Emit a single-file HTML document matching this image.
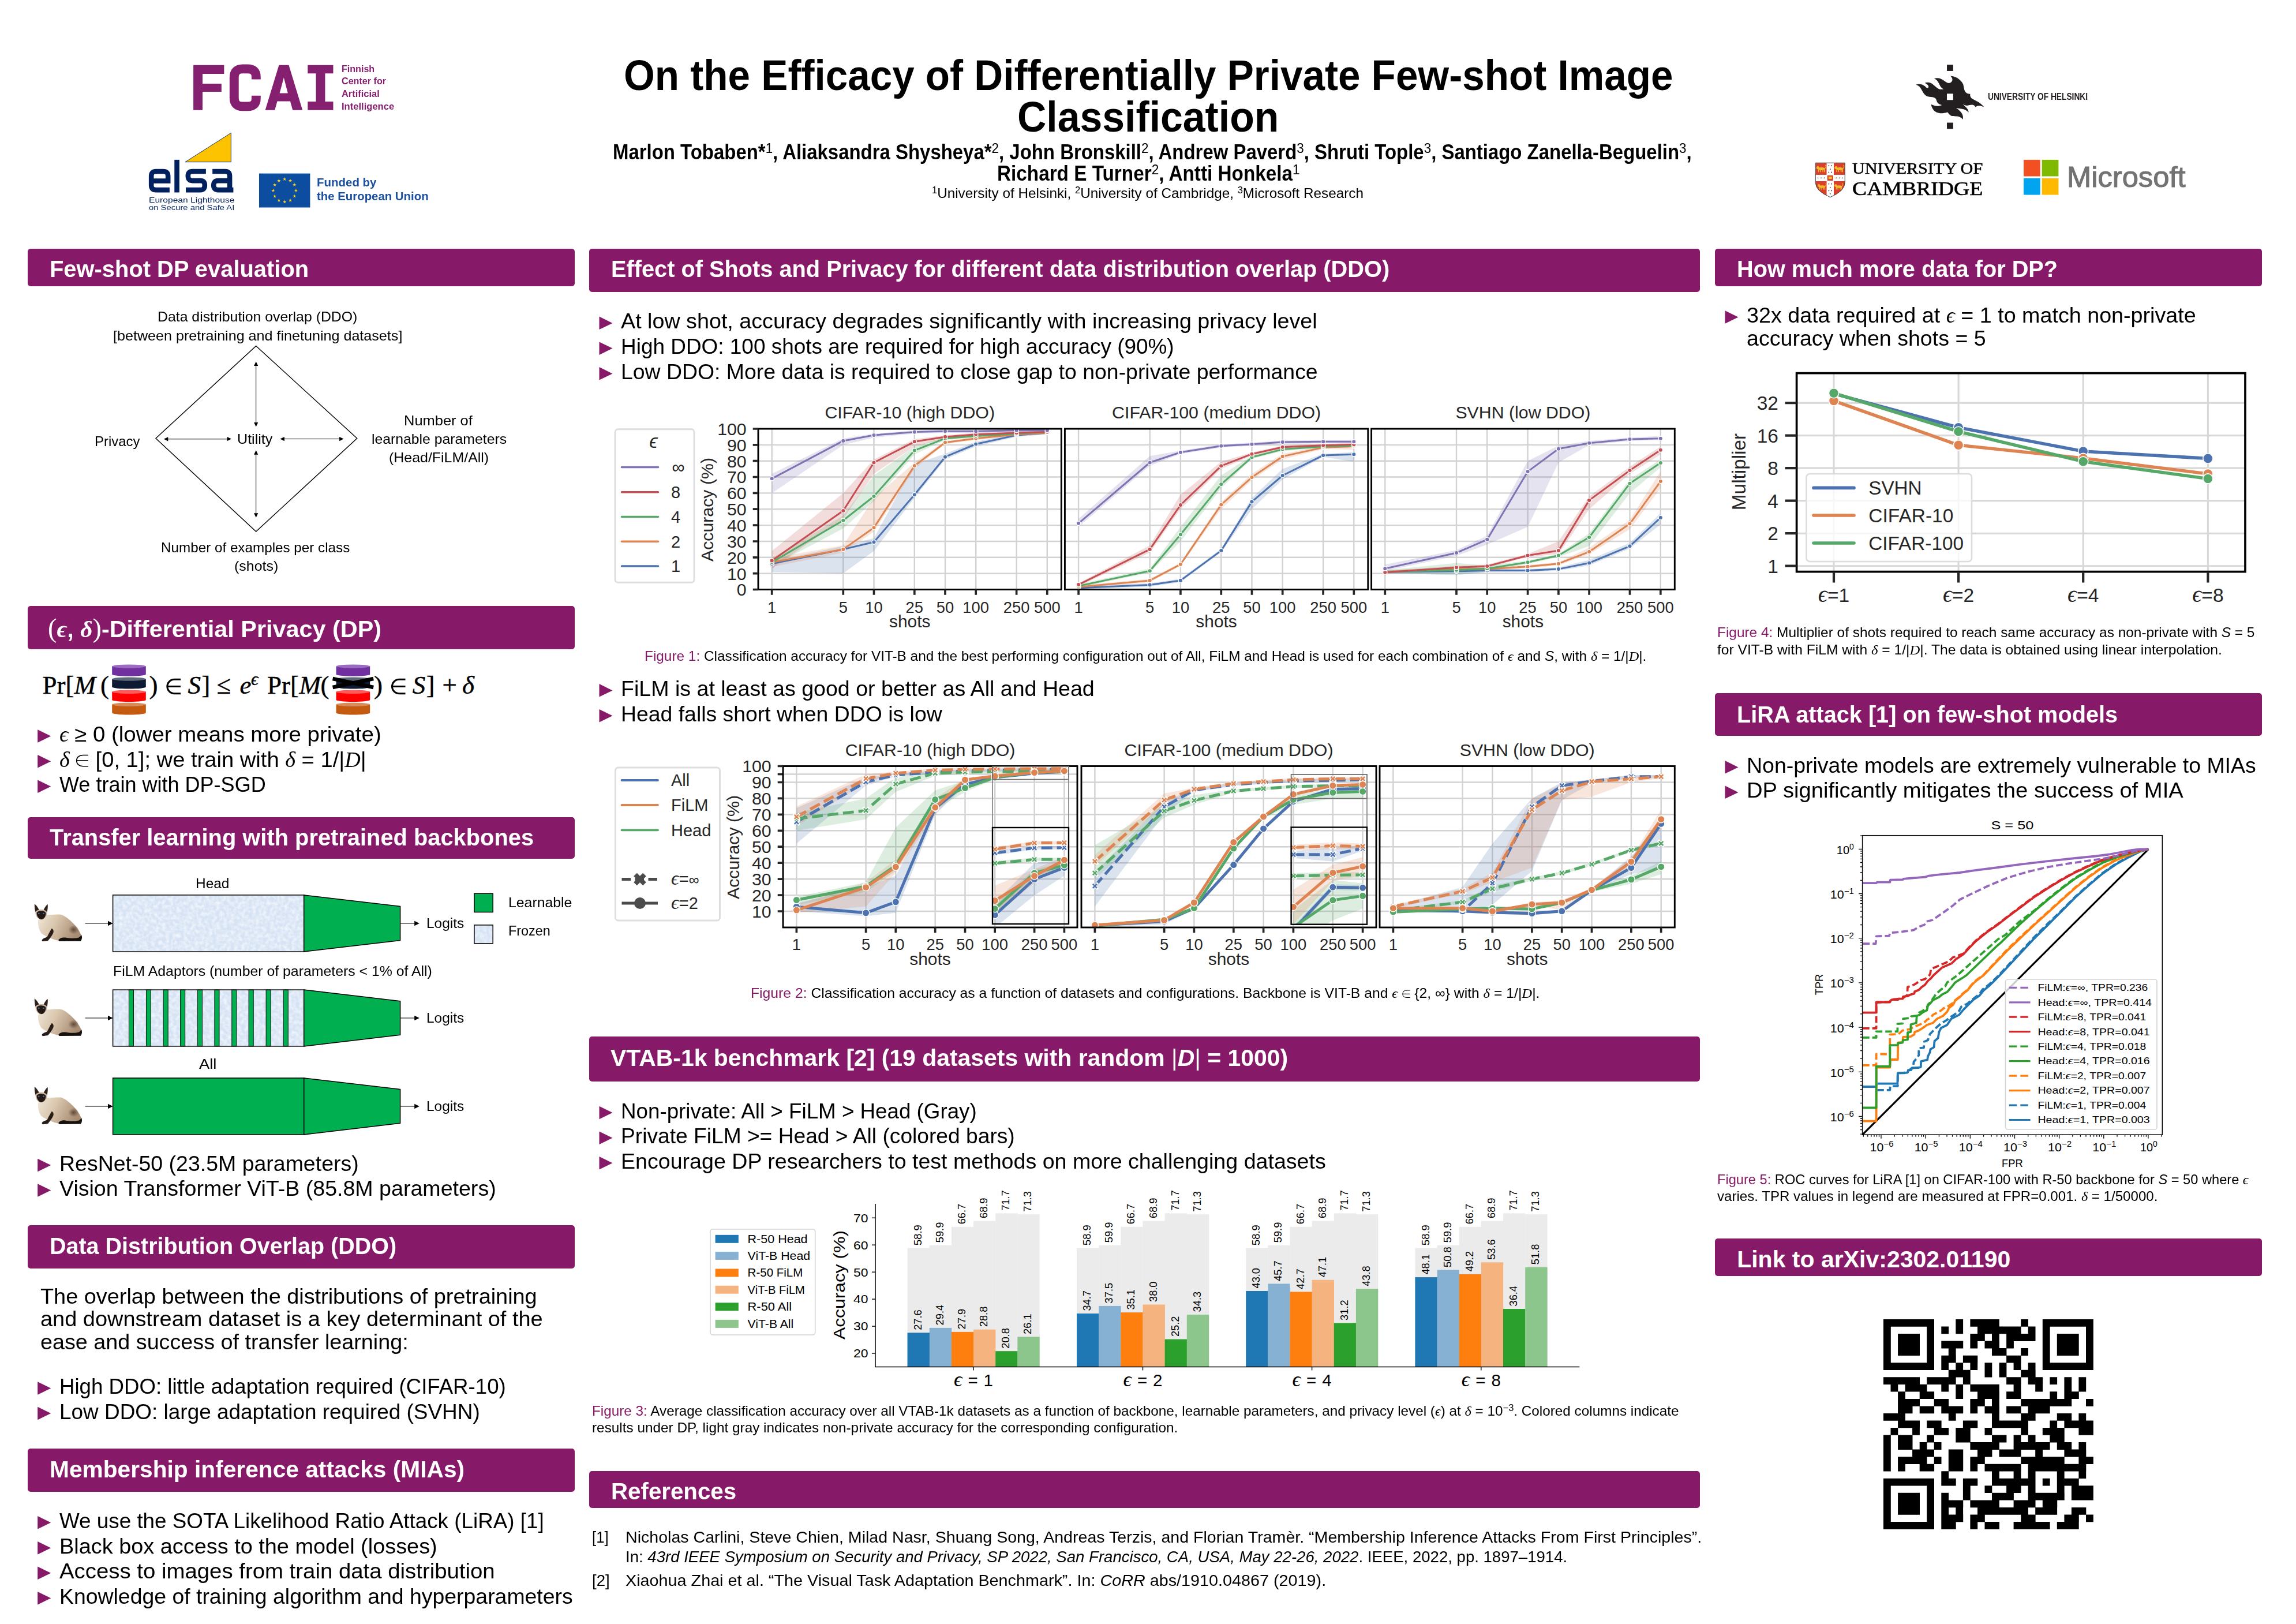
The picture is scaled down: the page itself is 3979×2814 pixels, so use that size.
<!DOCTYPE html>
<html lang="en"><head><meta charset="utf-8"><title>On the Efficacy of Differentially Private Few-shot Image Classification</title>
<style>
html,body{margin:0;padding:0;background:#fff}
body{width:3979px;height:2814px;position:relative;overflow:hidden;font-family:'Liberation Sans', sans-serif}
.bar{position:absolute;background:#871a68;border-radius:5px}
.t{position:absolute;white-space:nowrap;line-height:1;transform-origin:0 0}
sup{font-size:.68em;font-weight:normal;vertical-align:baseline;position:relative;top:-.45em;line-height:0}
.m{font-family:"Liberation Serif",serif;font-style:italic}
svg text{font-family:"Liberation Sans",sans-serif}
#g{position:absolute;left:0;top:0}
</style></head>
<body>
<div class="bar" style="left:47.5px;top:431.0px;width:948.5px;height:65.3px"></div>
<div class="bar" style="left:47.5px;top:1049.5px;width:948.5px;height:75.5px"></div>
<div class="bar" style="left:47.5px;top:1416.0px;width:948.5px;height:72.0px"></div>
<div class="bar" style="left:47.5px;top:2123.3px;width:948.5px;height:74.9px"></div>
<div class="bar" style="left:47.5px;top:2509.6px;width:948.5px;height:75.4px"></div>
<div class="bar" style="left:1021.0px;top:431.4px;width:1925.0px;height:74.7px"></div>
<div class="bar" style="left:1021.0px;top:1796.0px;width:1925.0px;height:78.0px"></div>
<div class="bar" style="left:1021.0px;top:2549.0px;width:1925.0px;height:64.0px"></div>
<div class="bar" style="left:2971.5px;top:431.0px;width:948.5px;height:65.3px"></div>
<div class="bar" style="left:2971.5px;top:1201.0px;width:948.5px;height:74.0px"></div>
<div class="bar" style="left:2971.5px;top:2146.0px;width:948.5px;height:65.0px"></div>
<svg id="g" width="3979" height="2814" viewBox="0 0 3979 2814">
<polygon points="65.2,1264.2 88.2,1275.5 65.2,1286.7" fill="#871a68"/>
<polygon points="65.2,1307.9 88.2,1319.2 65.2,1330.4" fill="#871a68"/>
<polygon points="65.2,1351.5 88.2,1362.8 65.2,1374.0" fill="#871a68"/>
<polygon points="65.2,2007.7 88.2,2019.0 65.2,2030.2" fill="#871a68"/>
<polygon points="65.2,2051.2 88.2,2062.5 65.2,2073.7" fill="#871a68"/>
<polygon points="65.2,2394.3 88.2,2405.6 65.2,2416.8" fill="#871a68"/>
<polygon points="65.2,2437.8 88.2,2449.1 65.2,2460.3" fill="#871a68"/>
<polygon points="65.2,2627.1 88.2,2638.3 65.2,2649.6" fill="#871a68"/>
<polygon points="65.2,2671.1 88.2,2682.3 65.2,2693.6" fill="#871a68"/>
<polygon points="65.2,2714.6 88.2,2725.8 65.2,2737.1" fill="#871a68"/>
<polygon points="65.2,2758.1 88.2,2769.3 65.2,2780.6" fill="#871a68"/>
<polygon points="1038.5,548.6 1061.5,559.9 1038.5,571.1" fill="#871a68"/>
<polygon points="1038.5,592.4 1061.5,603.6 1038.5,614.9" fill="#871a68"/>
<polygon points="1038.5,636.1 1061.5,647.4 1038.5,658.6" fill="#871a68"/>
<polygon points="1038.5,1185.1 1061.5,1196.4 1038.5,1207.6" fill="#871a68"/>
<polygon points="1038.5,1228.9 1061.5,1240.2 1038.5,1251.4" fill="#871a68"/>
<polygon points="1038.5,1916.8 1061.5,1928.1 1038.5,1939.3" fill="#871a68"/>
<polygon points="1038.5,1960.4 1061.5,1971.7 1038.5,1982.9" fill="#871a68"/>
<polygon points="1038.5,2004.0 1061.5,2015.2 1038.5,2026.5" fill="#871a68"/>
<polygon points="2989.5,538.2 3012.5,549.4 2989.5,560.7" fill="#871a68"/>
<polygon points="2989.5,1318.1 3012.5,1329.4 2989.5,1340.6" fill="#871a68"/>
<polygon points="2989.5,1361.6 3012.5,1372.9 2989.5,1384.1" fill="#871a68"/>
<g id="fig1">
<clipPath id="c10"><rect x="1314" y="743" width="525.3" height="278.5"/></clipPath>
<path d="M1337.7 743V1021.5M1461.3 743V1021.5M1514.5 743V1021.5M1584.8 743V1021.5M1638.0 743V1021.5M1691.2 743V1021.5M1761.6 743V1021.5M1814.8 743V1021.5M1314 1021.5H1839.3M1314 993.6H1839.3M1314 965.8H1839.3M1314 938.0H1839.3M1314 910.1H1839.3M1314 882.2H1839.3M1314 854.4H1839.3M1314 826.5H1839.3M1314 798.7H1839.3M1314 770.9H1839.3M1314 743.0H1839.3" stroke="#d2d2d2" stroke-width="2.4" fill="none"/>
<polygon points="1337.7,972.8 1461.3,946.3 1514.5,932.4 1584.8,804.3 1638.0,786.2 1691.2,765.3 1761.6,751.4 1814.8,747.2 1814.8,752.7 1761.6,756.9 1691.2,773.6 1638.0,795.9 1584.8,862.8 1514.5,954.7 1461.3,993.6 1337.7,990.9" fill="#4c72b0" fill-opacity="0.2" clip-path="url(#c10)"/>
<polygon points="1337.7,967.2 1461.3,944.9 1514.5,862.8 1584.8,801.5 1638.0,763.9 1691.2,756.9 1761.6,750.0 1814.8,747.2 1814.8,752.7 1761.6,755.5 1691.2,762.5 1638.0,769.5 1584.8,812.6 1514.5,921.2 1461.3,957.4 1337.7,982.5" fill="#dd8452" fill-opacity="0.2" clip-path="url(#c10)"/>
<polygon points="1337.7,967.2 1461.3,893.4 1514.5,823.8 1584.8,773.6 1638.0,756.9 1691.2,752.7 1761.6,748.6 1814.8,745.8 1814.8,751.4 1761.6,754.1 1691.2,758.3 1638.0,762.5 1584.8,787.6 1514.5,868.3 1461.3,915.7 1337.7,981.1" fill="#55a868" fill-opacity="0.2" clip-path="url(#c10)"/>
<polygon points="1337.7,954.7 1461.3,854.4 1514.5,795.9 1584.8,761.1 1638.0,754.1 1691.2,750.0 1761.6,747.2 1814.8,745.8 1814.8,751.4 1761.6,752.7 1691.2,755.5 1638.0,759.7 1584.8,773.6 1514.5,821.0 1461.3,899.0 1337.7,985.3" fill="#c44e52" fill-opacity="0.2" clip-path="url(#c10)"/>
<polygon points="1337.7,821.0 1461.3,759.7 1514.5,751.4 1584.8,745.8 1638.0,744.4 1691.2,744.4 1761.6,743.0 1814.8,743.0 1814.8,748.6 1761.6,748.6 1691.2,750.0 1638.0,750.0 1584.8,751.4 1514.5,758.3 1461.3,770.9 1337.7,854.4" fill="#8172b3" fill-opacity="0.2" clip-path="url(#c10)"/>
<polyline points="1337.7,976.9 1461.3,951.9 1514.5,939.3 1584.8,857.2 1638.0,791.7 1691.2,769.5 1761.6,754.1 1814.8,750.0" fill="none" stroke="#4c72b0" stroke-width="3.0" stroke-linejoin="round" clip-path="url(#c10)"/>
<circle cx="1337.7" cy="976.9" r="3.7" fill="#4c72b0" stroke="#fff" stroke-width="1.3"/>
<circle cx="1461.3" cy="951.9" r="3.7" fill="#4c72b0" stroke="#fff" stroke-width="1.3"/>
<circle cx="1514.5" cy="939.3" r="3.7" fill="#4c72b0" stroke="#fff" stroke-width="1.3"/>
<circle cx="1584.8" cy="857.2" r="3.7" fill="#4c72b0" stroke="#fff" stroke-width="1.3"/>
<circle cx="1638.0" cy="791.7" r="3.7" fill="#4c72b0" stroke="#fff" stroke-width="1.3"/>
<circle cx="1691.2" cy="769.5" r="3.7" fill="#4c72b0" stroke="#fff" stroke-width="1.3"/>
<circle cx="1761.6" cy="754.1" r="3.7" fill="#4c72b0" stroke="#fff" stroke-width="1.3"/>
<circle cx="1814.8" cy="750.0" r="3.7" fill="#4c72b0" stroke="#fff" stroke-width="1.3"/>
<polyline points="1337.7,974.2 1461.3,951.9 1514.5,914.3 1584.8,807.1 1638.0,766.7 1691.2,759.7 1761.6,752.7 1814.8,750.0" fill="none" stroke="#dd8452" stroke-width="3.0" stroke-linejoin="round" clip-path="url(#c10)"/>
<circle cx="1337.7" cy="974.2" r="3.7" fill="#dd8452" stroke="#fff" stroke-width="1.3"/>
<circle cx="1461.3" cy="951.9" r="3.7" fill="#dd8452" stroke="#fff" stroke-width="1.3"/>
<circle cx="1514.5" cy="914.3" r="3.7" fill="#dd8452" stroke="#fff" stroke-width="1.3"/>
<circle cx="1584.8" cy="807.1" r="3.7" fill="#dd8452" stroke="#fff" stroke-width="1.3"/>
<circle cx="1638.0" cy="766.7" r="3.7" fill="#dd8452" stroke="#fff" stroke-width="1.3"/>
<circle cx="1691.2" cy="759.7" r="3.7" fill="#dd8452" stroke="#fff" stroke-width="1.3"/>
<circle cx="1761.6" cy="752.7" r="3.7" fill="#dd8452" stroke="#fff" stroke-width="1.3"/>
<circle cx="1814.8" cy="750.0" r="3.7" fill="#dd8452" stroke="#fff" stroke-width="1.3"/>
<polyline points="1337.7,974.2 1461.3,901.7 1514.5,860.0 1584.8,780.6 1638.0,759.7 1691.2,755.5 1761.6,751.4 1814.8,748.6" fill="none" stroke="#55a868" stroke-width="3.0" stroke-linejoin="round" clip-path="url(#c10)"/>
<circle cx="1337.7" cy="974.2" r="3.7" fill="#55a868" stroke="#fff" stroke-width="1.3"/>
<circle cx="1461.3" cy="901.7" r="3.7" fill="#55a868" stroke="#fff" stroke-width="1.3"/>
<circle cx="1514.5" cy="860.0" r="3.7" fill="#55a868" stroke="#fff" stroke-width="1.3"/>
<circle cx="1584.8" cy="780.6" r="3.7" fill="#55a868" stroke="#fff" stroke-width="1.3"/>
<circle cx="1638.0" cy="759.7" r="3.7" fill="#55a868" stroke="#fff" stroke-width="1.3"/>
<circle cx="1691.2" cy="755.5" r="3.7" fill="#55a868" stroke="#fff" stroke-width="1.3"/>
<circle cx="1761.6" cy="751.4" r="3.7" fill="#55a868" stroke="#fff" stroke-width="1.3"/>
<circle cx="1814.8" cy="748.6" r="3.7" fill="#55a868" stroke="#fff" stroke-width="1.3"/>
<polyline points="1337.7,971.4 1461.3,885.0 1514.5,801.5 1584.8,765.3 1638.0,756.9 1691.2,752.7 1761.6,750.0 1814.8,748.6" fill="none" stroke="#c44e52" stroke-width="3.0" stroke-linejoin="round" clip-path="url(#c10)"/>
<circle cx="1337.7" cy="971.4" r="3.7" fill="#c44e52" stroke="#fff" stroke-width="1.3"/>
<circle cx="1461.3" cy="885.0" r="3.7" fill="#c44e52" stroke="#fff" stroke-width="1.3"/>
<circle cx="1514.5" cy="801.5" r="3.7" fill="#c44e52" stroke="#fff" stroke-width="1.3"/>
<circle cx="1584.8" cy="765.3" r="3.7" fill="#c44e52" stroke="#fff" stroke-width="1.3"/>
<circle cx="1638.0" cy="756.9" r="3.7" fill="#c44e52" stroke="#fff" stroke-width="1.3"/>
<circle cx="1691.2" cy="752.7" r="3.7" fill="#c44e52" stroke="#fff" stroke-width="1.3"/>
<circle cx="1761.6" cy="750.0" r="3.7" fill="#c44e52" stroke="#fff" stroke-width="1.3"/>
<circle cx="1814.8" cy="748.6" r="3.7" fill="#c44e52" stroke="#fff" stroke-width="1.3"/>
<polyline points="1337.7,829.3 1461.3,763.9 1514.5,754.1 1584.8,748.6 1638.0,747.2 1691.2,747.2 1761.6,745.8 1814.8,745.8" fill="none" stroke="#8172b3" stroke-width="3.0" stroke-linejoin="round" clip-path="url(#c10)"/>
<circle cx="1337.7" cy="829.3" r="3.7" fill="#8172b3" stroke="#fff" stroke-width="1.3"/>
<circle cx="1461.3" cy="763.9" r="3.7" fill="#8172b3" stroke="#fff" stroke-width="1.3"/>
<circle cx="1514.5" cy="754.1" r="3.7" fill="#8172b3" stroke="#fff" stroke-width="1.3"/>
<circle cx="1584.8" cy="748.6" r="3.7" fill="#8172b3" stroke="#fff" stroke-width="1.3"/>
<circle cx="1638.0" cy="747.2" r="3.7" fill="#8172b3" stroke="#fff" stroke-width="1.3"/>
<circle cx="1691.2" cy="747.2" r="3.7" fill="#8172b3" stroke="#fff" stroke-width="1.3"/>
<circle cx="1761.6" cy="745.8" r="3.7" fill="#8172b3" stroke="#fff" stroke-width="1.3"/>
<circle cx="1814.8" cy="745.8" r="3.7" fill="#8172b3" stroke="#fff" stroke-width="1.3"/>
<rect x="1314" y="743" width="525.3" height="278.5" fill="none" stroke="#000" stroke-width="2.9"/>
<path d="M1337.7 1021.5v9.3M1461.3 1021.5v9.3M1514.5 1021.5v9.3M1584.8 1021.5v9.3M1638.0 1021.5v9.3M1691.2 1021.5v9.3M1761.6 1021.5v9.3M1814.8 1021.5v9.3" stroke="#262626" stroke-width="3.7"/>
<text x="1337.7" y="1061.8" font-size="27.4" text-anchor="middle" fill="#262626" >1</text>
<text x="1461.3" y="1061.8" font-size="27.4" text-anchor="middle" fill="#262626" >5</text>
<text x="1514.5" y="1061.8" font-size="27.4" text-anchor="middle" fill="#262626" >10</text>
<text x="1584.8" y="1061.8" font-size="27.4" text-anchor="middle" fill="#262626" >25</text>
<text x="1638.0" y="1061.8" font-size="27.4" text-anchor="middle" fill="#262626" >50</text>
<text x="1691.2" y="1061.8" font-size="27.4" text-anchor="middle" fill="#262626" >100</text>
<text x="1761.6" y="1061.8" font-size="27.4" text-anchor="middle" fill="#262626" >250</text>
<text x="1814.8" y="1061.8" font-size="27.4" text-anchor="middle" fill="#262626" >500</text>
<path d="M1314 1021.5h-9.3M1314 993.6h-9.3M1314 965.8h-9.3M1314 938.0h-9.3M1314 910.1h-9.3M1314 882.2h-9.3M1314 854.4h-9.3M1314 826.5h-9.3M1314 798.7h-9.3M1314 770.9h-9.3M1314 743.0h-9.3" stroke="#262626" stroke-width="3.7"/>
<text x="1293.7" y="1032.3" font-size="30.3" text-anchor="end" fill="#262626" >0</text>
<text x="1293.7" y="1004.5" font-size="30.3" text-anchor="end" fill="#262626" >10</text>
<text x="1293.7" y="976.6" font-size="30.3" text-anchor="end" fill="#262626" >20</text>
<text x="1293.7" y="948.8" font-size="30.3" text-anchor="end" fill="#262626" >30</text>
<text x="1293.7" y="920.9" font-size="30.3" text-anchor="end" fill="#262626" >40</text>
<text x="1293.7" y="893.1" font-size="30.3" text-anchor="end" fill="#262626" >50</text>
<text x="1293.7" y="865.2" font-size="30.3" text-anchor="end" fill="#262626" >60</text>
<text x="1293.7" y="837.4" font-size="30.3" text-anchor="end" fill="#262626" >70</text>
<text x="1293.7" y="809.5" font-size="30.3" text-anchor="end" fill="#262626" >80</text>
<text x="1293.7" y="781.7" font-size="30.3" text-anchor="end" fill="#262626" >90</text>
<text x="1293.7" y="753.8" font-size="30.3" text-anchor="end" fill="#262626" >100</text>
<text x="1576.7" y="724.8" font-size="30.3" text-anchor="middle" fill="#262626" >CIFAR-10 (high DDO)</text>
<text x="1576.7" y="1087.4" font-size="29.9" text-anchor="middle" fill="#262626" >shots</text>
<clipPath id="c11"><rect x="1845.4" y="743" width="525.4000000000001" height="278.5"/></clipPath>
<path d="M1869.1 743V1021.5M1992.7 743V1021.5M2045.9 743V1021.5M2116.3 743V1021.5M2169.5 743V1021.5M2222.7 743V1021.5M2293.1 743V1021.5M2346.3 743V1021.5M1845.4 1021.5H2370.8M1845.4 993.6H2370.8M1845.4 965.8H2370.8M1845.4 938.0H2370.8M1845.4 910.1H2370.8M1845.4 882.2H2370.8M1845.4 854.4H2370.8M1845.4 826.5H2370.8M1845.4 798.7H2370.8M1845.4 770.9H2370.8M1845.4 743.0H2370.8" stroke="#d2d2d2" stroke-width="2.4" fill="none"/>
<polygon points="1869.1,1015.9 1992.7,1010.6 2045.9,1003.1 2116.3,951.3 2169.5,862.8 2222.7,812.6 2293.1,786.2 2346.3,783.4 2346.3,800.1 2293.1,791.7 2222.7,830.7 2169.5,882.2 2116.3,956.9 2045.9,1008.7 1992.7,1016.2 1869.1,1021.5" fill="#4c72b0" fill-opacity="0.2" clip-path="url(#c11)"/>
<polygon points="1869.1,1014.3 1992.7,1003.1 2045.9,975.0 2116.3,869.7 2169.5,821.0 2222.7,786.2 2293.1,772.5 2346.3,770.9 2346.3,779.2 2293.1,778.1 2222.7,795.9 2169.5,832.1 2116.3,882.2 2045.9,980.6 1992.7,1008.7 1869.1,1019.8" fill="#dd8452" fill-opacity="0.2" clip-path="url(#c11)"/>
<polygon points="1869.1,1012.6 1992.7,985.3 2045.9,912.9 2116.3,823.8 2169.5,789.5 2222.7,775.9 2293.1,770.9 2346.3,769.5 2346.3,775.0 2293.1,776.4 2222.7,781.4 2169.5,795.1 2116.3,846.0 2045.9,938.0 1992.7,992.3 1869.1,1018.2" fill="#55a868" fill-opacity="0.2" clip-path="url(#c11)"/>
<polygon points="1869.1,1010.4 1992.7,944.9 2045.9,857.2 2116.3,800.1 2169.5,783.9 2222.7,772.0 2293.1,768.9 2346.3,767.5 2346.3,773.1 2293.1,774.5 2222.7,777.5 2169.5,789.5 2116.3,812.6 2045.9,882.2 1992.7,957.4 1869.1,1015.9" fill="#c44e52" fill-opacity="0.2" clip-path="url(#c11)"/>
<polygon points="1869.1,899.0 1992.7,790.3 2045.9,780.9 2116.3,770.0 2169.5,767.0 2222.7,763.3 2293.1,762.5 2346.3,762.5 2346.3,768.1 2293.1,768.1 2222.7,768.9 2169.5,772.5 2116.3,775.6 2045.9,786.4 1992.7,807.1 1869.1,912.9" fill="#8172b3" fill-opacity="0.2" clip-path="url(#c11)"/>
<polyline points="1869.1,1018.7 1992.7,1013.4 2045.9,1005.9 2116.3,954.1 2169.5,869.4 2222.7,824.0 2293.1,789.0 2346.3,787.3" fill="none" stroke="#4c72b0" stroke-width="3.0" stroke-linejoin="round" clip-path="url(#c11)"/>
<circle cx="1869.1" cy="1018.7" r="3.7" fill="#4c72b0" stroke="#fff" stroke-width="1.3"/>
<circle cx="1992.7" cy="1013.4" r="3.7" fill="#4c72b0" stroke="#fff" stroke-width="1.3"/>
<circle cx="2045.9" cy="1005.9" r="3.7" fill="#4c72b0" stroke="#fff" stroke-width="1.3"/>
<circle cx="2116.3" cy="954.1" r="3.7" fill="#4c72b0" stroke="#fff" stroke-width="1.3"/>
<circle cx="2169.5" cy="869.4" r="3.7" fill="#4c72b0" stroke="#fff" stroke-width="1.3"/>
<circle cx="2222.7" cy="824.0" r="3.7" fill="#4c72b0" stroke="#fff" stroke-width="1.3"/>
<circle cx="2293.1" cy="789.0" r="3.7" fill="#4c72b0" stroke="#fff" stroke-width="1.3"/>
<circle cx="2346.3" cy="787.3" r="3.7" fill="#4c72b0" stroke="#fff" stroke-width="1.3"/>
<polyline points="1869.1,1017.0 1992.7,1005.9 2045.9,977.8 2116.3,874.5 2169.5,827.1 2222.7,790.9 2293.1,775.3 2346.3,773.6" fill="none" stroke="#dd8452" stroke-width="3.0" stroke-linejoin="round" clip-path="url(#c11)"/>
<circle cx="1869.1" cy="1017.0" r="3.7" fill="#dd8452" stroke="#fff" stroke-width="1.3"/>
<circle cx="1992.7" cy="1005.9" r="3.7" fill="#dd8452" stroke="#fff" stroke-width="1.3"/>
<circle cx="2045.9" cy="977.8" r="3.7" fill="#dd8452" stroke="#fff" stroke-width="1.3"/>
<circle cx="2116.3" cy="874.5" r="3.7" fill="#dd8452" stroke="#fff" stroke-width="1.3"/>
<circle cx="2169.5" cy="827.1" r="3.7" fill="#dd8452" stroke="#fff" stroke-width="1.3"/>
<circle cx="2222.7" cy="790.9" r="3.7" fill="#dd8452" stroke="#fff" stroke-width="1.3"/>
<circle cx="2293.1" cy="775.3" r="3.7" fill="#dd8452" stroke="#fff" stroke-width="1.3"/>
<circle cx="2346.3" cy="773.6" r="3.7" fill="#dd8452" stroke="#fff" stroke-width="1.3"/>
<polyline points="1869.1,1015.4 1992.7,989.2 2045.9,926.3 2116.3,839.1 2169.5,792.3 2222.7,778.6 2293.1,773.6 2346.3,772.2" fill="none" stroke="#55a868" stroke-width="3.0" stroke-linejoin="round" clip-path="url(#c11)"/>
<circle cx="1869.1" cy="1015.4" r="3.7" fill="#55a868" stroke="#fff" stroke-width="1.3"/>
<circle cx="1992.7" cy="989.2" r="3.7" fill="#55a868" stroke="#fff" stroke-width="1.3"/>
<circle cx="2045.9" cy="926.3" r="3.7" fill="#55a868" stroke="#fff" stroke-width="1.3"/>
<circle cx="2116.3" cy="839.1" r="3.7" fill="#55a868" stroke="#fff" stroke-width="1.3"/>
<circle cx="2169.5" cy="792.3" r="3.7" fill="#55a868" stroke="#fff" stroke-width="1.3"/>
<circle cx="2222.7" cy="778.6" r="3.7" fill="#55a868" stroke="#fff" stroke-width="1.3"/>
<circle cx="2293.1" cy="773.6" r="3.7" fill="#55a868" stroke="#fff" stroke-width="1.3"/>
<circle cx="2346.3" cy="772.2" r="3.7" fill="#55a868" stroke="#fff" stroke-width="1.3"/>
<polyline points="1869.1,1013.1 1992.7,951.9 2045.9,875.0 2116.3,807.3 2169.5,786.7 2222.7,774.7 2293.1,771.7 2346.3,770.3" fill="none" stroke="#c44e52" stroke-width="3.0" stroke-linejoin="round" clip-path="url(#c11)"/>
<circle cx="1869.1" cy="1013.1" r="3.7" fill="#c44e52" stroke="#fff" stroke-width="1.3"/>
<circle cx="1992.7" cy="951.9" r="3.7" fill="#c44e52" stroke="#fff" stroke-width="1.3"/>
<circle cx="2045.9" cy="875.0" r="3.7" fill="#c44e52" stroke="#fff" stroke-width="1.3"/>
<circle cx="2116.3" cy="807.3" r="3.7" fill="#c44e52" stroke="#fff" stroke-width="1.3"/>
<circle cx="2169.5" cy="786.7" r="3.7" fill="#c44e52" stroke="#fff" stroke-width="1.3"/>
<circle cx="2222.7" cy="774.7" r="3.7" fill="#c44e52" stroke="#fff" stroke-width="1.3"/>
<circle cx="2293.1" cy="771.7" r="3.7" fill="#c44e52" stroke="#fff" stroke-width="1.3"/>
<circle cx="2346.3" cy="770.3" r="3.7" fill="#c44e52" stroke="#fff" stroke-width="1.3"/>
<polyline points="1869.1,906.8 1992.7,801.5 2045.9,783.7 2116.3,772.8 2169.5,769.7 2222.7,766.1 2293.1,765.3 2346.3,765.3" fill="none" stroke="#8172b3" stroke-width="3.0" stroke-linejoin="round" clip-path="url(#c11)"/>
<circle cx="1869.1" cy="906.8" r="3.7" fill="#8172b3" stroke="#fff" stroke-width="1.3"/>
<circle cx="1992.7" cy="801.5" r="3.7" fill="#8172b3" stroke="#fff" stroke-width="1.3"/>
<circle cx="2045.9" cy="783.7" r="3.7" fill="#8172b3" stroke="#fff" stroke-width="1.3"/>
<circle cx="2116.3" cy="772.8" r="3.7" fill="#8172b3" stroke="#fff" stroke-width="1.3"/>
<circle cx="2169.5" cy="769.7" r="3.7" fill="#8172b3" stroke="#fff" stroke-width="1.3"/>
<circle cx="2222.7" cy="766.1" r="3.7" fill="#8172b3" stroke="#fff" stroke-width="1.3"/>
<circle cx="2293.1" cy="765.3" r="3.7" fill="#8172b3" stroke="#fff" stroke-width="1.3"/>
<circle cx="2346.3" cy="765.3" r="3.7" fill="#8172b3" stroke="#fff" stroke-width="1.3"/>
<rect x="1845.4" y="743" width="525.4000000000001" height="278.5" fill="none" stroke="#000" stroke-width="2.9"/>
<path d="M1869.1 1021.5v9.3M1992.7 1021.5v9.3M2045.9 1021.5v9.3M2116.3 1021.5v9.3M2169.5 1021.5v9.3M2222.7 1021.5v9.3M2293.1 1021.5v9.3M2346.3 1021.5v9.3" stroke="#262626" stroke-width="3.7"/>
<text x="1869.1" y="1061.8" font-size="27.4" text-anchor="middle" fill="#262626" >1</text>
<text x="1992.7" y="1061.8" font-size="27.4" text-anchor="middle" fill="#262626" >5</text>
<text x="2045.9" y="1061.8" font-size="27.4" text-anchor="middle" fill="#262626" >10</text>
<text x="2116.3" y="1061.8" font-size="27.4" text-anchor="middle" fill="#262626" >25</text>
<text x="2169.5" y="1061.8" font-size="27.4" text-anchor="middle" fill="#262626" >50</text>
<text x="2222.7" y="1061.8" font-size="27.4" text-anchor="middle" fill="#262626" >100</text>
<text x="2293.1" y="1061.8" font-size="27.4" text-anchor="middle" fill="#262626" >250</text>
<text x="2346.3" y="1061.8" font-size="27.4" text-anchor="middle" fill="#262626" >500</text>
<text x="2108.1" y="724.8" font-size="30.3" text-anchor="middle" fill="#262626" >CIFAR-100 (medium DDO)</text>
<text x="2108.1" y="1087.4" font-size="29.9" text-anchor="middle" fill="#262626" >shots</text>
<clipPath id="c12"><rect x="2376.6" y="743" width="525.7000000000003" height="278.5"/></clipPath>
<path d="M2400.3 743V1021.5M2524.0 743V1021.5M2577.2 743V1021.5M2647.6 743V1021.5M2700.9 743V1021.5M2754.1 743V1021.5M2824.5 743V1021.5M2877.8 743V1021.5M2376.6 1021.5H2902.3M2376.6 993.6H2902.3M2376.6 965.8H2902.3M2376.6 938.0H2902.3M2376.6 910.1H2902.3M2376.6 882.2H2902.3M2376.6 854.4H2902.3M2376.6 826.5H2902.3M2376.6 798.7H2902.3M2376.6 770.9H2902.3M2376.6 743.0H2902.3" stroke="#d2d2d2" stroke-width="2.4" fill="none"/>
<polygon points="2400.3,988.1 2524.0,986.7 2577.2,985.9 2647.6,985.9 2700.9,983.3 2754.1,970.0 2824.5,940.7 2877.8,889.2 2877.8,908.7 2824.5,950.5 2754.1,979.7 2700.9,988.9 2647.6,991.4 2577.2,991.4 2524.0,996.4 2400.3,993.6" fill="#4c72b0" fill-opacity="0.2" clip-path="url(#c12)"/>
<polygon points="2400.3,988.1 2524.0,983.3 2577.2,983.3 2647.6,978.9 2700.9,973.9 2754.1,949.1 2824.5,900.4 2877.8,816.8 2877.8,846.0 2824.5,917.1 2754.1,960.2 2700.9,979.4 2647.6,984.5 2577.2,988.9 2524.0,988.9 2400.3,993.6" fill="#dd8452" fill-opacity="0.2" clip-path="url(#c12)"/>
<polygon points="2400.3,988.1 2524.0,975.5 2577.2,979.7 2647.6,971.4 2700.9,959.7 2754.1,924.0 2824.5,830.7 2877.8,795.9 2877.8,809.8 2824.5,854.4 2754.1,946.3 2700.9,965.2 2647.6,976.9 2577.2,990.9 2524.0,995.0 2400.3,993.6" fill="#55a868" fill-opacity="0.2" clip-path="url(#c12)"/>
<polygon points="2400.3,988.9 2524.0,980.6 2577.2,978.3 2647.6,959.7 2700.9,938.0 2754.1,860.0 2824.5,808.4 2877.8,773.6 2877.8,787.6 2824.5,821.0 2754.1,882.2 2700.9,960.2 2647.6,965.2 2577.2,983.9 2524.0,986.1 2400.3,994.5" fill="#c44e52" fill-opacity="0.2" clip-path="url(#c12)"/>
<polygon points="2400.3,978.3 2524.0,953.3 2577.2,928.2 2647.6,798.7 2700.9,772.2 2754.1,763.9 2824.5,758.3 2877.8,755.5 2877.8,762.5 2824.5,763.9 2754.1,770.9 2700.9,801.5 2647.6,912.9 2577.2,943.5 2524.0,963.0 2400.3,989.5" fill="#8172b3" fill-opacity="0.2" clip-path="url(#c12)"/>
<polyline points="2400.3,990.9 2524.0,989.8 2577.2,988.6 2647.6,988.6 2700.9,986.1 2754.1,975.5 2824.5,946.3 2877.8,897.0" fill="none" stroke="#4c72b0" stroke-width="3.0" stroke-linejoin="round" clip-path="url(#c12)"/>
<circle cx="2400.3" cy="990.9" r="3.7" fill="#4c72b0" stroke="#fff" stroke-width="1.3"/>
<circle cx="2524.0" cy="989.8" r="3.7" fill="#4c72b0" stroke="#fff" stroke-width="1.3"/>
<circle cx="2577.2" cy="988.6" r="3.7" fill="#4c72b0" stroke="#fff" stroke-width="1.3"/>
<circle cx="2647.6" cy="988.6" r="3.7" fill="#4c72b0" stroke="#fff" stroke-width="1.3"/>
<circle cx="2700.9" cy="986.1" r="3.7" fill="#4c72b0" stroke="#fff" stroke-width="1.3"/>
<circle cx="2754.1" cy="975.5" r="3.7" fill="#4c72b0" stroke="#fff" stroke-width="1.3"/>
<circle cx="2824.5" cy="946.3" r="3.7" fill="#4c72b0" stroke="#fff" stroke-width="1.3"/>
<circle cx="2877.8" cy="897.0" r="3.7" fill="#4c72b0" stroke="#fff" stroke-width="1.3"/>
<polyline points="2400.3,990.9 2524.0,986.1 2577.2,986.1 2647.6,981.7 2700.9,976.7 2754.1,956.1 2824.5,907.6 2877.8,834.1" fill="none" stroke="#dd8452" stroke-width="3.0" stroke-linejoin="round" clip-path="url(#c12)"/>
<circle cx="2400.3" cy="990.9" r="3.7" fill="#dd8452" stroke="#fff" stroke-width="1.3"/>
<circle cx="2524.0" cy="986.1" r="3.7" fill="#dd8452" stroke="#fff" stroke-width="1.3"/>
<circle cx="2577.2" cy="986.1" r="3.7" fill="#dd8452" stroke="#fff" stroke-width="1.3"/>
<circle cx="2647.6" cy="981.7" r="3.7" fill="#dd8452" stroke="#fff" stroke-width="1.3"/>
<circle cx="2700.9" cy="976.7" r="3.7" fill="#dd8452" stroke="#fff" stroke-width="1.3"/>
<circle cx="2754.1" cy="956.1" r="3.7" fill="#dd8452" stroke="#fff" stroke-width="1.3"/>
<circle cx="2824.5" cy="907.6" r="3.7" fill="#dd8452" stroke="#fff" stroke-width="1.3"/>
<circle cx="2877.8" cy="834.1" r="3.7" fill="#dd8452" stroke="#fff" stroke-width="1.3"/>
<polyline points="2400.3,990.9 2524.0,987.8 2577.2,985.3 2647.6,974.2 2700.9,962.5 2754.1,931.0 2824.5,837.7 2877.8,802.0" fill="none" stroke="#55a868" stroke-width="3.0" stroke-linejoin="round" clip-path="url(#c12)"/>
<circle cx="2400.3" cy="990.9" r="3.7" fill="#55a868" stroke="#fff" stroke-width="1.3"/>
<circle cx="2524.0" cy="987.8" r="3.7" fill="#55a868" stroke="#fff" stroke-width="1.3"/>
<circle cx="2577.2" cy="985.3" r="3.7" fill="#55a868" stroke="#fff" stroke-width="1.3"/>
<circle cx="2647.6" cy="974.2" r="3.7" fill="#55a868" stroke="#fff" stroke-width="1.3"/>
<circle cx="2700.9" cy="962.5" r="3.7" fill="#55a868" stroke="#fff" stroke-width="1.3"/>
<circle cx="2754.1" cy="931.0" r="3.7" fill="#55a868" stroke="#fff" stroke-width="1.3"/>
<circle cx="2824.5" cy="837.7" r="3.7" fill="#55a868" stroke="#fff" stroke-width="1.3"/>
<circle cx="2877.8" cy="802.0" r="3.7" fill="#55a868" stroke="#fff" stroke-width="1.3"/>
<polyline points="2400.3,991.7 2524.0,983.3 2577.2,981.1 2647.6,962.5 2700.9,954.1 2754.1,866.9 2824.5,815.1 2877.8,779.8" fill="none" stroke="#c44e52" stroke-width="3.0" stroke-linejoin="round" clip-path="url(#c12)"/>
<circle cx="2400.3" cy="991.7" r="3.7" fill="#c44e52" stroke="#fff" stroke-width="1.3"/>
<circle cx="2524.0" cy="983.3" r="3.7" fill="#c44e52" stroke="#fff" stroke-width="1.3"/>
<circle cx="2577.2" cy="981.1" r="3.7" fill="#c44e52" stroke="#fff" stroke-width="1.3"/>
<circle cx="2647.6" cy="962.5" r="3.7" fill="#c44e52" stroke="#fff" stroke-width="1.3"/>
<circle cx="2700.9" cy="954.1" r="3.7" fill="#c44e52" stroke="#fff" stroke-width="1.3"/>
<circle cx="2754.1" cy="866.9" r="3.7" fill="#c44e52" stroke="#fff" stroke-width="1.3"/>
<circle cx="2824.5" cy="815.1" r="3.7" fill="#c44e52" stroke="#fff" stroke-width="1.3"/>
<circle cx="2877.8" cy="779.8" r="3.7" fill="#c44e52" stroke="#fff" stroke-width="1.3"/>
<polyline points="2400.3,985.3 2524.0,958.0 2577.2,934.9 2647.6,817.1 2700.9,777.8 2754.1,767.8 2824.5,761.1 2877.8,759.7" fill="none" stroke="#8172b3" stroke-width="3.0" stroke-linejoin="round" clip-path="url(#c12)"/>
<circle cx="2400.3" cy="985.3" r="3.7" fill="#8172b3" stroke="#fff" stroke-width="1.3"/>
<circle cx="2524.0" cy="958.0" r="3.7" fill="#8172b3" stroke="#fff" stroke-width="1.3"/>
<circle cx="2577.2" cy="934.9" r="3.7" fill="#8172b3" stroke="#fff" stroke-width="1.3"/>
<circle cx="2647.6" cy="817.1" r="3.7" fill="#8172b3" stroke="#fff" stroke-width="1.3"/>
<circle cx="2700.9" cy="777.8" r="3.7" fill="#8172b3" stroke="#fff" stroke-width="1.3"/>
<circle cx="2754.1" cy="767.8" r="3.7" fill="#8172b3" stroke="#fff" stroke-width="1.3"/>
<circle cx="2824.5" cy="761.1" r="3.7" fill="#8172b3" stroke="#fff" stroke-width="1.3"/>
<circle cx="2877.8" cy="759.7" r="3.7" fill="#8172b3" stroke="#fff" stroke-width="1.3"/>
<rect x="2376.6" y="743" width="525.7000000000003" height="278.5" fill="none" stroke="#000" stroke-width="2.9"/>
<path d="M2400.3 1021.5v9.3M2524.0 1021.5v9.3M2577.2 1021.5v9.3M2647.6 1021.5v9.3M2700.9 1021.5v9.3M2754.1 1021.5v9.3M2824.5 1021.5v9.3M2877.8 1021.5v9.3" stroke="#262626" stroke-width="3.7"/>
<text x="2400.3" y="1061.8" font-size="27.4" text-anchor="middle" fill="#262626" >1</text>
<text x="2524.0" y="1061.8" font-size="27.4" text-anchor="middle" fill="#262626" >5</text>
<text x="2577.2" y="1061.8" font-size="27.4" text-anchor="middle" fill="#262626" >10</text>
<text x="2647.6" y="1061.8" font-size="27.4" text-anchor="middle" fill="#262626" >25</text>
<text x="2700.9" y="1061.8" font-size="27.4" text-anchor="middle" fill="#262626" >50</text>
<text x="2754.1" y="1061.8" font-size="27.4" text-anchor="middle" fill="#262626" >100</text>
<text x="2824.5" y="1061.8" font-size="27.4" text-anchor="middle" fill="#262626" >250</text>
<text x="2877.8" y="1061.8" font-size="27.4" text-anchor="middle" fill="#262626" >500</text>
<text x="2639.4" y="724.8" font-size="30.3" text-anchor="middle" fill="#262626" >SVHN (low DDO)</text>
<text x="2639.4" y="1087.4" font-size="29.9" text-anchor="middle" fill="#262626" >shots</text>
<text x="1236.4" y="883.0" font-size="30.3" text-anchor="middle" fill="#262626" transform="rotate(-90 1236.4 883)">Accuracy (%)</text>
<rect x="1066" y="743.8" width="137" height="265.5" rx="5" fill="#fff" stroke="#dedede" stroke-width="2.9"/>
<text x="1132.5" y="776" font-size="33" text-anchor="middle" fill="#262626" font-family="Liberation Serif" font-style="italic">ϵ</text>
<path d="M1077.5 809.5H1140.5" stroke="#8172b3" stroke-width="3.6" stroke-linecap="round"/>
<text x="1164.5" y="820.0" font-size="31" text-anchor="start" fill="#262626" >∞</text>
<path d="M1077.5 852.8H1140.5" stroke="#c44e52" stroke-width="3.6" stroke-linecap="round"/>
<text x="1163.0" y="863.2" font-size="29" text-anchor="start" fill="#262626" >8</text>
<path d="M1077.5 895.5H1140.5" stroke="#55a868" stroke-width="3.6" stroke-linecap="round"/>
<text x="1163.0" y="905.9" font-size="29" text-anchor="start" fill="#262626" >4</text>
<path d="M1077.5 938.2H1140.5" stroke="#dd8452" stroke-width="3.6" stroke-linecap="round"/>
<text x="1163.0" y="948.6" font-size="29" text-anchor="start" fill="#262626" >2</text>
<path d="M1077.5 981H1140.5" stroke="#4c72b0" stroke-width="3.6" stroke-linecap="round"/>
<text x="1163.0" y="991.4" font-size="29" text-anchor="start" fill="#262626" >1</text>
</g>
<g id="fig2">
<clipPath id="c20"><rect x="1357" y="1327.5" width="510" height="279.5"/></clipPath>
<path d="M1380.4 1327.5V1607M1500.6 1327.5V1607M1552.3 1327.5V1607M1620.7 1327.5V1607M1672.5 1327.5V1607M1724.2 1327.5V1607M1792.6 1327.5V1607M1844.4 1327.5V1607M1357 1579.0H1867M1357 1551.1H1867M1357 1523.2H1867M1357 1495.2H1867M1357 1467.2H1867M1357 1439.3H1867M1357 1411.3H1867M1357 1383.4H1867M1357 1355.5H1867M1357 1327.5H1867M1357 1341.5H1867" stroke="#d2d2d2" stroke-width="2.4" fill="none"/>
<path d="M1357 1341.5h-9.3" stroke="#262626" stroke-width="3.7"/>
<polygon points="1380.4,1400.2 1500.6,1347.1 1552.3,1340.1 1620.7,1335.0 1672.5,1333.1 1724.2,1331.7 1792.6,1330.9 1844.4,1330.3 1844.4,1335.9 1792.6,1336.4 1724.2,1337.3 1672.5,1338.7 1620.7,1340.6 1552.3,1345.7 1500.6,1361.0 1380.4,1461.7" fill="#4c72b0" fill-opacity="0.2" clip-path="url(#c20)"/>
<polygon points="1380.4,1408.6 1500.6,1383.4 1552.3,1347.1 1620.7,1335.9 1672.5,1335.0 1724.2,1334.2 1792.6,1333.6 1844.4,1333.1 1844.4,1338.7 1792.6,1339.2 1724.2,1339.8 1672.5,1340.6 1620.7,1344.3 1552.3,1372.2 1500.6,1419.7 1380.4,1439.3" fill="#55a868" fill-opacity="0.2" clip-path="url(#c20)"/>
<polygon points="1380.4,1397.4 1500.6,1341.5 1552.3,1337.0 1620.7,1331.7 1672.5,1330.3 1724.2,1329.7 1792.6,1329.2 1844.4,1328.9 1844.4,1334.5 1792.6,1334.8 1724.2,1335.3 1672.5,1335.9 1620.7,1337.3 1552.3,1342.6 1500.6,1355.5 1380.4,1430.9" fill="#dd8452" fill-opacity="0.2" clip-path="url(#c20)"/>
<polygon points="1380.4,1565.1 1500.6,1537.1 1552.3,1517.6 1620.7,1389.0 1672.5,1356.3 1724.2,1344.3 1792.6,1337.0 1844.4,1334.2 1844.4,1339.8 1792.6,1342.6 1724.2,1349.9 1672.5,1361.9 1620.7,1411.3 1552.3,1581.8 1500.6,1587.4 1380.4,1579.0" fill="#4c72b0" fill-opacity="0.2" clip-path="url(#c20)"/>
<polygon points="1380.4,1553.9 1500.6,1528.7 1552.3,1433.7 1620.7,1369.4 1672.5,1352.7 1724.2,1344.3 1792.6,1335.3 1844.4,1334.2 1844.4,1339.8 1792.6,1340.9 1724.2,1349.9 1672.5,1372.2 1620.7,1403.0 1552.3,1509.2 1500.6,1545.5 1380.4,1567.9" fill="#55a868" fill-opacity="0.2" clip-path="url(#c20)"/>
<polygon points="1380.4,1567.9 1500.6,1528.7 1552.3,1489.6 1620.7,1383.4 1672.5,1348.5 1724.2,1342.0 1792.6,1335.9 1844.4,1333.1 1844.4,1338.7 1792.6,1341.5 1724.2,1347.6 1672.5,1354.1 1620.7,1411.3 1552.3,1512.0 1500.6,1570.7 1380.4,1581.8" fill="#dd8452" fill-opacity="0.2" clip-path="url(#c20)"/>
<polyline points="1380.4,1424.2 1500.6,1354.9 1552.3,1342.9 1620.7,1337.8 1672.5,1335.9 1724.2,1334.5 1792.6,1333.6 1844.4,1333.1" fill="none" stroke="#4c72b0" stroke-width="5.0" stroke-linejoin="round" stroke-dasharray="19 8" clip-path="url(#c20)"/>
<path d="M1376.8 1420.6L1384.0 1427.8M1376.8 1427.8L1384.0 1420.6" stroke="#fff" stroke-width="4.6" stroke-linecap="square"/><path d="M1376.8 1420.6L1384.0 1427.8M1376.8 1427.8L1384.0 1420.6" stroke="#4c72b0" stroke-width="2.6"/>
<path d="M1497.0 1351.3L1504.2 1358.5M1497.0 1358.5L1504.2 1351.3" stroke="#fff" stroke-width="4.6" stroke-linecap="square"/><path d="M1497.0 1351.3L1504.2 1358.5M1497.0 1358.5L1504.2 1351.3" stroke="#4c72b0" stroke-width="2.6"/>
<path d="M1548.7 1339.3L1555.9 1346.5M1548.7 1346.5L1555.9 1339.3" stroke="#fff" stroke-width="4.6" stroke-linecap="square"/><path d="M1548.7 1339.3L1555.9 1346.5M1548.7 1346.5L1555.9 1339.3" stroke="#4c72b0" stroke-width="2.6"/>
<path d="M1617.1 1334.2L1624.3 1341.4M1617.1 1341.4L1624.3 1334.2" stroke="#fff" stroke-width="4.6" stroke-linecap="square"/><path d="M1617.1 1334.2L1624.3 1341.4M1617.1 1341.4L1624.3 1334.2" stroke="#4c72b0" stroke-width="2.6"/>
<path d="M1668.9 1332.3L1676.1 1339.5M1668.9 1339.5L1676.1 1332.3" stroke="#fff" stroke-width="4.6" stroke-linecap="square"/><path d="M1668.9 1332.3L1676.1 1339.5M1668.9 1339.5L1676.1 1332.3" stroke="#4c72b0" stroke-width="2.6"/>
<path d="M1720.6 1330.9L1727.8 1338.1M1720.6 1338.1L1727.8 1330.9" stroke="#fff" stroke-width="4.6" stroke-linecap="square"/><path d="M1720.6 1330.9L1727.8 1338.1M1720.6 1338.1L1727.8 1330.9" stroke="#4c72b0" stroke-width="2.6"/>
<path d="M1789.0 1330.0L1796.2 1337.2M1789.0 1337.2L1796.2 1330.0" stroke="#fff" stroke-width="4.6" stroke-linecap="square"/><path d="M1789.0 1330.0L1796.2 1337.2M1789.0 1337.2L1796.2 1330.0" stroke="#4c72b0" stroke-width="2.6"/>
<path d="M1840.8 1329.5L1848.0 1336.7M1840.8 1336.7L1848.0 1329.5" stroke="#fff" stroke-width="4.6" stroke-linecap="square"/><path d="M1840.8 1329.5L1848.0 1336.7M1840.8 1336.7L1848.0 1329.5" stroke="#4c72b0" stroke-width="2.6"/>
<polyline points="1380.4,1418.6 1500.6,1404.4 1552.3,1358.5 1620.7,1339.8 1672.5,1337.8 1724.2,1337.0 1792.6,1336.4 1844.4,1335.9" fill="none" stroke="#55a868" stroke-width="5.0" stroke-linejoin="round" stroke-dasharray="19 8" clip-path="url(#c20)"/>
<path d="M1376.8 1415.0L1384.0 1422.2M1376.8 1422.2L1384.0 1415.0" stroke="#fff" stroke-width="4.6" stroke-linecap="square"/><path d="M1376.8 1415.0L1384.0 1422.2M1376.8 1422.2L1384.0 1415.0" stroke="#55a868" stroke-width="2.6"/>
<path d="M1497.0 1400.8L1504.2 1408.0M1497.0 1408.0L1504.2 1400.8" stroke="#fff" stroke-width="4.6" stroke-linecap="square"/><path d="M1497.0 1400.8L1504.2 1408.0M1497.0 1408.0L1504.2 1400.8" stroke="#55a868" stroke-width="2.6"/>
<path d="M1548.7 1354.9L1555.9 1362.1M1548.7 1362.1L1555.9 1354.9" stroke="#fff" stroke-width="4.6" stroke-linecap="square"/><path d="M1548.7 1354.9L1555.9 1362.1M1548.7 1362.1L1555.9 1354.9" stroke="#55a868" stroke-width="2.6"/>
<path d="M1617.1 1336.2L1624.3 1343.4M1617.1 1343.4L1624.3 1336.2" stroke="#fff" stroke-width="4.6" stroke-linecap="square"/><path d="M1617.1 1336.2L1624.3 1343.4M1617.1 1343.4L1624.3 1336.2" stroke="#55a868" stroke-width="2.6"/>
<path d="M1668.9 1334.2L1676.1 1341.4M1668.9 1341.4L1676.1 1334.2" stroke="#fff" stroke-width="4.6" stroke-linecap="square"/><path d="M1668.9 1334.2L1676.1 1341.4M1668.9 1341.4L1676.1 1334.2" stroke="#55a868" stroke-width="2.6"/>
<path d="M1720.6 1333.4L1727.8 1340.6M1720.6 1340.6L1727.8 1333.4" stroke="#fff" stroke-width="4.6" stroke-linecap="square"/><path d="M1720.6 1333.4L1727.8 1340.6M1720.6 1340.6L1727.8 1333.4" stroke="#55a868" stroke-width="2.6"/>
<path d="M1789.0 1332.8L1796.2 1340.0M1789.0 1340.0L1796.2 1332.8" stroke="#fff" stroke-width="4.6" stroke-linecap="square"/><path d="M1789.0 1332.8L1796.2 1340.0M1789.0 1340.0L1796.2 1332.8" stroke="#55a868" stroke-width="2.6"/>
<path d="M1840.8 1332.3L1848.0 1339.5M1840.8 1339.5L1848.0 1332.3" stroke="#fff" stroke-width="4.6" stroke-linecap="square"/><path d="M1840.8 1332.3L1848.0 1339.5M1840.8 1339.5L1848.0 1332.3" stroke="#55a868" stroke-width="2.6"/>
<polyline points="1380.4,1415.3 1500.6,1349.3 1552.3,1339.8 1620.7,1334.5 1672.5,1333.1 1724.2,1332.5 1792.6,1332.0 1844.4,1331.7" fill="none" stroke="#dd8452" stroke-width="5.0" stroke-linejoin="round" stroke-dasharray="19 8" clip-path="url(#c20)"/>
<path d="M1376.8 1411.7L1384.0 1418.9M1376.8 1418.9L1384.0 1411.7" stroke="#fff" stroke-width="4.6" stroke-linecap="square"/><path d="M1376.8 1411.7L1384.0 1418.9M1376.8 1418.9L1384.0 1411.7" stroke="#dd8452" stroke-width="2.6"/>
<path d="M1497.0 1345.7L1504.2 1352.9M1497.0 1352.9L1504.2 1345.7" stroke="#fff" stroke-width="4.6" stroke-linecap="square"/><path d="M1497.0 1345.7L1504.2 1352.9M1497.0 1352.9L1504.2 1345.7" stroke="#dd8452" stroke-width="2.6"/>
<path d="M1548.7 1336.2L1555.9 1343.4M1548.7 1343.4L1555.9 1336.2" stroke="#fff" stroke-width="4.6" stroke-linecap="square"/><path d="M1548.7 1336.2L1555.9 1343.4M1548.7 1343.4L1555.9 1336.2" stroke="#dd8452" stroke-width="2.6"/>
<path d="M1617.1 1330.9L1624.3 1338.1M1617.1 1338.1L1624.3 1330.9" stroke="#fff" stroke-width="4.6" stroke-linecap="square"/><path d="M1617.1 1330.9L1624.3 1338.1M1617.1 1338.1L1624.3 1330.9" stroke="#dd8452" stroke-width="2.6"/>
<path d="M1668.9 1329.5L1676.1 1336.7M1668.9 1336.7L1676.1 1329.5" stroke="#fff" stroke-width="4.6" stroke-linecap="square"/><path d="M1668.9 1329.5L1676.1 1336.7M1668.9 1336.7L1676.1 1329.5" stroke="#dd8452" stroke-width="2.6"/>
<path d="M1720.6 1328.9L1727.8 1336.1M1720.6 1336.1L1727.8 1328.9" stroke="#fff" stroke-width="4.6" stroke-linecap="square"/><path d="M1720.6 1328.9L1727.8 1336.1M1720.6 1336.1L1727.8 1328.9" stroke="#dd8452" stroke-width="2.6"/>
<path d="M1789.0 1328.4L1796.2 1335.6M1789.0 1335.6L1796.2 1328.4" stroke="#fff" stroke-width="4.6" stroke-linecap="square"/><path d="M1789.0 1328.4L1796.2 1335.6M1789.0 1335.6L1796.2 1328.4" stroke="#dd8452" stroke-width="2.6"/>
<path d="M1840.8 1328.1L1848.0 1335.3M1840.8 1335.3L1848.0 1328.1" stroke="#fff" stroke-width="4.6" stroke-linecap="square"/><path d="M1840.8 1328.1L1848.0 1335.3M1840.8 1335.3L1848.0 1328.1" stroke="#dd8452" stroke-width="2.6"/>
<polyline points="1380.4,1571.2 1500.6,1581.8 1552.3,1562.8 1620.7,1400.2 1672.5,1359.1 1724.2,1347.1 1792.6,1339.8 1844.4,1337.0" fill="none" stroke="#4c72b0" stroke-width="5.0" stroke-linejoin="round" clip-path="url(#c20)"/>
<circle cx="1380.4" cy="1571.2" r="6.2" fill="#4c72b0" stroke="#fff" stroke-width="1.4"/>
<circle cx="1500.6" cy="1581.8" r="6.2" fill="#4c72b0" stroke="#fff" stroke-width="1.4"/>
<circle cx="1552.3" cy="1562.8" r="6.2" fill="#4c72b0" stroke="#fff" stroke-width="1.4"/>
<circle cx="1620.7" cy="1400.2" r="6.2" fill="#4c72b0" stroke="#fff" stroke-width="1.4"/>
<circle cx="1672.5" cy="1359.1" r="6.2" fill="#4c72b0" stroke="#fff" stroke-width="1.4"/>
<circle cx="1724.2" cy="1347.1" r="6.2" fill="#4c72b0" stroke="#fff" stroke-width="1.4"/>
<circle cx="1792.6" cy="1339.8" r="6.2" fill="#4c72b0" stroke="#fff" stroke-width="1.4"/>
<circle cx="1844.4" cy="1337.0" r="6.2" fill="#4c72b0" stroke="#fff" stroke-width="1.4"/>
<polyline points="1380.4,1559.5 1500.6,1535.7 1552.3,1499.7 1620.7,1385.4 1672.5,1365.5 1724.2,1347.1 1792.6,1338.1 1844.4,1337.0" fill="none" stroke="#55a868" stroke-width="5.0" stroke-linejoin="round" clip-path="url(#c20)"/>
<circle cx="1380.4" cy="1559.5" r="6.2" fill="#55a868" stroke="#fff" stroke-width="1.4"/>
<circle cx="1500.6" cy="1535.7" r="6.2" fill="#55a868" stroke="#fff" stroke-width="1.4"/>
<circle cx="1552.3" cy="1499.7" r="6.2" fill="#55a868" stroke="#fff" stroke-width="1.4"/>
<circle cx="1620.7" cy="1385.4" r="6.2" fill="#55a868" stroke="#fff" stroke-width="1.4"/>
<circle cx="1672.5" cy="1365.5" r="6.2" fill="#55a868" stroke="#fff" stroke-width="1.4"/>
<circle cx="1724.2" cy="1347.1" r="6.2" fill="#55a868" stroke="#fff" stroke-width="1.4"/>
<circle cx="1792.6" cy="1338.1" r="6.2" fill="#55a868" stroke="#fff" stroke-width="1.4"/>
<circle cx="1844.4" cy="1337.0" r="6.2" fill="#55a868" stroke="#fff" stroke-width="1.4"/>
<polyline points="1380.4,1577.1 1500.6,1537.7 1552.3,1502.2 1620.7,1399.1 1672.5,1351.3 1724.2,1344.8 1792.6,1338.7 1844.4,1335.9" fill="none" stroke="#dd8452" stroke-width="5.0" stroke-linejoin="round" clip-path="url(#c20)"/>
<circle cx="1380.4" cy="1577.1" r="6.2" fill="#dd8452" stroke="#fff" stroke-width="1.4"/>
<circle cx="1500.6" cy="1537.7" r="6.2" fill="#dd8452" stroke="#fff" stroke-width="1.4"/>
<circle cx="1552.3" cy="1502.2" r="6.2" fill="#dd8452" stroke="#fff" stroke-width="1.4"/>
<circle cx="1620.7" cy="1399.1" r="6.2" fill="#dd8452" stroke="#fff" stroke-width="1.4"/>
<circle cx="1672.5" cy="1351.3" r="6.2" fill="#dd8452" stroke="#fff" stroke-width="1.4"/>
<circle cx="1724.2" cy="1344.8" r="6.2" fill="#dd8452" stroke="#fff" stroke-width="1.4"/>
<circle cx="1792.6" cy="1338.7" r="6.2" fill="#dd8452" stroke="#fff" stroke-width="1.4"/>
<circle cx="1844.4" cy="1335.9" r="6.2" fill="#dd8452" stroke="#fff" stroke-width="1.4"/>
<rect x="1357" y="1327.5" width="510" height="279.5" fill="none" stroke="#000" stroke-width="2.9"/>
<path d="M1380.4 1607v9.3M1500.6 1607v9.3M1552.3 1607v9.3M1620.7 1607v9.3M1672.5 1607v9.3M1724.2 1607v9.3M1792.6 1607v9.3M1844.4 1607v9.3" stroke="#262626" stroke-width="3.7"/>
<text x="1380.4" y="1645.8" font-size="27.4" text-anchor="middle" fill="#262626" >1</text>
<text x="1500.6" y="1645.8" font-size="27.4" text-anchor="middle" fill="#262626" >5</text>
<text x="1552.3" y="1645.8" font-size="27.4" text-anchor="middle" fill="#262626" >10</text>
<text x="1620.7" y="1645.8" font-size="27.4" text-anchor="middle" fill="#262626" >25</text>
<text x="1672.5" y="1645.8" font-size="27.4" text-anchor="middle" fill="#262626" >50</text>
<text x="1724.2" y="1645.8" font-size="27.4" text-anchor="middle" fill="#262626" >100</text>
<text x="1792.6" y="1645.8" font-size="27.4" text-anchor="middle" fill="#262626" >250</text>
<text x="1844.4" y="1645.8" font-size="27.4" text-anchor="middle" fill="#262626" >500</text>
<path d="M1357 1579.0h-9.3M1357 1551.1h-9.3M1357 1523.2h-9.3M1357 1495.2h-9.3M1357 1467.2h-9.3M1357 1439.3h-9.3M1357 1411.3h-9.3M1357 1383.4h-9.3M1357 1355.5h-9.3M1357 1327.5h-9.3" stroke="#262626" stroke-width="3.7"/>
<text x="1336.7" y="1589.9" font-size="30.3" text-anchor="end" fill="#262626" >10</text>
<text x="1336.7" y="1561.9" font-size="30.3" text-anchor="end" fill="#262626" >20</text>
<text x="1336.7" y="1534.0" font-size="30.3" text-anchor="end" fill="#262626" >30</text>
<text x="1336.7" y="1506.0" font-size="30.3" text-anchor="end" fill="#262626" >40</text>
<text x="1336.7" y="1478.1" font-size="30.3" text-anchor="end" fill="#262626" >50</text>
<text x="1336.7" y="1450.1" font-size="30.3" text-anchor="end" fill="#262626" >60</text>
<text x="1336.7" y="1422.2" font-size="30.3" text-anchor="end" fill="#262626" >70</text>
<text x="1336.7" y="1394.2" font-size="30.3" text-anchor="end" fill="#262626" >80</text>
<text x="1336.7" y="1366.3" font-size="30.3" text-anchor="end" fill="#262626" >90</text>
<text x="1336.7" y="1338.3" font-size="30.3" text-anchor="end" fill="#262626" >100</text>
<text x="1612.0" y="1310.0" font-size="30.3" text-anchor="middle" fill="#262626" >CIFAR-10 (high DDO)</text>
<text x="1612.0" y="1671.6" font-size="29.9" text-anchor="middle" fill="#262626" >shots</text>
<clipPath id="c21"><rect x="1874" y="1327.5" width="511" height="279.5"/></clipPath>
<path d="M1897.4 1327.5V1607M2017.6 1327.5V1607M2069.4 1327.5V1607M2137.8 1327.5V1607M2189.6 1327.5V1607M2241.4 1327.5V1607M2309.8 1327.5V1607M2361.6 1327.5V1607M1874 1579.0H2385M1874 1551.1H2385M1874 1523.2H2385M1874 1495.2H2385M1874 1467.2H2385M1874 1439.3H2385M1874 1411.3H2385M1874 1383.4H2385M1874 1355.5H2385M1874 1327.5H2385" stroke="#d2d2d2" stroke-width="2.4" fill="none"/>
<polygon points="1897.4,1512.0 2017.6,1389.0 2069.4,1366.4 2137.8,1356.6 2189.6,1352.9 2241.4,1350.1 2309.8,1349.3 2361.6,1348.2 2361.6,1353.8 2309.8,1354.9 2241.4,1355.7 2189.6,1358.5 2137.8,1362.2 2069.4,1371.9 2017.6,1411.3 1897.4,1570.7" fill="#4c72b0" fill-opacity="0.2" clip-path="url(#c21)"/>
<polygon points="1897.4,1464.5 2017.6,1394.6 2069.4,1377.8 2137.8,1367.7 2189.6,1363.8 2241.4,1359.9 2309.8,1358.8 2361.6,1358.8 2361.6,1364.4 2309.8,1364.4 2241.4,1365.5 2189.6,1369.4 2137.8,1373.3 2069.4,1394.6 2017.6,1416.9 1897.4,1523.2" fill="#55a868" fill-opacity="0.2" clip-path="url(#c21)"/>
<polygon points="1897.4,1481.2 2017.6,1375.0 2069.4,1364.7 2137.8,1354.9 2189.6,1351.5 2241.4,1348.2 2309.8,1346.8 2361.6,1346.8 2361.6,1352.4 2309.8,1352.4 2241.4,1353.8 2189.6,1357.1 2137.8,1360.5 2069.4,1370.3 2017.6,1394.6 1897.4,1500.8" fill="#dd8452" fill-opacity="0.2" clip-path="url(#c21)"/>
<polygon points="1897.4,1600.9 2017.6,1591.6 2069.4,1570.9 2137.8,1495.8 2189.6,1433.2 2241.4,1385.9 2309.8,1364.7 2361.6,1363.8 2361.6,1369.4 2309.8,1370.3 2241.4,1391.5 2189.6,1438.7 2137.8,1501.3 2069.4,1576.5 2017.6,1601.4 1897.4,1606.4" fill="#4c72b0" fill-opacity="0.2" clip-path="url(#c21)"/>
<polygon points="1897.4,1601.4 2017.6,1590.5 2069.4,1570.9 2137.8,1467.2 2189.6,1412.2 2241.4,1377.8 2309.8,1366.6 2361.6,1363.8 2361.6,1383.4 2309.8,1383.4 2241.4,1394.6 2189.6,1417.8 2137.8,1472.8 2069.4,1576.5 2017.6,1596.1 1897.4,1607.0" fill="#55a868" fill-opacity="0.2" clip-path="url(#c21)"/>
<polygon points="1897.4,1600.3 2017.6,1591.6 2069.4,1561.2 2137.8,1456.6 2189.6,1412.2 2241.4,1373.6 2309.8,1358.5 2361.6,1356.6 2361.6,1362.2 2309.8,1364.1 2241.4,1379.2 2189.6,1417.8 2137.8,1462.2 2069.4,1566.8 2017.6,1597.2 1897.4,1605.9" fill="#dd8452" fill-opacity="0.2" clip-path="url(#c21)"/>
<polyline points="1897.4,1535.2 2017.6,1397.9 2069.4,1369.1 2137.8,1359.4 2189.6,1355.7 2241.4,1352.9 2309.8,1352.1 2361.6,1351.0" fill="none" stroke="#4c72b0" stroke-width="5.0" stroke-linejoin="round" stroke-dasharray="19 8" clip-path="url(#c21)"/>
<path d="M1893.8 1531.6L1901.0 1538.8M1893.8 1538.8L1901.0 1531.6" stroke="#fff" stroke-width="4.6" stroke-linecap="square"/><path d="M1893.8 1531.6L1901.0 1538.8M1893.8 1538.8L1901.0 1531.6" stroke="#4c72b0" stroke-width="2.6"/>
<path d="M2014.0 1394.3L2021.2 1401.5M2014.0 1401.5L2021.2 1394.3" stroke="#fff" stroke-width="4.6" stroke-linecap="square"/><path d="M2014.0 1394.3L2021.2 1401.5M2014.0 1401.5L2021.2 1394.3" stroke="#4c72b0" stroke-width="2.6"/>
<path d="M2065.8 1365.5L2073.0 1372.7M2065.8 1372.7L2073.0 1365.5" stroke="#fff" stroke-width="4.6" stroke-linecap="square"/><path d="M2065.8 1365.5L2073.0 1372.7M2065.8 1372.7L2073.0 1365.5" stroke="#4c72b0" stroke-width="2.6"/>
<path d="M2134.2 1355.8L2141.4 1363.0M2134.2 1363.0L2141.4 1355.8" stroke="#fff" stroke-width="4.6" stroke-linecap="square"/><path d="M2134.2 1355.8L2141.4 1363.0M2134.2 1363.0L2141.4 1355.8" stroke="#4c72b0" stroke-width="2.6"/>
<path d="M2186.0 1352.1L2193.2 1359.3M2186.0 1359.3L2193.2 1352.1" stroke="#fff" stroke-width="4.6" stroke-linecap="square"/><path d="M2186.0 1352.1L2193.2 1359.3M2186.0 1359.3L2193.2 1352.1" stroke="#4c72b0" stroke-width="2.6"/>
<path d="M2237.8 1349.3L2245.0 1356.5M2237.8 1356.5L2245.0 1349.3" stroke="#fff" stroke-width="4.6" stroke-linecap="square"/><path d="M2237.8 1349.3L2245.0 1356.5M2237.8 1356.5L2245.0 1349.3" stroke="#4c72b0" stroke-width="2.6"/>
<path d="M2306.2 1348.5L2313.4 1355.7M2306.2 1355.7L2313.4 1348.5" stroke="#fff" stroke-width="4.6" stroke-linecap="square"/><path d="M2306.2 1348.5L2313.4 1355.7M2306.2 1355.7L2313.4 1348.5" stroke="#4c72b0" stroke-width="2.6"/>
<path d="M2358.0 1347.4L2365.2 1354.6M2358.0 1354.6L2365.2 1347.4" stroke="#fff" stroke-width="4.6" stroke-linecap="square"/><path d="M2358.0 1347.4L2365.2 1354.6M2358.0 1354.6L2365.2 1347.4" stroke="#4c72b0" stroke-width="2.6"/>
<polyline points="1897.4,1512.8 2017.6,1405.2 2069.4,1387.0 2137.8,1370.5 2189.6,1366.6 2241.4,1362.7 2309.8,1361.6 2361.6,1361.6" fill="none" stroke="#55a868" stroke-width="5.0" stroke-linejoin="round" stroke-dasharray="19 8" clip-path="url(#c21)"/>
<path d="M1893.8 1509.2L1901.0 1516.4M1893.8 1516.4L1901.0 1509.2" stroke="#fff" stroke-width="4.6" stroke-linecap="square"/><path d="M1893.8 1509.2L1901.0 1516.4M1893.8 1516.4L1901.0 1509.2" stroke="#55a868" stroke-width="2.6"/>
<path d="M2014.0 1401.6L2021.2 1408.8M2014.0 1408.8L2021.2 1401.6" stroke="#fff" stroke-width="4.6" stroke-linecap="square"/><path d="M2014.0 1401.6L2021.2 1408.8M2014.0 1408.8L2021.2 1401.6" stroke="#55a868" stroke-width="2.6"/>
<path d="M2065.8 1383.4L2073.0 1390.6M2065.8 1390.6L2073.0 1383.4" stroke="#fff" stroke-width="4.6" stroke-linecap="square"/><path d="M2065.8 1383.4L2073.0 1390.6M2065.8 1390.6L2073.0 1383.4" stroke="#55a868" stroke-width="2.6"/>
<path d="M2134.2 1366.9L2141.4 1374.1M2134.2 1374.1L2141.4 1366.9" stroke="#fff" stroke-width="4.6" stroke-linecap="square"/><path d="M2134.2 1366.9L2141.4 1374.1M2134.2 1374.1L2141.4 1366.9" stroke="#55a868" stroke-width="2.6"/>
<path d="M2186.0 1363.0L2193.2 1370.2M2186.0 1370.2L2193.2 1363.0" stroke="#fff" stroke-width="4.6" stroke-linecap="square"/><path d="M2186.0 1363.0L2193.2 1370.2M2186.0 1370.2L2193.2 1363.0" stroke="#55a868" stroke-width="2.6"/>
<path d="M2237.8 1359.1L2245.0 1366.3M2237.8 1366.3L2245.0 1359.1" stroke="#fff" stroke-width="4.6" stroke-linecap="square"/><path d="M2237.8 1359.1L2245.0 1366.3M2237.8 1366.3L2245.0 1359.1" stroke="#55a868" stroke-width="2.6"/>
<path d="M2306.2 1358.0L2313.4 1365.2M2306.2 1365.2L2313.4 1358.0" stroke="#fff" stroke-width="4.6" stroke-linecap="square"/><path d="M2306.2 1358.0L2313.4 1365.2M2306.2 1365.2L2313.4 1358.0" stroke="#55a868" stroke-width="2.6"/>
<path d="M2358.0 1358.0L2365.2 1365.2M2358.0 1365.2L2365.2 1358.0" stroke="#fff" stroke-width="4.6" stroke-linecap="square"/><path d="M2358.0 1358.0L2365.2 1365.2M2358.0 1365.2L2365.2 1358.0" stroke="#55a868" stroke-width="2.6"/>
<polyline points="1897.4,1492.4 2017.6,1386.2 2069.4,1367.5 2137.8,1357.7 2189.6,1354.3 2241.4,1351.0 2309.8,1349.6 2361.6,1349.6" fill="none" stroke="#dd8452" stroke-width="5.0" stroke-linejoin="round" stroke-dasharray="19 8" clip-path="url(#c21)"/>
<path d="M1893.8 1488.8L1901.0 1496.0M1893.8 1496.0L1901.0 1488.8" stroke="#fff" stroke-width="4.6" stroke-linecap="square"/><path d="M1893.8 1488.8L1901.0 1496.0M1893.8 1496.0L1901.0 1488.8" stroke="#dd8452" stroke-width="2.6"/>
<path d="M2014.0 1382.6L2021.2 1389.8M2014.0 1389.8L2021.2 1382.6" stroke="#fff" stroke-width="4.6" stroke-linecap="square"/><path d="M2014.0 1382.6L2021.2 1389.8M2014.0 1389.8L2021.2 1382.6" stroke="#dd8452" stroke-width="2.6"/>
<path d="M2065.8 1363.9L2073.0 1371.1M2065.8 1371.1L2073.0 1363.9" stroke="#fff" stroke-width="4.6" stroke-linecap="square"/><path d="M2065.8 1363.9L2073.0 1371.1M2065.8 1371.1L2073.0 1363.9" stroke="#dd8452" stroke-width="2.6"/>
<path d="M2134.2 1354.1L2141.4 1361.3M2134.2 1361.3L2141.4 1354.1" stroke="#fff" stroke-width="4.6" stroke-linecap="square"/><path d="M2134.2 1354.1L2141.4 1361.3M2134.2 1361.3L2141.4 1354.1" stroke="#dd8452" stroke-width="2.6"/>
<path d="M2186.0 1350.7L2193.2 1357.9M2186.0 1357.9L2193.2 1350.7" stroke="#fff" stroke-width="4.6" stroke-linecap="square"/><path d="M2186.0 1350.7L2193.2 1357.9M2186.0 1357.9L2193.2 1350.7" stroke="#dd8452" stroke-width="2.6"/>
<path d="M2237.8 1347.4L2245.0 1354.6M2237.8 1354.6L2245.0 1347.4" stroke="#fff" stroke-width="4.6" stroke-linecap="square"/><path d="M2237.8 1347.4L2245.0 1354.6M2237.8 1354.6L2245.0 1347.4" stroke="#dd8452" stroke-width="2.6"/>
<path d="M2306.2 1346.0L2313.4 1353.2M2306.2 1353.2L2313.4 1346.0" stroke="#fff" stroke-width="4.6" stroke-linecap="square"/><path d="M2306.2 1346.0L2313.4 1353.2M2306.2 1353.2L2313.4 1346.0" stroke="#dd8452" stroke-width="2.6"/>
<path d="M2358.0 1346.0L2365.2 1353.2M2358.0 1353.2L2365.2 1346.0" stroke="#fff" stroke-width="4.6" stroke-linecap="square"/><path d="M2358.0 1346.0L2365.2 1353.2M2358.0 1353.2L2365.2 1346.0" stroke="#dd8452" stroke-width="2.6"/>
<polyline points="1897.4,1603.6 2017.6,1596.4 2069.4,1573.7 2137.8,1498.6 2189.6,1435.9 2241.4,1388.7 2309.8,1367.5 2361.6,1366.6" fill="none" stroke="#4c72b0" stroke-width="5.0" stroke-linejoin="round" clip-path="url(#c21)"/>
<circle cx="1897.4" cy="1603.6" r="6.2" fill="#4c72b0" stroke="#fff" stroke-width="1.4"/>
<circle cx="2017.6" cy="1596.4" r="6.2" fill="#4c72b0" stroke="#fff" stroke-width="1.4"/>
<circle cx="2069.4" cy="1573.7" r="6.2" fill="#4c72b0" stroke="#fff" stroke-width="1.4"/>
<circle cx="2137.8" cy="1498.6" r="6.2" fill="#4c72b0" stroke="#fff" stroke-width="1.4"/>
<circle cx="2189.6" cy="1435.9" r="6.2" fill="#4c72b0" stroke="#fff" stroke-width="1.4"/>
<circle cx="2241.4" cy="1388.7" r="6.2" fill="#4c72b0" stroke="#fff" stroke-width="1.4"/>
<circle cx="2309.8" cy="1367.5" r="6.2" fill="#4c72b0" stroke="#fff" stroke-width="1.4"/>
<circle cx="2361.6" cy="1366.6" r="6.2" fill="#4c72b0" stroke="#fff" stroke-width="1.4"/>
<polyline points="1897.4,1604.2 2017.6,1593.3 2069.4,1573.7 2137.8,1470.0 2189.6,1415.0 2241.4,1385.6 2309.8,1373.3 2361.6,1371.4" fill="none" stroke="#55a868" stroke-width="5.0" stroke-linejoin="round" clip-path="url(#c21)"/>
<circle cx="1897.4" cy="1604.2" r="6.2" fill="#55a868" stroke="#fff" stroke-width="1.4"/>
<circle cx="2017.6" cy="1593.3" r="6.2" fill="#55a868" stroke="#fff" stroke-width="1.4"/>
<circle cx="2069.4" cy="1573.7" r="6.2" fill="#55a868" stroke="#fff" stroke-width="1.4"/>
<circle cx="2137.8" cy="1470.0" r="6.2" fill="#55a868" stroke="#fff" stroke-width="1.4"/>
<circle cx="2189.6" cy="1415.0" r="6.2" fill="#55a868" stroke="#fff" stroke-width="1.4"/>
<circle cx="2241.4" cy="1385.6" r="6.2" fill="#55a868" stroke="#fff" stroke-width="1.4"/>
<circle cx="2309.8" cy="1373.3" r="6.2" fill="#55a868" stroke="#fff" stroke-width="1.4"/>
<circle cx="2361.6" cy="1371.4" r="6.2" fill="#55a868" stroke="#fff" stroke-width="1.4"/>
<polyline points="1897.4,1603.1 2017.6,1594.4 2069.4,1564.0 2137.8,1459.4 2189.6,1415.0 2241.4,1376.4 2309.8,1361.3 2361.6,1359.4" fill="none" stroke="#dd8452" stroke-width="5.0" stroke-linejoin="round" clip-path="url(#c21)"/>
<circle cx="1897.4" cy="1603.1" r="6.2" fill="#dd8452" stroke="#fff" stroke-width="1.4"/>
<circle cx="2017.6" cy="1594.4" r="6.2" fill="#dd8452" stroke="#fff" stroke-width="1.4"/>
<circle cx="2069.4" cy="1564.0" r="6.2" fill="#dd8452" stroke="#fff" stroke-width="1.4"/>
<circle cx="2137.8" cy="1459.4" r="6.2" fill="#dd8452" stroke="#fff" stroke-width="1.4"/>
<circle cx="2189.6" cy="1415.0" r="6.2" fill="#dd8452" stroke="#fff" stroke-width="1.4"/>
<circle cx="2241.4" cy="1376.4" r="6.2" fill="#dd8452" stroke="#fff" stroke-width="1.4"/>
<circle cx="2309.8" cy="1361.3" r="6.2" fill="#dd8452" stroke="#fff" stroke-width="1.4"/>
<circle cx="2361.6" cy="1359.4" r="6.2" fill="#dd8452" stroke="#fff" stroke-width="1.4"/>
<rect x="1874" y="1327.5" width="511" height="279.5" fill="none" stroke="#000" stroke-width="2.9"/>
<path d="M1897.4 1607v9.3M2017.6 1607v9.3M2069.4 1607v9.3M2137.8 1607v9.3M2189.6 1607v9.3M2241.4 1607v9.3M2309.8 1607v9.3M2361.6 1607v9.3" stroke="#262626" stroke-width="3.7"/>
<text x="1897.4" y="1645.8" font-size="27.4" text-anchor="middle" fill="#262626" >1</text>
<text x="2017.6" y="1645.8" font-size="27.4" text-anchor="middle" fill="#262626" >5</text>
<text x="2069.4" y="1645.8" font-size="27.4" text-anchor="middle" fill="#262626" >10</text>
<text x="2137.8" y="1645.8" font-size="27.4" text-anchor="middle" fill="#262626" >25</text>
<text x="2189.6" y="1645.8" font-size="27.4" text-anchor="middle" fill="#262626" >50</text>
<text x="2241.4" y="1645.8" font-size="27.4" text-anchor="middle" fill="#262626" >100</text>
<text x="2309.8" y="1645.8" font-size="27.4" text-anchor="middle" fill="#262626" >250</text>
<text x="2361.6" y="1645.8" font-size="27.4" text-anchor="middle" fill="#262626" >500</text>
<text x="2129.5" y="1310.0" font-size="30.3" text-anchor="middle" fill="#262626" >CIFAR-100 (medium DDO)</text>
<text x="2129.5" y="1671.6" font-size="29.9" text-anchor="middle" fill="#262626" >shots</text>
<clipPath id="c22"><rect x="2391" y="1327.5" width="511.3000000000002" height="279.5"/></clipPath>
<path d="M2414.4 1327.5V1607M2534.6 1327.5V1607M2586.4 1327.5V1607M2654.9 1327.5V1607M2706.7 1327.5V1607M2758.5 1327.5V1607M2826.9 1327.5V1607M2878.7 1327.5V1607M2391 1579.0H2902.3M2391 1551.1H2902.3M2391 1523.2H2902.3M2391 1495.2H2902.3M2391 1467.2H2902.3M2391 1439.3H2902.3M2391 1411.3H2902.3M2391 1383.4H2902.3M2391 1355.5H2902.3M2391 1327.5H2902.3" stroke="#d2d2d2" stroke-width="2.4" fill="none"/>
<polygon points="2414.4,1570.9 2534.6,1537.1 2586.4,1461.7 2654.9,1383.4 2706.7,1355.5 2758.5,1351.0 2826.9,1342.9 2878.7,1342.9 2878.7,1348.5 2826.9,1348.5 2758.5,1356.6 2706.7,1386.2 2654.9,1509.2 2586.4,1567.9 2534.6,1581.8 2414.4,1576.5" fill="#4c72b0" fill-opacity="0.2" clip-path="url(#c22)"/>
<polygon points="2414.4,1574.9 2534.6,1560.3 2586.4,1534.3 2654.9,1520.4 2706.7,1510.0 2758.5,1494.6 2826.9,1470.3 2878.7,1458.6 2878.7,1464.2 2826.9,1475.9 2758.5,1500.2 2706.7,1515.6 2654.9,1525.9 2586.4,1545.5 2534.6,1565.9 2414.4,1580.4" fill="#55a868" fill-opacity="0.2" clip-path="url(#c22)"/>
<polygon points="2414.4,1568.1 2534.6,1539.9 2586.4,1512.0 2654.9,1383.4 2706.7,1358.2 2758.5,1349.9 2826.9,1344.3 2878.7,1342.9 2878.7,1348.5 2826.9,1355.5 2758.5,1380.6 2706.7,1386.2 2654.9,1503.6 2586.4,1528.7 2534.6,1548.3 2414.4,1573.7" fill="#dd8452" fill-opacity="0.2" clip-path="url(#c22)"/>
<polygon points="2414.4,1574.9 2534.6,1576.0 2586.4,1578.2 2654.9,1579.9 2706.7,1576.0 2758.5,1539.9 2826.9,1484.0 2878.7,1419.7 2878.7,1503.6 2826.9,1514.8 2758.5,1545.5 2706.7,1581.6 2654.9,1585.5 2586.4,1583.8 2534.6,1581.6 2414.4,1580.4" fill="#4c72b0" fill-opacity="0.2" clip-path="url(#c22)"/>
<polygon points="2414.4,1577.4 2534.6,1572.3 2586.4,1570.9 2654.9,1572.3 2706.7,1561.2 2758.5,1539.9 2826.9,1517.6 2878.7,1492.4 2878.7,1514.8 2826.9,1531.5 2758.5,1545.5 2706.7,1566.8 2654.9,1577.9 2586.4,1576.5 2534.6,1577.9 2414.4,1583.0" fill="#55a868" fill-opacity="0.2" clip-path="url(#c22)"/>
<polygon points="2414.4,1570.9 2534.6,1570.9 2586.4,1576.3 2654.9,1564.2 2706.7,1559.5 2758.5,1539.1 2826.9,1486.8 2878.7,1403.0 2878.7,1433.7 2826.9,1503.6 2758.5,1544.7 2706.7,1576.3 2654.9,1569.8 2586.4,1581.8 2534.6,1576.5 2414.4,1576.5" fill="#dd8452" fill-opacity="0.2" clip-path="url(#c22)"/>
<polyline points="2414.4,1573.7 2534.6,1579.0 2586.4,1530.4 2654.9,1397.9 2706.7,1361.3 2758.5,1353.8 2826.9,1345.7 2878.7,1345.7" fill="none" stroke="#4c72b0" stroke-width="5.0" stroke-linejoin="round" stroke-dasharray="19 8" clip-path="url(#c22)"/>
<path d="M2410.8 1570.1L2418.0 1577.3M2410.8 1577.3L2418.0 1570.1" stroke="#fff" stroke-width="4.6" stroke-linecap="square"/><path d="M2410.8 1570.1L2418.0 1577.3M2410.8 1577.3L2418.0 1570.1" stroke="#4c72b0" stroke-width="2.6"/>
<path d="M2531.0 1575.5L2538.2 1582.6M2531.0 1582.6L2538.2 1575.5" stroke="#fff" stroke-width="4.6" stroke-linecap="square"/><path d="M2531.0 1575.5L2538.2 1582.6M2531.0 1582.6L2538.2 1575.5" stroke="#4c72b0" stroke-width="2.6"/>
<path d="M2582.8 1526.8L2590.0 1534.0M2582.8 1534.0L2590.0 1526.8" stroke="#fff" stroke-width="4.6" stroke-linecap="square"/><path d="M2582.8 1526.8L2590.0 1534.0M2582.8 1534.0L2590.0 1526.8" stroke="#4c72b0" stroke-width="2.6"/>
<path d="M2651.3 1394.3L2658.5 1401.5M2651.3 1401.5L2658.5 1394.3" stroke="#fff" stroke-width="4.6" stroke-linecap="square"/><path d="M2651.3 1394.3L2658.5 1401.5M2651.3 1401.5L2658.5 1394.3" stroke="#4c72b0" stroke-width="2.6"/>
<path d="M2703.1 1357.7L2710.3 1364.9M2703.1 1364.9L2710.3 1357.7" stroke="#fff" stroke-width="4.6" stroke-linecap="square"/><path d="M2703.1 1357.7L2710.3 1364.9M2703.1 1364.9L2710.3 1357.7" stroke="#4c72b0" stroke-width="2.6"/>
<path d="M2754.9 1350.2L2762.1 1357.4M2754.9 1357.4L2762.1 1350.2" stroke="#fff" stroke-width="4.6" stroke-linecap="square"/><path d="M2754.9 1350.2L2762.1 1357.4M2754.9 1357.4L2762.1 1350.2" stroke="#4c72b0" stroke-width="2.6"/>
<path d="M2823.3 1342.1L2830.5 1349.3M2823.3 1349.3L2830.5 1342.1" stroke="#fff" stroke-width="4.6" stroke-linecap="square"/><path d="M2823.3 1342.1L2830.5 1349.3M2823.3 1349.3L2830.5 1342.1" stroke="#4c72b0" stroke-width="2.6"/>
<path d="M2875.1 1342.1L2882.3 1349.3M2875.1 1349.3L2882.3 1342.1" stroke="#fff" stroke-width="4.6" stroke-linecap="square"/><path d="M2875.1 1342.1L2882.3 1349.3M2875.1 1349.3L2882.3 1342.1" stroke="#4c72b0" stroke-width="2.6"/>
<polyline points="2414.4,1577.7 2534.6,1563.1 2586.4,1539.9 2654.9,1523.2 2706.7,1512.8 2758.5,1497.4 2826.9,1473.1 2878.7,1461.4" fill="none" stroke="#55a868" stroke-width="5.0" stroke-linejoin="round" stroke-dasharray="19 8" clip-path="url(#c22)"/>
<path d="M2410.8 1574.1L2418.0 1581.3M2410.8 1581.3L2418.0 1574.1" stroke="#fff" stroke-width="4.6" stroke-linecap="square"/><path d="M2410.8 1574.1L2418.0 1581.3M2410.8 1581.3L2418.0 1574.1" stroke="#55a868" stroke-width="2.6"/>
<path d="M2531.0 1559.5L2538.2 1566.7M2531.0 1566.7L2538.2 1559.5" stroke="#fff" stroke-width="4.6" stroke-linecap="square"/><path d="M2531.0 1559.5L2538.2 1566.7M2531.0 1566.7L2538.2 1559.5" stroke="#55a868" stroke-width="2.6"/>
<path d="M2582.8 1536.3L2590.0 1543.5M2582.8 1543.5L2590.0 1536.3" stroke="#fff" stroke-width="4.6" stroke-linecap="square"/><path d="M2582.8 1536.3L2590.0 1543.5M2582.8 1543.5L2590.0 1536.3" stroke="#55a868" stroke-width="2.6"/>
<path d="M2651.3 1519.6L2658.5 1526.8M2651.3 1526.8L2658.5 1519.6" stroke="#fff" stroke-width="4.6" stroke-linecap="square"/><path d="M2651.3 1519.6L2658.5 1526.8M2651.3 1526.8L2658.5 1519.6" stroke="#55a868" stroke-width="2.6"/>
<path d="M2703.1 1509.2L2710.3 1516.4M2703.1 1516.4L2710.3 1509.2" stroke="#fff" stroke-width="4.6" stroke-linecap="square"/><path d="M2703.1 1509.2L2710.3 1516.4M2703.1 1516.4L2710.3 1509.2" stroke="#55a868" stroke-width="2.6"/>
<path d="M2754.9 1493.8L2762.1 1501.0M2754.9 1501.0L2762.1 1493.8" stroke="#fff" stroke-width="4.6" stroke-linecap="square"/><path d="M2754.9 1493.8L2762.1 1501.0M2754.9 1501.0L2762.1 1493.8" stroke="#55a868" stroke-width="2.6"/>
<path d="M2823.3 1469.5L2830.5 1476.7M2823.3 1476.7L2830.5 1469.5" stroke="#fff" stroke-width="4.6" stroke-linecap="square"/><path d="M2823.3 1469.5L2830.5 1476.7M2823.3 1476.7L2830.5 1469.5" stroke="#55a868" stroke-width="2.6"/>
<path d="M2875.1 1457.8L2882.3 1465.0M2875.1 1465.0L2882.3 1457.8" stroke="#fff" stroke-width="4.6" stroke-linecap="square"/><path d="M2875.1 1457.8L2882.3 1465.0M2875.1 1465.0L2882.3 1457.8" stroke="#55a868" stroke-width="2.6"/>
<polyline points="2414.4,1570.9 2534.6,1544.4 2586.4,1520.6 2654.9,1403.0 2706.7,1370.0 2758.5,1354.3 2826.9,1349.6 2878.7,1345.7" fill="none" stroke="#dd8452" stroke-width="5.0" stroke-linejoin="round" stroke-dasharray="19 8" clip-path="url(#c22)"/>
<path d="M2410.8 1567.3L2418.0 1574.5M2410.8 1574.5L2418.0 1567.3" stroke="#fff" stroke-width="4.6" stroke-linecap="square"/><path d="M2410.8 1567.3L2418.0 1574.5M2410.8 1574.5L2418.0 1567.3" stroke="#dd8452" stroke-width="2.6"/>
<path d="M2531.0 1540.8L2538.2 1548.0M2531.0 1548.0L2538.2 1540.8" stroke="#fff" stroke-width="4.6" stroke-linecap="square"/><path d="M2531.0 1540.8L2538.2 1548.0M2531.0 1548.0L2538.2 1540.8" stroke="#dd8452" stroke-width="2.6"/>
<path d="M2582.8 1517.0L2590.0 1524.2M2582.8 1524.2L2590.0 1517.0" stroke="#fff" stroke-width="4.6" stroke-linecap="square"/><path d="M2582.8 1517.0L2590.0 1524.2M2582.8 1524.2L2590.0 1517.0" stroke="#dd8452" stroke-width="2.6"/>
<path d="M2651.3 1399.4L2658.5 1406.6M2651.3 1406.6L2658.5 1399.4" stroke="#fff" stroke-width="4.6" stroke-linecap="square"/><path d="M2651.3 1399.4L2658.5 1406.6M2651.3 1406.6L2658.5 1399.4" stroke="#dd8452" stroke-width="2.6"/>
<path d="M2703.1 1366.4L2710.3 1373.6M2703.1 1373.6L2710.3 1366.4" stroke="#fff" stroke-width="4.6" stroke-linecap="square"/><path d="M2703.1 1366.4L2710.3 1373.6M2703.1 1373.6L2710.3 1366.4" stroke="#dd8452" stroke-width="2.6"/>
<path d="M2754.9 1350.7L2762.1 1357.9M2754.9 1357.9L2762.1 1350.7" stroke="#fff" stroke-width="4.6" stroke-linecap="square"/><path d="M2754.9 1350.7L2762.1 1357.9M2754.9 1357.9L2762.1 1350.7" stroke="#dd8452" stroke-width="2.6"/>
<path d="M2823.3 1346.0L2830.5 1353.2M2823.3 1353.2L2830.5 1346.0" stroke="#fff" stroke-width="4.6" stroke-linecap="square"/><path d="M2823.3 1346.0L2830.5 1353.2M2823.3 1353.2L2830.5 1346.0" stroke="#dd8452" stroke-width="2.6"/>
<path d="M2875.1 1342.1L2882.3 1349.3M2875.1 1349.3L2882.3 1342.1" stroke="#fff" stroke-width="4.6" stroke-linecap="square"/><path d="M2875.1 1342.1L2882.3 1349.3M2875.1 1349.3L2882.3 1342.1" stroke="#dd8452" stroke-width="2.6"/>
<polyline points="2414.4,1577.7 2534.6,1578.8 2586.4,1581.0 2654.9,1582.7 2706.7,1578.8 2758.5,1542.7 2826.9,1503.6 2878.7,1427.3" fill="none" stroke="#4c72b0" stroke-width="5.0" stroke-linejoin="round" clip-path="url(#c22)"/>
<circle cx="2414.4" cy="1577.7" r="6.2" fill="#4c72b0" stroke="#fff" stroke-width="1.4"/>
<circle cx="2534.6" cy="1578.8" r="6.2" fill="#4c72b0" stroke="#fff" stroke-width="1.4"/>
<circle cx="2586.4" cy="1581.0" r="6.2" fill="#4c72b0" stroke="#fff" stroke-width="1.4"/>
<circle cx="2654.9" cy="1582.7" r="6.2" fill="#4c72b0" stroke="#fff" stroke-width="1.4"/>
<circle cx="2706.7" cy="1578.8" r="6.2" fill="#4c72b0" stroke="#fff" stroke-width="1.4"/>
<circle cx="2758.5" cy="1542.7" r="6.2" fill="#4c72b0" stroke="#fff" stroke-width="1.4"/>
<circle cx="2826.9" cy="1503.6" r="6.2" fill="#4c72b0" stroke="#fff" stroke-width="1.4"/>
<circle cx="2878.7" cy="1427.3" r="6.2" fill="#4c72b0" stroke="#fff" stroke-width="1.4"/>
<polyline points="2414.4,1580.2 2534.6,1575.1 2586.4,1573.7 2654.9,1575.1 2706.7,1564.0 2758.5,1542.7 2826.9,1524.0 2878.7,1501.9" fill="none" stroke="#55a868" stroke-width="5.0" stroke-linejoin="round" clip-path="url(#c22)"/>
<circle cx="2414.4" cy="1580.2" r="6.2" fill="#55a868" stroke="#fff" stroke-width="1.4"/>
<circle cx="2534.6" cy="1575.1" r="6.2" fill="#55a868" stroke="#fff" stroke-width="1.4"/>
<circle cx="2586.4" cy="1573.7" r="6.2" fill="#55a868" stroke="#fff" stroke-width="1.4"/>
<circle cx="2654.9" cy="1575.1" r="6.2" fill="#55a868" stroke="#fff" stroke-width="1.4"/>
<circle cx="2706.7" cy="1564.0" r="6.2" fill="#55a868" stroke="#fff" stroke-width="1.4"/>
<circle cx="2758.5" cy="1542.7" r="6.2" fill="#55a868" stroke="#fff" stroke-width="1.4"/>
<circle cx="2826.9" cy="1524.0" r="6.2" fill="#55a868" stroke="#fff" stroke-width="1.4"/>
<circle cx="2878.7" cy="1501.9" r="6.2" fill="#55a868" stroke="#fff" stroke-width="1.4"/>
<polyline points="2414.4,1573.7 2534.6,1573.7 2586.4,1579.0 2654.9,1567.0 2706.7,1564.0 2758.5,1541.9 2826.9,1493.2 2878.7,1419.7" fill="none" stroke="#dd8452" stroke-width="5.0" stroke-linejoin="round" clip-path="url(#c22)"/>
<circle cx="2414.4" cy="1573.7" r="6.2" fill="#dd8452" stroke="#fff" stroke-width="1.4"/>
<circle cx="2534.6" cy="1573.7" r="6.2" fill="#dd8452" stroke="#fff" stroke-width="1.4"/>
<circle cx="2586.4" cy="1579.0" r="6.2" fill="#dd8452" stroke="#fff" stroke-width="1.4"/>
<circle cx="2654.9" cy="1567.0" r="6.2" fill="#dd8452" stroke="#fff" stroke-width="1.4"/>
<circle cx="2706.7" cy="1564.0" r="6.2" fill="#dd8452" stroke="#fff" stroke-width="1.4"/>
<circle cx="2758.5" cy="1541.9" r="6.2" fill="#dd8452" stroke="#fff" stroke-width="1.4"/>
<circle cx="2826.9" cy="1493.2" r="6.2" fill="#dd8452" stroke="#fff" stroke-width="1.4"/>
<circle cx="2878.7" cy="1419.7" r="6.2" fill="#dd8452" stroke="#fff" stroke-width="1.4"/>
<rect x="2391" y="1327.5" width="511.3000000000002" height="279.5" fill="none" stroke="#000" stroke-width="2.9"/>
<path d="M2414.4 1607v9.3M2534.6 1607v9.3M2586.4 1607v9.3M2654.9 1607v9.3M2706.7 1607v9.3M2758.5 1607v9.3M2826.9 1607v9.3M2878.7 1607v9.3" stroke="#262626" stroke-width="3.7"/>
<text x="2414.4" y="1645.8" font-size="27.4" text-anchor="middle" fill="#262626" >1</text>
<text x="2534.6" y="1645.8" font-size="27.4" text-anchor="middle" fill="#262626" >5</text>
<text x="2586.4" y="1645.8" font-size="27.4" text-anchor="middle" fill="#262626" >10</text>
<text x="2654.9" y="1645.8" font-size="27.4" text-anchor="middle" fill="#262626" >25</text>
<text x="2706.7" y="1645.8" font-size="27.4" text-anchor="middle" fill="#262626" >50</text>
<text x="2758.5" y="1645.8" font-size="27.4" text-anchor="middle" fill="#262626" >100</text>
<text x="2826.9" y="1645.8" font-size="27.4" text-anchor="middle" fill="#262626" >250</text>
<text x="2878.7" y="1645.8" font-size="27.4" text-anchor="middle" fill="#262626" >500</text>
<text x="2646.7" y="1310.0" font-size="30.3" text-anchor="middle" fill="#262626" >SVHN (low DDO)</text>
<text x="2646.7" y="1671.6" font-size="29.9" text-anchor="middle" fill="#262626" >shots</text>
<text x="1281.0" y="1468.0" font-size="30.3" text-anchor="middle" fill="#262626" transform="rotate(-90 1281 1468)">Accuracy (%)</text>
<rect x="1720" y="1328" width="132" height="22.59999999999991" fill="none" stroke="#6e6e6e" stroke-width="1.8"/>
<path d="M1720 1350.6V1434M1852 1350.6V1434" stroke="#8a8a8a" stroke-width="1.8"/>
<clipPath id="ci0"><rect x="1720" y="1434" width="132" height="167"/></clipPath>
<polygon points="1724.2,1473.8 1792.6,1466.3 1844.4,1465.8 1844.4,1471.8 1792.6,1472.3 1724.2,1481.8" fill="#4c72b0" fill-opacity="0.2" clip-path="url(#ci0)"/>
<polygon points="1724.2,1467.4 1792.6,1457.7 1844.4,1457.3 1844.4,1463.3 1792.6,1463.7 1724.2,1475.4" fill="#dd8452" fill-opacity="0.2" clip-path="url(#ci0)"/>
<polygon points="1724.2,1491.7 1792.6,1486.3 1844.4,1486.3 1844.4,1492.3 1792.6,1492.3 1724.2,1499.7" fill="#55a868" fill-opacity="0.2" clip-path="url(#ci0)"/>
<polygon points="1724.2,1563.4 1792.6,1495.5 1844.4,1489.4 1844.4,1517.4 1792.6,1551.5 1724.2,1607.4" fill="#4c72b0" fill-opacity="0.2" clip-path="url(#ci0)"/>
<polygon points="1724.2,1566.7 1792.6,1506.8 1844.4,1494.1 1844.4,1504.1 1792.6,1518.8 1724.2,1582.7" fill="#55a868" fill-opacity="0.2" clip-path="url(#ci0)"/>
<polygon points="1724.2,1534.6 1792.6,1505.9 1844.4,1484.2 1844.4,1496.2 1792.6,1529.9 1724.2,1586.6" fill="#dd8452" fill-opacity="0.2" clip-path="url(#ci0)"/>
<polyline points="1724.2,1477.8 1792.6,1469.3 1844.4,1468.8" fill="none" stroke="#4c72b0" stroke-width="5.0" stroke-dasharray="19 8" clip-path="url(#ci0)"/>
<g clip-path="url(#ci0)"><path d="M1720.6 1474.2L1727.8 1481.4M1720.6 1481.4L1727.8 1474.2" stroke="#fff" stroke-width="4.6" stroke-linecap="square"/><path d="M1720.6 1474.2L1727.8 1481.4M1720.6 1481.4L1727.8 1474.2" stroke="#4c72b0" stroke-width="2.6"/></g>
<g clip-path="url(#ci0)"><path d="M1789.0 1465.7L1796.2 1472.9M1789.0 1472.9L1796.2 1465.7" stroke="#fff" stroke-width="4.6" stroke-linecap="square"/><path d="M1789.0 1465.7L1796.2 1472.9M1789.0 1472.9L1796.2 1465.7" stroke="#4c72b0" stroke-width="2.6"/></g>
<g clip-path="url(#ci0)"><path d="M1840.8 1465.2L1848.0 1472.4M1840.8 1472.4L1848.0 1465.2" stroke="#fff" stroke-width="4.6" stroke-linecap="square"/><path d="M1840.8 1465.2L1848.0 1472.4M1840.8 1472.4L1848.0 1465.2" stroke="#4c72b0" stroke-width="2.6"/></g>
<polyline points="1724.2,1471.4 1792.6,1460.7 1844.4,1460.3" fill="none" stroke="#dd8452" stroke-width="5.0" stroke-dasharray="19 8" clip-path="url(#ci0)"/>
<g clip-path="url(#ci0)"><path d="M1720.6 1467.8L1727.8 1475.0M1720.6 1475.0L1727.8 1467.8" stroke="#fff" stroke-width="4.6" stroke-linecap="square"/><path d="M1720.6 1467.8L1727.8 1475.0M1720.6 1475.0L1727.8 1467.8" stroke="#dd8452" stroke-width="2.6"/></g>
<g clip-path="url(#ci0)"><path d="M1789.0 1457.1L1796.2 1464.3M1789.0 1464.3L1796.2 1457.1" stroke="#fff" stroke-width="4.6" stroke-linecap="square"/><path d="M1789.0 1457.1L1796.2 1464.3M1789.0 1464.3L1796.2 1457.1" stroke="#dd8452" stroke-width="2.6"/></g>
<g clip-path="url(#ci0)"><path d="M1840.8 1456.7L1848.0 1463.9M1840.8 1463.9L1848.0 1456.7" stroke="#fff" stroke-width="4.6" stroke-linecap="square"/><path d="M1840.8 1456.7L1848.0 1463.9M1840.8 1463.9L1848.0 1456.7" stroke="#dd8452" stroke-width="2.6"/></g>
<polyline points="1724.2,1495.7 1792.6,1489.3 1844.4,1489.3" fill="none" stroke="#55a868" stroke-width="5.0" stroke-dasharray="19 8" clip-path="url(#ci0)"/>
<g clip-path="url(#ci0)"><path d="M1720.6 1492.1L1727.8 1499.3M1720.6 1499.3L1727.8 1492.1" stroke="#fff" stroke-width="4.6" stroke-linecap="square"/><path d="M1720.6 1492.1L1727.8 1499.3M1720.6 1499.3L1727.8 1492.1" stroke="#55a868" stroke-width="2.6"/></g>
<g clip-path="url(#ci0)"><path d="M1789.0 1485.7L1796.2 1492.9M1789.0 1492.9L1796.2 1485.7" stroke="#fff" stroke-width="4.6" stroke-linecap="square"/><path d="M1789.0 1485.7L1796.2 1492.9M1789.0 1492.9L1796.2 1485.7" stroke="#55a868" stroke-width="2.6"/></g>
<g clip-path="url(#ci0)"><path d="M1840.8 1485.7L1848.0 1492.9M1840.8 1492.9L1848.0 1485.7" stroke="#fff" stroke-width="4.6" stroke-linecap="square"/><path d="M1840.8 1485.7L1848.0 1492.9M1840.8 1492.9L1848.0 1485.7" stroke="#55a868" stroke-width="2.6"/></g>
<polyline points="1724.2,1585.4 1792.6,1523.5 1844.4,1503.4" fill="none" stroke="#4c72b0" stroke-width="5.0" clip-path="url(#ci0)"/>
<circle cx="1724.2" cy="1585.4" r="6.2" fill="#4c72b0" stroke="#fff" stroke-width="1.3" clip-path="url(#ci0)"/>
<circle cx="1792.6" cy="1523.5" r="6.2" fill="#4c72b0" stroke="#fff" stroke-width="1.3" clip-path="url(#ci0)"/>
<circle cx="1844.4" cy="1503.4" r="6.2" fill="#4c72b0" stroke="#fff" stroke-width="1.3" clip-path="url(#ci0)"/>
<polyline points="1724.2,1574.7 1792.6,1512.8 1844.4,1499.1" fill="none" stroke="#55a868" stroke-width="5.0" clip-path="url(#ci0)"/>
<circle cx="1724.2" cy="1574.7" r="6.2" fill="#55a868" stroke="#fff" stroke-width="1.3" clip-path="url(#ci0)"/>
<circle cx="1792.6" cy="1512.8" r="6.2" fill="#55a868" stroke="#fff" stroke-width="1.3" clip-path="url(#ci0)"/>
<circle cx="1844.4" cy="1499.1" r="6.2" fill="#55a868" stroke="#fff" stroke-width="1.3" clip-path="url(#ci0)"/>
<polyline points="1724.2,1560.6 1792.6,1517.9 1844.4,1490.2" fill="none" stroke="#dd8452" stroke-width="5.0" clip-path="url(#ci0)"/>
<circle cx="1724.2" cy="1560.6" r="6.2" fill="#dd8452" stroke="#fff" stroke-width="1.3" clip-path="url(#ci0)"/>
<circle cx="1792.6" cy="1517.9" r="6.2" fill="#dd8452" stroke="#fff" stroke-width="1.3" clip-path="url(#ci0)"/>
<circle cx="1844.4" cy="1490.2" r="6.2" fill="#dd8452" stroke="#fff" stroke-width="1.3" clip-path="url(#ci0)"/>
<rect x="1720" y="1434" width="132" height="167" fill="none" stroke="#000" stroke-width="2.4"/>
<rect x="2237.6" y="1342" width="131.4000000000001" height="41.700000000000045" fill="none" stroke="#6e6e6e" stroke-width="1.8"/>
<path d="M2237.6 1383.7V1433.5M2369 1383.7V1433.5" stroke="#8a8a8a" stroke-width="1.8"/>
<clipPath id="ci1"><rect x="2237.6" y="1433.5" width="131.4000000000001" height="168.20000000000005"/></clipPath>
<polygon points="2241.4,1474.7 2309.8,1468.7 2361.6,1466.0 2361.6,1474.0 2309.8,1492.7 2241.4,1486.7" fill="#4c72b0" fill-opacity="0.2" clip-path="url(#ci1)"/>
<polygon points="2241.4,1463.5 2309.8,1459.6 2361.6,1461.6 2361.6,1471.6 2309.8,1471.6 2241.4,1473.5" fill="#dd8452" fill-opacity="0.2" clip-path="url(#ci1)"/>
<polygon points="2241.4,1512.8 2309.8,1511.3 2361.6,1510.9 2361.6,1520.9 2309.8,1521.3 2241.4,1522.8" fill="#55a868" fill-opacity="0.2" clip-path="url(#ci1)"/>
<polygon points="2241.4,1605.0 2309.8,1532.3 2361.6,1533.3 2361.6,1543.3 2309.8,1542.3 2241.4,1617.0" fill="#4c72b0" fill-opacity="0.2" clip-path="url(#ci1)"/>
<polygon points="2241.4,1576.6 2309.8,1524.8 2361.6,1530.4 2361.6,1574.4 2309.8,1594.8 2241.4,1636.6" fill="#55a868" fill-opacity="0.2" clip-path="url(#ci1)"/>
<polygon points="2241.4,1541.5 2309.8,1498.4 2361.6,1485.2 2361.6,1517.2 2309.8,1526.4 2241.4,1601.5" fill="#dd8452" fill-opacity="0.2" clip-path="url(#ci1)"/>
<polyline points="2241.4,1480.7 2309.8,1480.7 2361.6,1470.0" fill="none" stroke="#4c72b0" stroke-width="5.0" stroke-dasharray="19 8" clip-path="url(#ci1)"/>
<g clip-path="url(#ci1)"><path d="M2237.8 1477.1L2245.0 1484.3M2237.8 1484.3L2245.0 1477.1" stroke="#fff" stroke-width="4.6" stroke-linecap="square"/><path d="M2237.8 1477.1L2245.0 1484.3M2237.8 1484.3L2245.0 1477.1" stroke="#4c72b0" stroke-width="2.6"/></g>
<g clip-path="url(#ci1)"><path d="M2306.2 1477.1L2313.4 1484.3M2306.2 1484.3L2313.4 1477.1" stroke="#fff" stroke-width="4.6" stroke-linecap="square"/><path d="M2306.2 1477.1L2313.4 1484.3M2306.2 1484.3L2313.4 1477.1" stroke="#4c72b0" stroke-width="2.6"/></g>
<g clip-path="url(#ci1)"><path d="M2358.0 1466.4L2365.2 1473.6M2358.0 1473.6L2365.2 1466.4" stroke="#fff" stroke-width="4.6" stroke-linecap="square"/><path d="M2358.0 1466.4L2365.2 1473.6M2358.0 1473.6L2365.2 1466.4" stroke="#4c72b0" stroke-width="2.6"/></g>
<polyline points="2241.4,1468.5 2309.8,1465.6 2361.6,1466.6" fill="none" stroke="#dd8452" stroke-width="5.0" stroke-dasharray="19 8" clip-path="url(#ci1)"/>
<g clip-path="url(#ci1)"><path d="M2237.8 1464.9L2245.0 1472.1M2237.8 1472.1L2245.0 1464.9" stroke="#fff" stroke-width="4.6" stroke-linecap="square"/><path d="M2237.8 1464.9L2245.0 1472.1M2237.8 1472.1L2245.0 1464.9" stroke="#dd8452" stroke-width="2.6"/></g>
<g clip-path="url(#ci1)"><path d="M2306.2 1462.0L2313.4 1469.2M2306.2 1469.2L2313.4 1462.0" stroke="#fff" stroke-width="4.6" stroke-linecap="square"/><path d="M2306.2 1462.0L2313.4 1469.2M2306.2 1469.2L2313.4 1462.0" stroke="#dd8452" stroke-width="2.6"/></g>
<g clip-path="url(#ci1)"><path d="M2358.0 1463.0L2365.2 1470.2M2358.0 1470.2L2365.2 1463.0" stroke="#fff" stroke-width="4.6" stroke-linecap="square"/><path d="M2358.0 1463.0L2365.2 1470.2M2358.0 1470.2L2365.2 1463.0" stroke="#dd8452" stroke-width="2.6"/></g>
<polyline points="2241.4,1517.8 2309.8,1516.3 2361.6,1515.9" fill="none" stroke="#55a868" stroke-width="5.0" stroke-dasharray="19 8" clip-path="url(#ci1)"/>
<g clip-path="url(#ci1)"><path d="M2237.8 1514.2L2245.0 1521.4M2237.8 1521.4L2245.0 1514.2" stroke="#fff" stroke-width="4.6" stroke-linecap="square"/><path d="M2237.8 1514.2L2245.0 1521.4M2237.8 1521.4L2245.0 1514.2" stroke="#55a868" stroke-width="2.6"/></g>
<g clip-path="url(#ci1)"><path d="M2306.2 1512.7L2313.4 1519.9M2306.2 1519.9L2313.4 1512.7" stroke="#fff" stroke-width="4.6" stroke-linecap="square"/><path d="M2306.2 1512.7L2313.4 1519.9M2306.2 1519.9L2313.4 1512.7" stroke="#55a868" stroke-width="2.6"/></g>
<g clip-path="url(#ci1)"><path d="M2358.0 1512.3L2365.2 1519.5M2358.0 1519.5L2365.2 1512.3" stroke="#fff" stroke-width="4.6" stroke-linecap="square"/><path d="M2358.0 1512.3L2365.2 1519.5M2358.0 1519.5L2365.2 1512.3" stroke="#55a868" stroke-width="2.6"/></g>
<polyline points="2241.4,1611.0 2309.8,1537.3 2361.6,1538.3" fill="none" stroke="#4c72b0" stroke-width="5.0" clip-path="url(#ci1)"/>
<circle cx="2241.4" cy="1611.0" r="6.2" fill="#4c72b0" stroke="#fff" stroke-width="1.3" clip-path="url(#ci1)"/>
<circle cx="2309.8" cy="1537.3" r="6.2" fill="#4c72b0" stroke="#fff" stroke-width="1.3" clip-path="url(#ci1)"/>
<circle cx="2361.6" cy="1538.3" r="6.2" fill="#4c72b0" stroke="#fff" stroke-width="1.3" clip-path="url(#ci1)"/>
<polyline points="2241.4,1606.6 2309.8,1559.8 2361.6,1552.4" fill="none" stroke="#55a868" stroke-width="5.0" clip-path="url(#ci1)"/>
<circle cx="2241.4" cy="1606.6" r="6.2" fill="#55a868" stroke="#fff" stroke-width="1.3" clip-path="url(#ci1)"/>
<circle cx="2309.8" cy="1559.8" r="6.2" fill="#55a868" stroke="#fff" stroke-width="1.3" clip-path="url(#ci1)"/>
<circle cx="2361.6" cy="1552.4" r="6.2" fill="#55a868" stroke="#fff" stroke-width="1.3" clip-path="url(#ci1)"/>
<polyline points="2241.4,1571.5 2309.8,1512.4 2361.6,1501.2" fill="none" stroke="#dd8452" stroke-width="5.0" clip-path="url(#ci1)"/>
<circle cx="2241.4" cy="1571.5" r="6.2" fill="#dd8452" stroke="#fff" stroke-width="1.3" clip-path="url(#ci1)"/>
<circle cx="2309.8" cy="1512.4" r="6.2" fill="#dd8452" stroke="#fff" stroke-width="1.3" clip-path="url(#ci1)"/>
<circle cx="2361.6" cy="1501.2" r="6.2" fill="#dd8452" stroke="#fff" stroke-width="1.3" clip-path="url(#ci1)"/>
<rect x="2237.6" y="1433.5" width="131.4000000000001" height="168.20000000000005" fill="none" stroke="#000" stroke-width="2.4"/>
<rect x="1066.5" y="1330" width="181" height="265" rx="5" fill="#fff" stroke="#dedede" stroke-width="2.9"/>
<path d="M1077.5 1352H1140" stroke="#4c72b0" stroke-width="3.8" stroke-linecap="round"/>
<text x="1163.0" y="1362.4" font-size="29" text-anchor="start" fill="#262626" >All</text>
<path d="M1077.5 1395H1140" stroke="#dd8452" stroke-width="3.8" stroke-linecap="round"/>
<text x="1163.0" y="1405.4" font-size="29" text-anchor="start" fill="#262626" >FiLM</text>
<path d="M1077.5 1438.3H1140" stroke="#55a868" stroke-width="3.8" stroke-linecap="round"/>
<text x="1163.0" y="1448.7" font-size="29" text-anchor="start" fill="#262626" >Head</text>
<path d="M1077.5 1523.5H1140" stroke="#4c4c4c" stroke-width="4.8" stroke-dasharray="15.5 7.5"/>
<g transform="translate(1109 1523.5)"><path d="M-8 -8L8 8M-8 8L8 -8" stroke="#4c4c4c" stroke-width="8"/></g>
<path d="M1077.5 1565H1140" stroke="#4c4c4c" stroke-width="4.8"/><circle cx="1109" cy="1565" r="10" fill="#4c4c4c"/>
<text x="1163" y="1533.0" font-size="29" fill="#262626"><tspan font-family="Liberation Serif" font-style="italic" font-size="34">ϵ</tspan>=<tspan font-size="25">∞</tspan></text>
<text x="1163" y="1574.5" font-size="29" fill="#262626"><tspan font-family="Liberation Serif" font-style="italic" font-size="34">ϵ</tspan>=2</text>
</g>
<g id="fig3">
<rect x="1572.6" y="2162.4" width="38.4" height="206.1" fill="#ebebeb"/>
<rect x="1610.8" y="2157.7" width="38.4" height="210.8" fill="#ebebeb"/>
<rect x="1648.9" y="2125.8" width="38.4" height="242.7" fill="#ebebeb"/>
<rect x="1687.0" y="2115.5" width="38.4" height="253.0" fill="#ebebeb"/>
<rect x="1725.2" y="2102.3" width="38.4" height="266.2" fill="#ebebeb"/>
<rect x="1763.3" y="2104.2" width="38.4" height="264.3" fill="#ebebeb"/>
<rect x="1572.6" y="2309.3" width="38.4" height="59.2" fill="#1f77b4"/>
<text transform="translate(1596.7 2157.9) rotate(-90)" font-size="17.5" textLength="35.5" lengthAdjust="spacingAndGlyphs" fill="#000">58.9</text>
<text transform="translate(1596.7 2304.8) rotate(-90)" font-size="17.5" textLength="35.5" lengthAdjust="spacingAndGlyphs" fill="#000">27.6</text>
<rect x="1610.8" y="2300.9" width="38.4" height="67.6" fill="#86b1d3"/>
<text transform="translate(1634.8 2153.2) rotate(-90)" font-size="17.5" textLength="35.5" lengthAdjust="spacingAndGlyphs" fill="#000">59.9</text>
<text transform="translate(1634.8 2296.4) rotate(-90)" font-size="17.5" textLength="35.5" lengthAdjust="spacingAndGlyphs" fill="#000">29.4</text>
<rect x="1648.9" y="2307.9" width="38.4" height="60.6" fill="#ff7f0e"/>
<text transform="translate(1673.0 2121.3) rotate(-90)" font-size="17.5" textLength="35.5" lengthAdjust="spacingAndGlyphs" fill="#000">66.7</text>
<text transform="translate(1673.0 2303.4) rotate(-90)" font-size="17.5" textLength="35.5" lengthAdjust="spacingAndGlyphs" fill="#000">27.9</text>
<rect x="1687.0" y="2303.7" width="38.4" height="64.8" fill="#f5b47f"/>
<text transform="translate(1711.1 2111.0) rotate(-90)" font-size="17.5" textLength="35.5" lengthAdjust="spacingAndGlyphs" fill="#000">68.9</text>
<text transform="translate(1711.1 2299.2) rotate(-90)" font-size="17.5" textLength="35.5" lengthAdjust="spacingAndGlyphs" fill="#000">28.8</text>
<rect x="1725.2" y="2341.2" width="38.4" height="27.3" fill="#2ca02c"/>
<text transform="translate(1749.3 2097.8) rotate(-90)" font-size="17.5" textLength="35.5" lengthAdjust="spacingAndGlyphs" fill="#000">71.7</text>
<text transform="translate(1749.3 2336.7) rotate(-90)" font-size="17.5" textLength="35.5" lengthAdjust="spacingAndGlyphs" fill="#000">20.8</text>
<rect x="1763.3" y="2316.4" width="38.4" height="52.1" fill="#8dc68d"/>
<text transform="translate(1787.4 2099.7) rotate(-90)" font-size="17.5" textLength="35.5" lengthAdjust="spacingAndGlyphs" fill="#000">71.3</text>
<text transform="translate(1787.4 2311.9) rotate(-90)" font-size="17.5" textLength="35.5" lengthAdjust="spacingAndGlyphs" fill="#000">26.1</text>
<path d="M1687.0 2368.5v6" stroke="#000" stroke-width="1.4"/>
<text x="1687.0" y="2401.5" font-size="29.5" text-anchor="middle" fill="#000" textLength="68" lengthAdjust="spacing"><tspan font-family="Liberation Serif" font-style="italic" font-size="36">ϵ</tspan> = 1</text>
<rect x="1866.0" y="2162.4" width="38.4" height="206.1" fill="#ebebeb"/>
<rect x="1904.2" y="2157.7" width="38.4" height="210.8" fill="#ebebeb"/>
<rect x="1942.3" y="2125.8" width="38.4" height="242.7" fill="#ebebeb"/>
<rect x="1980.5" y="2115.5" width="38.4" height="253.0" fill="#ebebeb"/>
<rect x="2018.6" y="2102.3" width="38.4" height="266.2" fill="#ebebeb"/>
<rect x="2056.8" y="2104.2" width="38.4" height="264.3" fill="#ebebeb"/>
<rect x="1866.0" y="2276.0" width="38.4" height="92.5" fill="#1f77b4"/>
<text transform="translate(1890.1 2157.9) rotate(-90)" font-size="17.5" textLength="35.5" lengthAdjust="spacingAndGlyphs" fill="#000">58.9</text>
<text transform="translate(1890.1 2271.5) rotate(-90)" font-size="17.5" textLength="35.5" lengthAdjust="spacingAndGlyphs" fill="#000">34.7</text>
<rect x="1904.2" y="2262.9" width="38.4" height="105.6" fill="#86b1d3"/>
<text transform="translate(1928.2 2153.2) rotate(-90)" font-size="17.5" textLength="35.5" lengthAdjust="spacingAndGlyphs" fill="#000">59.9</text>
<text transform="translate(1928.2 2258.4) rotate(-90)" font-size="17.5" textLength="35.5" lengthAdjust="spacingAndGlyphs" fill="#000">37.5</text>
<rect x="1942.3" y="2274.1" width="38.4" height="94.4" fill="#ff7f0e"/>
<text transform="translate(1966.4 2121.3) rotate(-90)" font-size="17.5" textLength="35.5" lengthAdjust="spacingAndGlyphs" fill="#000">66.7</text>
<text transform="translate(1966.4 2269.6) rotate(-90)" font-size="17.5" textLength="35.5" lengthAdjust="spacingAndGlyphs" fill="#000">35.1</text>
<rect x="1980.5" y="2260.5" width="38.4" height="108.0" fill="#f5b47f"/>
<text transform="translate(2004.5 2111.0) rotate(-90)" font-size="17.5" textLength="35.5" lengthAdjust="spacingAndGlyphs" fill="#000">68.9</text>
<text transform="translate(2004.5 2256.0) rotate(-90)" font-size="17.5" textLength="35.5" lengthAdjust="spacingAndGlyphs" fill="#000">38.0</text>
<rect x="2018.6" y="2320.6" width="38.4" height="47.9" fill="#2ca02c"/>
<text transform="translate(2042.7 2097.8) rotate(-90)" font-size="17.5" textLength="35.5" lengthAdjust="spacingAndGlyphs" fill="#000">71.7</text>
<text transform="translate(2042.7 2316.1) rotate(-90)" font-size="17.5" textLength="35.5" lengthAdjust="spacingAndGlyphs" fill="#000">25.2</text>
<rect x="2056.8" y="2277.9" width="38.4" height="90.6" fill="#8dc68d"/>
<text transform="translate(2080.8 2099.7) rotate(-90)" font-size="17.5" textLength="35.5" lengthAdjust="spacingAndGlyphs" fill="#000">71.3</text>
<text transform="translate(2080.8 2273.4) rotate(-90)" font-size="17.5" textLength="35.5" lengthAdjust="spacingAndGlyphs" fill="#000">34.3</text>
<path d="M1980.5 2368.5v6" stroke="#000" stroke-width="1.4"/>
<text x="1980.5" y="2401.5" font-size="29.5" text-anchor="middle" fill="#000" textLength="68" lengthAdjust="spacing"><tspan font-family="Liberation Serif" font-style="italic" font-size="36">ϵ</tspan> = 2</text>
<rect x="2159.2" y="2162.4" width="38.4" height="206.1" fill="#ebebeb"/>
<rect x="2197.3" y="2157.7" width="38.4" height="210.8" fill="#ebebeb"/>
<rect x="2235.5" y="2125.8" width="38.4" height="242.7" fill="#ebebeb"/>
<rect x="2273.6" y="2115.5" width="38.4" height="253.0" fill="#ebebeb"/>
<rect x="2311.8" y="2102.3" width="38.4" height="266.2" fill="#ebebeb"/>
<rect x="2349.9" y="2104.2" width="38.4" height="264.3" fill="#ebebeb"/>
<rect x="2159.2" y="2237.0" width="38.4" height="131.5" fill="#1f77b4"/>
<text transform="translate(2183.3 2157.9) rotate(-90)" font-size="17.5" textLength="35.5" lengthAdjust="spacingAndGlyphs" fill="#000">58.9</text>
<text transform="translate(2183.3 2232.5) rotate(-90)" font-size="17.5" textLength="35.5" lengthAdjust="spacingAndGlyphs" fill="#000">43.0</text>
<rect x="2197.3" y="2224.4" width="38.4" height="144.1" fill="#86b1d3"/>
<text transform="translate(2221.4 2153.2) rotate(-90)" font-size="17.5" textLength="35.5" lengthAdjust="spacingAndGlyphs" fill="#000">59.9</text>
<text transform="translate(2221.4 2219.9) rotate(-90)" font-size="17.5" textLength="35.5" lengthAdjust="spacingAndGlyphs" fill="#000">45.7</text>
<rect x="2235.5" y="2238.4" width="38.4" height="130.1" fill="#ff7f0e"/>
<text transform="translate(2259.6 2121.3) rotate(-90)" font-size="17.5" textLength="35.5" lengthAdjust="spacingAndGlyphs" fill="#000">66.7</text>
<text transform="translate(2259.6 2233.9) rotate(-90)" font-size="17.5" textLength="35.5" lengthAdjust="spacingAndGlyphs" fill="#000">42.7</text>
<rect x="2273.6" y="2217.8" width="38.4" height="150.7" fill="#f5b47f"/>
<text transform="translate(2297.7 2111.0) rotate(-90)" font-size="17.5" textLength="35.5" lengthAdjust="spacingAndGlyphs" fill="#000">68.9</text>
<text transform="translate(2297.7 2213.3) rotate(-90)" font-size="17.5" textLength="35.5" lengthAdjust="spacingAndGlyphs" fill="#000">47.1</text>
<rect x="2311.8" y="2292.4" width="38.4" height="76.1" fill="#2ca02c"/>
<text transform="translate(2335.9 2097.8) rotate(-90)" font-size="17.5" textLength="35.5" lengthAdjust="spacingAndGlyphs" fill="#000">71.7</text>
<text transform="translate(2335.9 2287.9) rotate(-90)" font-size="17.5" textLength="35.5" lengthAdjust="spacingAndGlyphs" fill="#000">31.2</text>
<rect x="2349.9" y="2233.3" width="38.4" height="135.2" fill="#8dc68d"/>
<text transform="translate(2374.0 2099.7) rotate(-90)" font-size="17.5" textLength="35.5" lengthAdjust="spacingAndGlyphs" fill="#000">71.3</text>
<text transform="translate(2374.0 2228.8) rotate(-90)" font-size="17.5" textLength="35.5" lengthAdjust="spacingAndGlyphs" fill="#000">43.8</text>
<path d="M2273.6 2368.5v6" stroke="#000" stroke-width="1.4"/>
<text x="2273.6" y="2401.5" font-size="29.5" text-anchor="middle" fill="#000" textLength="68" lengthAdjust="spacing"><tspan font-family="Liberation Serif" font-style="italic" font-size="36">ϵ</tspan> = 4</text>
<rect x="2452.4" y="2162.4" width="38.4" height="206.1" fill="#ebebeb"/>
<rect x="2490.6" y="2157.7" width="38.4" height="210.8" fill="#ebebeb"/>
<rect x="2528.7" y="2125.8" width="38.4" height="242.7" fill="#ebebeb"/>
<rect x="2566.8" y="2115.5" width="38.4" height="253.0" fill="#ebebeb"/>
<rect x="2605.0" y="2102.3" width="38.4" height="266.2" fill="#ebebeb"/>
<rect x="2643.2" y="2104.2" width="38.4" height="264.3" fill="#ebebeb"/>
<rect x="2452.4" y="2213.1" width="38.4" height="155.4" fill="#1f77b4"/>
<text transform="translate(2476.5 2157.9) rotate(-90)" font-size="17.5" textLength="35.5" lengthAdjust="spacingAndGlyphs" fill="#000">58.9</text>
<text transform="translate(2476.5 2208.6) rotate(-90)" font-size="17.5" textLength="35.5" lengthAdjust="spacingAndGlyphs" fill="#000">48.1</text>
<rect x="2490.6" y="2200.4" width="38.4" height="168.1" fill="#86b1d3"/>
<text transform="translate(2514.6 2153.2) rotate(-90)" font-size="17.5" textLength="35.5" lengthAdjust="spacingAndGlyphs" fill="#000">59.9</text>
<text transform="translate(2514.6 2195.9) rotate(-90)" font-size="17.5" textLength="35.5" lengthAdjust="spacingAndGlyphs" fill="#000">50.8</text>
<rect x="2528.7" y="2207.9" width="38.4" height="160.6" fill="#ff7f0e"/>
<text transform="translate(2552.8 2121.3) rotate(-90)" font-size="17.5" textLength="35.5" lengthAdjust="spacingAndGlyphs" fill="#000">66.7</text>
<text transform="translate(2552.8 2203.4) rotate(-90)" font-size="17.5" textLength="35.5" lengthAdjust="spacingAndGlyphs" fill="#000">49.2</text>
<rect x="2566.8" y="2187.3" width="38.4" height="181.2" fill="#f5b47f"/>
<text transform="translate(2590.9 2111.0) rotate(-90)" font-size="17.5" textLength="35.5" lengthAdjust="spacingAndGlyphs" fill="#000">68.9</text>
<text transform="translate(2590.9 2182.8) rotate(-90)" font-size="17.5" textLength="35.5" lengthAdjust="spacingAndGlyphs" fill="#000">53.6</text>
<rect x="2605.0" y="2268.0" width="38.4" height="100.5" fill="#2ca02c"/>
<text transform="translate(2629.1 2097.8) rotate(-90)" font-size="17.5" textLength="35.5" lengthAdjust="spacingAndGlyphs" fill="#000">71.7</text>
<text transform="translate(2629.1 2263.5) rotate(-90)" font-size="17.5" textLength="35.5" lengthAdjust="spacingAndGlyphs" fill="#000">36.4</text>
<rect x="2643.2" y="2195.7" width="38.4" height="172.8" fill="#8dc68d"/>
<text transform="translate(2667.2 2099.7) rotate(-90)" font-size="17.5" textLength="35.5" lengthAdjust="spacingAndGlyphs" fill="#000">71.3</text>
<text transform="translate(2667.2 2191.2) rotate(-90)" font-size="17.5" textLength="35.5" lengthAdjust="spacingAndGlyphs" fill="#000">51.8</text>
<path d="M2566.8 2368.5v6" stroke="#000" stroke-width="1.4"/>
<text x="2566.8" y="2401.5" font-size="29.5" text-anchor="middle" fill="#000" textLength="68" lengthAdjust="spacing"><tspan font-family="Liberation Serif" font-style="italic" font-size="36">ϵ</tspan> = 8</text>
<path d="M1517 2086V2368.5H2737.3" fill="none" stroke="#000" stroke-width="1.5"/>
<path d="M1517 2345.0h-6" stroke="#000" stroke-width="1.4"/>
<text x="1504.5" y="2352.3" font-size="21" text-anchor="end" fill="#000" textLength="25.5" lengthAdjust="spacingAndGlyphs">20</text>
<path d="M1517 2298.1h-6" stroke="#000" stroke-width="1.4"/>
<text x="1504.5" y="2305.4" font-size="21" text-anchor="end" fill="#000" textLength="25.5" lengthAdjust="spacingAndGlyphs">30</text>
<path d="M1517 2251.1h-6" stroke="#000" stroke-width="1.4"/>
<text x="1504.5" y="2258.4" font-size="21" text-anchor="end" fill="#000" textLength="25.5" lengthAdjust="spacingAndGlyphs">40</text>
<path d="M1517 2204.2h-6" stroke="#000" stroke-width="1.4"/>
<text x="1504.5" y="2211.5" font-size="21" text-anchor="end" fill="#000" textLength="25.5" lengthAdjust="spacingAndGlyphs">50</text>
<path d="M1517 2157.2h-6" stroke="#000" stroke-width="1.4"/>
<text x="1504.5" y="2164.5" font-size="21" text-anchor="end" fill="#000" textLength="25.5" lengthAdjust="spacingAndGlyphs">60</text>
<path d="M1517 2110.3h-6" stroke="#000" stroke-width="1.4"/>
<text x="1504.5" y="2117.6" font-size="21" text-anchor="end" fill="#000" textLength="25.5" lengthAdjust="spacingAndGlyphs">70</text>
<text x="1464.0" y="2226.5" font-size="28.5" text-anchor="middle" fill="#000" transform="rotate(-90 1464 2226.5)" textLength="189" lengthAdjust="spacingAndGlyphs">Accuracy (%)</text>
<rect x="1231" y="2130" width="181.7" height="183" rx="4" fill="#fff" stroke="#d4d4d4" stroke-width="1.6"/>
<rect x="1239.6" y="2139.8" width="40.2" height="14" fill="#1f77b4"/>
<text x="1295.6" y="2153.6" font-size="19.5" text-anchor="start" fill="#000" textLength="104" lengthAdjust="spacingAndGlyphs">R-50 Head</text>
<rect x="1239.6" y="2168.9" width="40.2" height="14" fill="#86b1d3"/>
<text x="1295.6" y="2182.7" font-size="19.5" text-anchor="start" fill="#000" textLength="108.5" lengthAdjust="spacingAndGlyphs">ViT-B Head</text>
<rect x="1239.6" y="2198.5" width="40.2" height="14" fill="#ff7f0e"/>
<text x="1295.6" y="2212.3" font-size="19.5" text-anchor="start" fill="#000" textLength="95.7" lengthAdjust="spacingAndGlyphs">R-50 FiLM</text>
<rect x="1239.6" y="2227.7" width="40.2" height="14" fill="#f5b47f"/>
<text x="1295.6" y="2241.5" font-size="19.5" text-anchor="start" fill="#000" textLength="99.3" lengthAdjust="spacingAndGlyphs">ViT-B FiLM</text>
<rect x="1239.6" y="2257.3" width="40.2" height="14" fill="#2ca02c"/>
<text x="1295.6" y="2271.1" font-size="19.5" text-anchor="start" fill="#000" textLength="76.5" lengthAdjust="spacingAndGlyphs">R-50 All</text>
<rect x="1239.6" y="2286.9" width="40.2" height="14" fill="#8dc68d"/>
<text x="1295.6" y="2300.7" font-size="19.5" text-anchor="start" fill="#000" textLength="79.7" lengthAdjust="spacingAndGlyphs">ViT-B All</text>
</g>
<g id="fig4">
<path d="M3178 646.6V990.6M3394.1 646.6V990.6M3610.2 646.6V990.6M3826.4 646.6V990.6M3113.6 980.7H3891M3113.6 924.2H3891M3113.6 867.6H3891M3113.6 811.1H3891M3113.6 754.6H3891M3113.6 698.1H3891" stroke="#d8d8d8" stroke-width="3.1" fill="none"/>
<polyline points="3178.0,682.1 3394.1,740.7 3610.2,782.0 3826.4,794.4" fill="none" stroke="#4c72b0" stroke-width="5.6" stroke-linejoin="round"/>
<circle cx="3178" cy="682.1" r="8.6" fill="#4c72b0" stroke="#fff" stroke-width="1.6"/>
<circle cx="3394.1" cy="740.7" r="8.6" fill="#4c72b0" stroke="#fff" stroke-width="1.6"/>
<circle cx="3610.2" cy="782" r="8.6" fill="#4c72b0" stroke="#fff" stroke-width="1.6"/>
<circle cx="3826.4" cy="794.4" r="8.6" fill="#4c72b0" stroke="#fff" stroke-width="1.6"/>
<polyline points="3178.0,694.5 3394.1,771.3 3610.2,794.0 3826.4,821.0" fill="none" stroke="#dd8452" stroke-width="5.6" stroke-linejoin="round"/>
<circle cx="3178" cy="694.5" r="8.6" fill="#dd8452" stroke="#fff" stroke-width="1.6"/>
<circle cx="3394.1" cy="771.3" r="8.6" fill="#dd8452" stroke="#fff" stroke-width="1.6"/>
<circle cx="3610.2" cy="794" r="8.6" fill="#dd8452" stroke="#fff" stroke-width="1.6"/>
<circle cx="3826.4" cy="821" r="8.6" fill="#dd8452" stroke="#fff" stroke-width="1.6"/>
<polyline points="3178.0,681.2 3394.1,747.8 3610.2,799.7 3826.4,829.5" fill="none" stroke="#55a868" stroke-width="5.6" stroke-linejoin="round"/>
<circle cx="3178" cy="681.2" r="8.6" fill="#55a868" stroke="#fff" stroke-width="1.6"/>
<circle cx="3394.1" cy="747.8" r="8.6" fill="#55a868" stroke="#fff" stroke-width="1.6"/>
<circle cx="3610.2" cy="799.7" r="8.6" fill="#55a868" stroke="#fff" stroke-width="1.6"/>
<circle cx="3826.4" cy="829.5" r="8.6" fill="#55a868" stroke="#fff" stroke-width="1.6"/>
<rect x="3130.5" y="821" width="286.5" height="152" rx="6" fill="#fff" fill-opacity="0.8" stroke="#dcdcdc" stroke-width="2.6"/>
<path d="M3143 845.4H3213" stroke="#4c72b0" stroke-width="5.6" stroke-linecap="round"/>
<text x="3238.3" y="857.0" font-size="32.5" text-anchor="start" fill="#262626" textLength="92.3" lengthAdjust="spacingAndGlyphs">SVHN</text>
<path d="M3143 893H3213" stroke="#dd8452" stroke-width="5.6" stroke-linecap="round"/>
<text x="3238.3" y="904.6" font-size="32.5" text-anchor="start" fill="#262626" textLength="147" lengthAdjust="spacingAndGlyphs">CIFAR-10</text>
<path d="M3143 941H3213" stroke="#55a868" stroke-width="5.6" stroke-linecap="round"/>
<text x="3238.3" y="952.6" font-size="32.5" text-anchor="start" fill="#262626" textLength="164.7" lengthAdjust="spacingAndGlyphs">CIFAR-100</text>
<rect x="3113.6" y="646.6" width="777.4000000000001" height="344.0" fill="none" stroke="#000" stroke-width="3.7"/>
<path d="M3178 990.6v19M3394.1 990.6v19M3610.2 990.6v19M3826.4 990.6v19M3113.6 980.7h-20M3113.6 924.2h-20M3113.6 867.6h-20M3113.6 811.1h-20M3113.6 754.6h-20M3113.6 698.1h-20" stroke="#262626" stroke-width="4.2"/>
<text x="3082.0" y="992.8" font-size="33.5" text-anchor="end" fill="#262626" >1</text>
<text x="3082.0" y="936.3" font-size="33.5" text-anchor="end" fill="#262626" >2</text>
<text x="3082.0" y="879.7" font-size="33.5" text-anchor="end" fill="#262626" >4</text>
<text x="3082.0" y="823.2" font-size="33.5" text-anchor="end" fill="#262626" >8</text>
<text x="3082.0" y="766.7" font-size="33.5" text-anchor="end" fill="#262626" >16</text>
<text x="3082.0" y="710.2" font-size="33.5" text-anchor="end" fill="#262626" >32</text>
<text x="3178" y="1042.5" font-size="33.5" text-anchor="middle" fill="#262626"><tspan font-family="Liberation Serif" font-style="italic" font-size="40">ϵ</tspan>=1</text>
<text x="3394.1" y="1042.5" font-size="33.5" text-anchor="middle" fill="#262626"><tspan font-family="Liberation Serif" font-style="italic" font-size="40">ϵ</tspan>=2</text>
<text x="3610.2" y="1042.5" font-size="33.5" text-anchor="middle" fill="#262626"><tspan font-family="Liberation Serif" font-style="italic" font-size="40">ϵ</tspan>=4</text>
<text x="3826.4" y="1042.5" font-size="33.5" text-anchor="middle" fill="#262626"><tspan font-family="Liberation Serif" font-style="italic" font-size="40">ϵ</tspan>=8</text>
<text x="3025.0" y="817.5" font-size="33.3" text-anchor="middle" fill="#262626" transform="rotate(-90 3025 817.5)">Multiplier</text>
</g>
<g id="fig5">
<clipPath id="c5"><rect x="3227.6" y="1447.7" width="519.7000000000003" height="518.5"/></clipPath>
<path d="M3227.6 1966.2L3723.3 1471.3" stroke="#000" stroke-width="3.2" clip-path="url(#c5)"/>
<polyline points="3253.3,1888.8 3275.3,1888.8 3275.8,1882.1 3288.8,1882.1 3288.8,1859.3 3299.8,1858.8 3306.8,1854.6 3315.6,1850.5 3316.5,1840.0 3320.9,1834.7 3325.3,1828.6 3325.3,1816.3 3334.0,1815.4 3334.9,1804.9 3341.1,1802.3 3344.6,1791.8 3349.8,1786.5 3355.1,1781.2 3363.9,1773.3 3374.4,1767.2 3377.9,1763.7 3386.7,1758.4 3395.4,1751.4 3398.9,1744.4 3409.5,1739.1 3420.0,1730.4 3430.5,1722.5 3435.8,1714.6 3448.1,1704.9 3456.8,1697.0 3463.9,1690.0 3524.6,1624.6 3548.1,1601.1 3572.3,1578.1 3595.8,1554.5 3619.4,1533.4 3642.9,1513.4 3666.4,1496.9 3689.9,1484.0 3708.7,1474.6 3723.3,1471.3" fill="none" stroke="#1f77b4" stroke-width="3.8" stroke-linejoin="round" stroke-dasharray="11.5 5" clip-path="url(#c5)"/>
<polyline points="3228.2,1883.0 3251.6,1883.0 3252.5,1877.7 3288.4,1877.7 3288.8,1859.3 3299.8,1859.3 3306.0,1858.4 3306.8,1854.9 3312.1,1854.0 3313.0,1850.5 3325.3,1850.0 3328.8,1848.8 3329.1,1839.1 3335.8,1837.4 3340.2,1836.5 3341.1,1830.4 3344.6,1823.3 3345.4,1818.1 3351.6,1814.6 3352.5,1804.0 3358.6,1798.8 3360.4,1788.2 3363.9,1781.2 3374.4,1776.0 3377.9,1770.7 3381.4,1765.4 3395.4,1758.4 3402.5,1749.6 3409.5,1742.6 3420.0,1732.1 3430.5,1725.1 3437.5,1716.3 3448.1,1707.5 3456.8,1698.8 3465.6,1690.0 3525.7,1625.8 3549.3,1602.3 3572.8,1578.8 3596.3,1555.2 3619.8,1534.1 3643.3,1514.1 3666.9,1497.6 3690.4,1484.7 3709.2,1475.3 3723.3,1471.3" fill="none" stroke="#1f77b4" stroke-width="3.8" stroke-linejoin="round" clip-path="url(#c5)"/>
<polyline points="3228.2,1845.8 3251.6,1845.8 3251.6,1826.5 3275.3,1826.5 3275.3,1792.6 3290.2,1791.8 3297.2,1785.6 3311.2,1783.0 3314.7,1780.4 3325.3,1776.0 3334.0,1772.5 3339.3,1767.2 3346.3,1762.8 3349.8,1758.4 3360.4,1753.2 3365.6,1749.6 3370.9,1745.3 3377.9,1742.6 3384.9,1737.4 3388.4,1733.0 3395.4,1727.7 3402.5,1720.7 3409.5,1715.4 3416.5,1706.7 3423.5,1699.6 3430.5,1694.4 3436.7,1690.0 3477.8,1646.0 3501.3,1623.7 3525.3,1601.6 3548.8,1580.4 3572.3,1559.2 3595.8,1538.1 3619.4,1519.3 3642.9,1502.8 3666.4,1489.9 3689.9,1480.5 3708.7,1473.6 3723.3,1471.3" fill="none" stroke="#ff7f0e" stroke-width="3.8" stroke-linejoin="round" stroke-dasharray="11.5 5" clip-path="url(#c5)"/>
<polyline points="3228.2,1942.6 3251.6,1942.6 3251.9,1849.6 3275.3,1849.6 3276.1,1836.0 3288.8,1836.0 3289.3,1806.7 3297.2,1805.8 3298.1,1797.0 3311.2,1796.1 3317.4,1792.6 3318.2,1788.2 3325.3,1785.6 3332.3,1781.2 3339.3,1776.0 3349.8,1772.5 3356.8,1765.4 3367.4,1760.2 3374.4,1753.2 3377.9,1746.1 3384.9,1740.9 3388.4,1733.9 3395.4,1728.6 3402.5,1721.6 3409.5,1716.3 3416.5,1707.5 3423.5,1700.5 3430.5,1695.3 3437.5,1690.0 3478.7,1647.0 3502.2,1624.6 3525.7,1602.3 3549.3,1581.1 3572.8,1559.9 3596.3,1538.8 3619.8,1520.0 3643.3,1503.5 3666.9,1490.6 3690.4,1481.2 3709.2,1474.3 3723.3,1471.3" fill="none" stroke="#ff7f0e" stroke-width="3.8" stroke-linejoin="round" clip-path="url(#c5)"/>
<polyline points="3228.2,1797.9 3251.6,1797.9 3251.6,1787.4 3288.4,1787.4 3288.4,1774.2 3297.2,1773.3 3298.1,1765.4 3311.2,1763.7 3312.1,1761.1 3320.9,1760.2 3325.3,1754.9 3332.3,1751.4 3339.3,1746.1 3341.1,1740.9 3346.3,1735.6 3355.1,1722.5 3363.9,1714.6 3370.9,1709.3 3374.4,1702.3 3381.4,1697.9 3391.9,1690.0 3453.3,1635.7 3462.7,1627.4 3475.4,1619.9 3498.9,1597.6 3525.0,1578.1 3548.6,1558.1 3572.1,1539.2 3595.6,1521.6 3619.1,1507.5 3642.6,1494.6 3666.2,1485.2 3689.7,1478.1 3708.5,1472.9 3723.3,1471.3" fill="none" stroke="#2ca02c" stroke-width="3.8" stroke-linejoin="round" stroke-dasharray="11.5 5" clip-path="url(#c5)"/>
<polyline points="3228.2,1919.5 3251.6,1919.5 3251.6,1847.9 3275.3,1847.9 3275.3,1811.1 3288.4,1811.1 3289.3,1807.5 3297.2,1806.7 3298.1,1802.3 3306.0,1801.4 3306.0,1789.1 3311.2,1788.2 3311.6,1775.1 3320.9,1772.5 3321.8,1760.2 3327.0,1758.4 3332.3,1754.0 3339.3,1750.5 3341.1,1742.6 3346.3,1737.4 3349.8,1733.0 3360.4,1727.7 3365.6,1723.3 3374.4,1718.9 3381.4,1711.1 3388.4,1702.3 3395.4,1697.9 3402.5,1693.5 3407.7,1690.0 3459.9,1639.9 3469.3,1631.7 3478.7,1622.3 3502.2,1599.9 3525.7,1578.8 3549.3,1558.8 3572.8,1540.0 3596.3,1522.3 3619.8,1508.2 3643.3,1495.3 3666.9,1485.9 3690.4,1478.8 3709.2,1473.6 3723.3,1471.3" fill="none" stroke="#2ca02c" stroke-width="3.8" stroke-linejoin="round" clip-path="url(#c5)"/>
<polyline points="3228.2,1781.8 3251.6,1781.8 3251.6,1737.0 3275.3,1736.0 3278.8,1731.8 3297.2,1730.0 3305.1,1724.2 3306.0,1710.2 3318.2,1705.8 3328.8,1698.4 3335.8,1696.7 3342.8,1690.9 3344.9,1688.2 3346.5,1679.0 3360.6,1673.1 3377.1,1666.0 3384.2,1659.0 3402.7,1652.4 3412.1,1641.8 3423.9,1630.0 3442.7,1614.7 3461.5,1601.8 3478.0,1588.9 3501.5,1571.2 3525.0,1553.6 3548.6,1538.3 3572.1,1524.2 3595.6,1511.3 3619.1,1500.2 3642.6,1490.1 3666.2,1483.0 3689.7,1477.2 3708.5,1472.9 3723.3,1471.3" fill="none" stroke="#d62728" stroke-width="3.8" stroke-linejoin="round" stroke-dasharray="11.5 5" clip-path="url(#c5)"/>
<polyline points="3228.2,1754.6 3251.6,1754.6 3251.6,1736.5 3275.3,1736.5 3276.1,1733.9 3278.8,1732.1 3289.3,1732.1 3290.2,1730.7 3297.2,1730.7 3298.1,1726.8 3306.0,1726.0 3311.2,1723.3 3317.4,1721.6 3318.2,1718.1 3325.3,1715.4 3330.5,1710.2 3335.8,1706.7 3341.1,1699.6 3346.3,1695.3 3350.7,1690.0 3365.8,1676.4 3382.3,1669.3 3389.3,1662.3 3403.4,1652.8 3412.9,1642.3 3424.6,1630.5 3443.4,1615.2 3462.2,1602.3 3478.7,1589.3 3502.2,1571.7 3525.7,1554.1 3549.3,1538.8 3572.8,1524.7 3596.3,1511.7 3619.8,1500.7 3643.3,1490.6 3666.9,1483.5 3690.4,1477.6 3709.2,1473.4 3723.3,1471.3" fill="none" stroke="#d62728" stroke-width="3.8" stroke-linejoin="round" clip-path="url(#c5)"/>
<polyline points="3228.7,1635.2 3250.6,1635.2 3251.8,1622.3 3274.1,1621.6 3275.3,1616.4 3290.6,1615.2 3316.4,1611.7 3323.5,1607.0 3335.2,1602.3 3337.6,1597.1 3349.4,1594.0 3361.1,1585.8 3372.9,1577.6 3384.6,1568.9 3396.4,1558.8 3415.2,1549.4 3443.4,1536.0 3478.7,1521.1 3514.0,1510.6 3549.3,1502.3 3584.5,1496.4 3619.8,1491.3 3643.3,1488.2 3666.9,1483.5 3690.4,1477.2 3709.2,1472.9 3723.3,1471.3" fill="none" stroke="#9467bd" stroke-width="3.8" stroke-linejoin="round" stroke-dasharray="11.5 5" clip-path="url(#c5)"/>
<polyline points="3228.7,1530.1 3251.8,1530.1 3252.9,1528.7 3275.3,1528.7 3276.0,1524.7 3297.6,1524.2 3298.8,1522.8 3318.8,1521.1 3337.6,1519.5 3342.3,1517.6 3361.1,1515.3 3379.9,1513.6 3396.4,1512.0 3422.3,1508.2 3455.2,1504.0 3502.2,1497.6 3549.3,1492.2 3596.3,1487.0 3631.6,1483.5 3655.1,1480.5 3678.6,1476.0 3695.1,1472.9 3709.2,1471.5 3723.3,1471.3" fill="none" stroke="#9467bd" stroke-width="3.8" stroke-linejoin="round" clip-path="url(#c5)"/>
<rect x="3227.6" y="1447.7" width="519.7000000000003" height="518.5" fill="none" stroke="#000" stroke-width="1.5"/>
<path d="M3229.3 1966.2v3.6M3227.6 1965.2h-3.6M3236.8 1966.2v3.6M3227.6 1957.7h-3.6M3242.9 1966.2v3.6M3227.6 1951.6h-3.6M3248.0 1966.2v3.6M3227.6 1946.5h-3.6M3252.5 1966.2v3.6M3227.6 1942.0h-3.6M3256.5 1966.2v3.6M3227.6 1938.0h-3.6M3260.0 1966.2v6.5M3227.6 1934.5h-6.5M3283.2 1966.2v3.6M3227.6 1911.3h-3.6M3296.8 1966.2v3.6M3227.6 1897.7h-3.6M3306.4 1966.2v3.6M3227.6 1888.0h-3.6M3313.9 1966.2v3.6M3227.6 1880.5h-3.6M3320.0 1966.2v3.6M3227.6 1874.4h-3.6M3325.2 1966.2v3.6M3227.6 1869.3h-3.6M3329.7 1966.2v3.6M3227.6 1864.8h-3.6M3333.6 1966.2v3.6M3227.6 1860.8h-3.6M3337.2 1966.2v6.5M3227.6 1857.3h-6.5M3360.4 1966.2v3.6M3227.6 1834.1h-3.6M3374.0 1966.2v3.6M3227.6 1820.5h-3.6M3383.6 1966.2v3.6M3227.6 1810.8h-3.6M3391.1 1966.2v3.6M3227.6 1803.3h-3.6M3397.2 1966.2v3.6M3227.6 1797.2h-3.6M3402.3 1966.2v3.6M3227.6 1792.1h-3.6M3406.8 1966.2v3.6M3227.6 1787.6h-3.6M3410.8 1966.2v3.6M3227.6 1783.6h-3.6M3414.3 1966.2v6.5M3227.6 1780.1h-6.5M3437.5 1966.2v3.6M3227.6 1756.9h-3.6M3451.1 1966.2v3.6M3227.6 1743.3h-3.6M3460.7 1966.2v3.6M3227.6 1733.6h-3.6M3468.2 1966.2v3.6M3227.6 1726.1h-3.6M3474.3 1966.2v3.6M3227.6 1720.0h-3.6M3479.5 1966.2v3.6M3227.6 1714.9h-3.6M3484.0 1966.2v3.6M3227.6 1710.4h-3.6M3487.9 1966.2v3.6M3227.6 1706.4h-3.6M3491.5 1966.2v6.5M3227.6 1702.9h-6.5M3514.7 1966.2v3.6M3227.6 1679.7h-3.6M3528.3 1966.2v3.6M3227.6 1666.1h-3.6M3537.9 1966.2v3.6M3227.6 1656.4h-3.6M3545.4 1966.2v3.6M3227.6 1648.9h-3.6M3551.5 1966.2v3.6M3227.6 1642.8h-3.6M3556.6 1966.2v3.6M3227.6 1637.7h-3.6M3561.1 1966.2v3.6M3227.6 1633.2h-3.6M3565.1 1966.2v3.6M3227.6 1629.2h-3.6M3568.6 1966.2v6.5M3227.6 1625.7h-6.5M3591.8 1966.2v3.6M3227.6 1602.5h-3.6M3605.4 1966.2v3.6M3227.6 1588.9h-3.6M3615.0 1966.2v3.6M3227.6 1579.2h-3.6M3622.5 1966.2v3.6M3227.6 1571.7h-3.6M3628.6 1966.2v3.6M3227.6 1565.6h-3.6M3633.8 1966.2v3.6M3227.6 1560.5h-3.6M3638.3 1966.2v3.6M3227.6 1556.0h-3.6M3642.2 1966.2v3.6M3227.6 1552.0h-3.6M3645.8 1966.2v6.5M3227.6 1548.5h-6.5M3669.0 1966.2v3.6M3227.6 1525.3h-3.6M3682.6 1966.2v3.6M3227.6 1511.7h-3.6M3692.2 1966.2v3.6M3227.6 1502.0h-3.6M3699.7 1966.2v3.6M3227.6 1494.5h-3.6M3705.8 1966.2v3.6M3227.6 1488.4h-3.6M3710.9 1966.2v3.6M3227.6 1483.3h-3.6M3715.4 1966.2v3.6M3227.6 1478.8h-3.6M3719.4 1966.2v3.6M3227.6 1474.8h-3.6M3722.9 1966.2v6.5M3227.6 1471.3h-6.5M3746.1 1966.2v3.6M3227.6 1448.1h-3.6" stroke="#000" stroke-width="1.3"/>
<text x="3212.8" y="1943.0" font-size="20" text-anchor="end" fill="#000" textLength="41" lengthAdjust="spacingAndGlyphs">10<tspan dy="-8" font-size="14">−6</tspan></text>
<text x="3261.0" y="1994.5" font-size="20" text-anchor="middle" fill="#000" textLength="41" lengthAdjust="spacingAndGlyphs">10<tspan dy="-8" font-size="14">−6</tspan></text>
<text x="3212.8" y="1865.8" font-size="20" text-anchor="end" fill="#000" textLength="41" lengthAdjust="spacingAndGlyphs">10<tspan dy="-8" font-size="14">−5</tspan></text>
<text x="3338.2" y="1994.5" font-size="20" text-anchor="middle" fill="#000" textLength="41" lengthAdjust="spacingAndGlyphs">10<tspan dy="-8" font-size="14">−5</tspan></text>
<text x="3212.8" y="1788.6" font-size="20" text-anchor="end" fill="#000" textLength="41" lengthAdjust="spacingAndGlyphs">10<tspan dy="-8" font-size="14">−4</tspan></text>
<text x="3415.3" y="1994.5" font-size="20" text-anchor="middle" fill="#000" textLength="41" lengthAdjust="spacingAndGlyphs">10<tspan dy="-8" font-size="14">−4</tspan></text>
<text x="3212.8" y="1711.4" font-size="20" text-anchor="end" fill="#000" textLength="41" lengthAdjust="spacingAndGlyphs">10<tspan dy="-8" font-size="14">−3</tspan></text>
<text x="3492.5" y="1994.5" font-size="20" text-anchor="middle" fill="#000" textLength="41" lengthAdjust="spacingAndGlyphs">10<tspan dy="-8" font-size="14">−3</tspan></text>
<text x="3212.8" y="1634.2" font-size="20" text-anchor="end" fill="#000" textLength="41" lengthAdjust="spacingAndGlyphs">10<tspan dy="-8" font-size="14">−2</tspan></text>
<text x="3569.6" y="1994.5" font-size="20" text-anchor="middle" fill="#000" textLength="41" lengthAdjust="spacingAndGlyphs">10<tspan dy="-8" font-size="14">−2</tspan></text>
<text x="3212.8" y="1557.0" font-size="20" text-anchor="end" fill="#000" textLength="41" lengthAdjust="spacingAndGlyphs">10<tspan dy="-8" font-size="14">−1</tspan></text>
<text x="3646.8" y="1994.5" font-size="20" text-anchor="middle" fill="#000" textLength="41" lengthAdjust="spacingAndGlyphs">10<tspan dy="-8" font-size="14">−1</tspan></text>
<text x="3212.8" y="1479.8" font-size="20" text-anchor="end" fill="#000" textLength="30" lengthAdjust="spacingAndGlyphs">10<tspan dy="-8" font-size="14">0</tspan></text>
<text x="3723.9" y="1994.5" font-size="20" text-anchor="middle" fill="#000" textLength="30" lengthAdjust="spacingAndGlyphs">10<tspan dy="-8" font-size="14">0</tspan></text>
<text x="3487.4" y="2021.7" font-size="18.3" text-anchor="middle" fill="#000" >FPR</text>
<text x="3487.4" y="1436.5" font-size="20.5" text-anchor="middle" fill="#000" textLength="74" lengthAdjust="spacingAndGlyphs">S = 50</text>
<text x="3158.5" y="1706.0" font-size="18.3" text-anchor="middle" fill="#000" transform="rotate(-90 3158.5 1706)">TPR</text>
<rect x="3475.5" y="1697" width="262.5" height="260" rx="4" fill="#fff" fill-opacity="0.8" stroke="#d4d4d4" stroke-width="1.6"/>
<path d="M3481.8 1711.3H3518.6" stroke="#9467bd" stroke-width="3.2" stroke-dasharray="13.5 6"/>
<text x="3531.5" y="1717.1" font-size="16.2" fill="#000" textLength="190.7" lengthAdjust="spacingAndGlyphs">FiLM:<tspan font-family="Liberation Serif" font-style="italic" font-size="19">ϵ</tspan>=∞, TPR=0.236</text>
<path d="M3481.8 1736.8H3518.6" stroke="#9467bd" stroke-width="3.2"/>
<text x="3531.5" y="1742.6" font-size="16.2" fill="#000" textLength="197.5" lengthAdjust="spacingAndGlyphs">Head:<tspan font-family="Liberation Serif" font-style="italic" font-size="19">ϵ</tspan>=∞, TPR=0.414</text>
<path d="M3481.8 1762.2H3518.6" stroke="#d62728" stroke-width="3.2" stroke-dasharray="13.5 6"/>
<text x="3531.5" y="1768.0" font-size="16.2" fill="#000" textLength="187.6" lengthAdjust="spacingAndGlyphs">FiLM:<tspan font-family="Liberation Serif" font-style="italic" font-size="19">ϵ</tspan>=8, TPR=0.041</text>
<path d="M3481.8 1787.7H3518.6" stroke="#d62728" stroke-width="3.2"/>
<text x="3531.5" y="1793.5" font-size="16.2" fill="#000" textLength="194.1" lengthAdjust="spacingAndGlyphs">Head:<tspan font-family="Liberation Serif" font-style="italic" font-size="19">ϵ</tspan>=8, TPR=0.041</text>
<path d="M3481.8 1813.2H3518.6" stroke="#2ca02c" stroke-width="3.2" stroke-dasharray="13.5 6"/>
<text x="3531.5" y="1819.0" font-size="16.2" fill="#000" textLength="187.6" lengthAdjust="spacingAndGlyphs">FiLM:<tspan font-family="Liberation Serif" font-style="italic" font-size="19">ϵ</tspan>=4, TPR=0.018</text>
<path d="M3481.8 1838.6H3518.6" stroke="#2ca02c" stroke-width="3.2"/>
<text x="3531.5" y="1844.4" font-size="16.2" fill="#000" textLength="194.1" lengthAdjust="spacingAndGlyphs">Head:<tspan font-family="Liberation Serif" font-style="italic" font-size="19">ϵ</tspan>=4, TPR=0.016</text>
<path d="M3481.8 1864.1H3518.6" stroke="#ff7f0e" stroke-width="3.2" stroke-dasharray="13.5 6"/>
<text x="3531.5" y="1869.9" font-size="16.2" fill="#000" textLength="187.6" lengthAdjust="spacingAndGlyphs">FiLM:<tspan font-family="Liberation Serif" font-style="italic" font-size="19">ϵ</tspan>=2, TPR=0.007</text>
<path d="M3481.8 1889.6H3518.6" stroke="#ff7f0e" stroke-width="3.2"/>
<text x="3531.5" y="1895.4" font-size="16.2" fill="#000" textLength="194.1" lengthAdjust="spacingAndGlyphs">Head:<tspan font-family="Liberation Serif" font-style="italic" font-size="19">ϵ</tspan>=2, TPR=0.007</text>
<path d="M3481.8 1915.1H3518.6" stroke="#1f77b4" stroke-width="3.2" stroke-dasharray="13.5 6"/>
<text x="3531.5" y="1920.9" font-size="16.2" fill="#000" textLength="187.6" lengthAdjust="spacingAndGlyphs">FiLM:<tspan font-family="Liberation Serif" font-style="italic" font-size="19">ϵ</tspan>=1, TPR=0.004</text>
<path d="M3481.8 1940.5H3518.6" stroke="#1f77b4" stroke-width="3.2"/>
<text x="3531.5" y="1946.3" font-size="16.2" fill="#000" textLength="194.1" lengthAdjust="spacingAndGlyphs">Head:<tspan font-family="Liberation Serif" font-style="italic" font-size="19">ϵ</tspan>=1, TPR=0.003</text>
</g>
<path id="qr" d="M3264.0 2286.0h88.0v12.8h-88.0zM3389.3 2286.0h12.8v12.8h-12.8zM3414.4 2286.0h50.4v12.8h-50.4zM3502.2 2286.0h12.8v12.8h-12.8zM3539.8 2286.0h88.0v12.8h-88.0zM3264.0 2298.5h12.8v12.8h-12.8zM3339.2 2298.5h12.8v12.8h-12.8zM3364.3 2298.5h12.8v12.8h-12.8zM3389.3 2298.5h12.8v12.8h-12.8zM3427.0 2298.5h75.5v12.8h-75.5zM3514.7 2298.5h12.8v12.8h-12.8zM3539.8 2298.5h12.8v12.8h-12.8zM3615.0 2298.5h12.8v12.8h-12.8zM3264.0 2311.1h12.8v12.8h-12.8zM3289.1 2311.1h37.9v12.8h-37.9zM3339.2 2311.1h12.8v12.8h-12.8zM3414.4 2311.1h25.4v12.8h-25.4zM3452.0 2311.1h12.8v12.8h-12.8zM3477.1 2311.1h50.4v12.8h-50.4zM3539.8 2311.1h12.8v12.8h-12.8zM3564.8 2311.1h37.9v12.8h-37.9zM3615.0 2311.1h12.8v12.8h-12.8zM3264.0 2323.6h12.8v12.8h-12.8zM3289.1 2323.6h37.9v12.8h-37.9zM3339.2 2323.6h12.8v12.8h-12.8zM3364.3 2323.6h37.9v12.8h-37.9zM3414.4 2323.6h12.8v12.8h-12.8zM3439.5 2323.6h25.4v12.8h-25.4zM3477.1 2323.6h12.8v12.8h-12.8zM3539.8 2323.6h12.8v12.8h-12.8zM3564.8 2323.6h37.9v12.8h-37.9zM3615.0 2323.6h12.8v12.8h-12.8zM3264.0 2336.1h12.8v12.8h-12.8zM3289.1 2336.1h37.9v12.8h-37.9zM3339.2 2336.1h12.8v12.8h-12.8zM3376.8 2336.1h12.8v12.8h-12.8zM3452.0 2336.1h25.4v12.8h-25.4zM3502.2 2336.1h12.8v12.8h-12.8zM3539.8 2336.1h12.8v12.8h-12.8zM3564.8 2336.1h37.9v12.8h-37.9zM3615.0 2336.1h12.8v12.8h-12.8zM3264.0 2348.7h12.8v12.8h-12.8zM3339.2 2348.7h12.8v12.8h-12.8zM3364.3 2348.7h25.4v12.8h-25.4zM3401.9 2348.7h25.4v12.8h-25.4zM3477.1 2348.7h25.4v12.8h-25.4zM3539.8 2348.7h12.8v12.8h-12.8zM3615.0 2348.7h12.8v12.8h-12.8zM3264.0 2361.2h88.0v12.8h-88.0zM3364.3 2361.2h12.8v12.8h-12.8zM3389.3 2361.2h12.8v12.8h-12.8zM3414.4 2361.2h12.8v12.8h-12.8zM3439.5 2361.2h12.8v12.8h-12.8zM3464.6 2361.2h12.8v12.8h-12.8zM3489.6 2361.2h12.8v12.8h-12.8zM3514.7 2361.2h12.8v12.8h-12.8zM3539.8 2361.2h88.0v12.8h-88.0zM3376.8 2373.7h37.9v12.8h-37.9zM3439.5 2373.7h12.8v12.8h-12.8zM3464.6 2373.7h12.8v12.8h-12.8zM3502.2 2373.7h25.4v12.8h-25.4zM3264.0 2386.3h63.0v12.8h-63.0zM3339.2 2386.3h50.4v12.8h-50.4zM3401.9 2386.3h12.8v12.8h-12.8zM3477.1 2386.3h25.4v12.8h-25.4zM3514.7 2386.3h25.4v12.8h-25.4zM3552.3 2386.3h12.8v12.8h-12.8zM3577.4 2386.3h12.8v12.8h-12.8zM3602.4 2386.3h12.8v12.8h-12.8zM3276.5 2398.8h12.8v12.8h-12.8zM3301.6 2398.8h37.9v12.8h-37.9zM3364.3 2398.8h12.8v12.8h-12.8zM3389.3 2398.8h12.8v12.8h-12.8zM3414.4 2398.8h50.4v12.8h-50.4zM3489.6 2398.8h12.8v12.8h-12.8zM3527.2 2398.8h12.8v12.8h-12.8zM3577.4 2398.8h12.8v12.8h-12.8zM3602.4 2398.8h12.8v12.8h-12.8zM3289.1 2411.3h12.8v12.8h-12.8zM3326.7 2411.3h25.4v12.8h-25.4zM3389.3 2411.3h12.8v12.8h-12.8zM3427.0 2411.3h37.9v12.8h-37.9zM3477.1 2411.3h25.4v12.8h-25.4zM3552.3 2411.3h12.8v12.8h-12.8zM3577.4 2411.3h25.4v12.8h-25.4zM3289.1 2423.9h37.9v12.8h-37.9zM3351.7 2423.9h25.4v12.8h-25.4zM3414.4 2423.9h25.4v12.8h-25.4zM3452.0 2423.9h12.8v12.8h-12.8zM3502.2 2423.9h88.0v12.8h-88.0zM3615.0 2423.9h12.8v12.8h-12.8zM3289.1 2436.4h25.4v12.8h-25.4zM3326.7 2436.4h25.4v12.8h-25.4zM3364.3 2436.4h37.9v12.8h-37.9zM3414.4 2436.4h12.8v12.8h-12.8zM3439.5 2436.4h25.4v12.8h-25.4zM3477.1 2436.4h25.4v12.8h-25.4zM3514.7 2436.4h37.9v12.8h-37.9zM3264.0 2449.0h37.9v12.8h-37.9zM3376.8 2449.0h12.8v12.8h-12.8zM3452.0 2449.0h12.8v12.8h-12.8zM3502.2 2449.0h25.4v12.8h-25.4zM3564.8 2449.0h25.4v12.8h-25.4zM3602.4 2449.0h12.8v12.8h-12.8zM3289.1 2461.5h37.9v12.8h-37.9zM3339.2 2461.5h25.4v12.8h-25.4zM3401.9 2461.5h25.4v12.8h-25.4zM3452.0 2461.5h63.0v12.8h-63.0zM3552.3 2461.5h12.8v12.8h-12.8zM3577.4 2461.5h50.4v12.8h-50.4zM3276.5 2474.0h12.8v12.8h-12.8zM3314.1 2474.0h12.8v12.8h-12.8zM3351.7 2474.0h25.4v12.8h-25.4zM3389.3 2474.0h25.4v12.8h-25.4zM3439.5 2474.0h12.8v12.8h-12.8zM3502.2 2474.0h12.8v12.8h-12.8zM3539.8 2474.0h37.9v12.8h-37.9zM3602.4 2474.0h25.4v12.8h-25.4zM3264.0 2486.6h12.8v12.8h-12.8zM3289.1 2486.6h25.4v12.8h-25.4zM3339.2 2486.6h12.8v12.8h-12.8zM3389.3 2486.6h25.4v12.8h-25.4zM3452.0 2486.6h25.4v12.8h-25.4zM3489.6 2486.6h12.8v12.8h-12.8zM3514.7 2486.6h12.8v12.8h-12.8zM3552.3 2486.6h25.4v12.8h-25.4zM3264.0 2499.1h12.8v12.8h-12.8zM3289.1 2499.1h25.4v12.8h-25.4zM3326.7 2499.1h12.8v12.8h-12.8zM3351.7 2499.1h12.8v12.8h-12.8zM3414.4 2499.1h50.4v12.8h-50.4zM3489.6 2499.1h63.0v12.8h-63.0zM3564.8 2499.1h25.4v12.8h-25.4zM3602.4 2499.1h12.8v12.8h-12.8zM3264.0 2511.6h12.8v12.8h-12.8zM3314.1 2511.6h37.9v12.8h-37.9zM3376.8 2511.6h25.4v12.8h-25.4zM3427.0 2511.6h25.4v12.8h-25.4zM3464.6 2511.6h37.9v12.8h-37.9zM3527.2 2511.6h12.8v12.8h-12.8zM3577.4 2511.6h37.9v12.8h-37.9zM3264.0 2524.2h12.8v12.8h-12.8zM3289.1 2524.2h50.4v12.8h-50.4zM3351.7 2524.2h12.8v12.8h-12.8zM3376.8 2524.2h25.4v12.8h-25.4zM3414.4 2524.2h25.4v12.8h-25.4zM3502.2 2524.2h75.5v12.8h-75.5zM3602.4 2524.2h25.4v12.8h-25.4zM3264.0 2536.7h12.8v12.8h-12.8zM3289.1 2536.7h12.8v12.8h-12.8zM3326.7 2536.7h25.4v12.8h-25.4zM3376.8 2536.7h25.4v12.8h-25.4zM3414.4 2536.7h12.8v12.8h-12.8zM3439.5 2536.7h63.0v12.8h-63.0zM3514.7 2536.7h100.6v12.8h-100.6zM3364.3 2549.2h12.8v12.8h-12.8zM3452.0 2549.2h12.8v12.8h-12.8zM3489.6 2549.2h12.8v12.8h-12.8zM3514.7 2549.2h12.8v12.8h-12.8zM3564.8 2549.2h12.8v12.8h-12.8zM3602.4 2549.2h12.8v12.8h-12.8zM3264.0 2561.8h88.0v12.8h-88.0zM3364.3 2561.8h25.4v12.8h-25.4zM3401.9 2561.8h25.4v12.8h-25.4zM3452.0 2561.8h75.5v12.8h-75.5zM3539.8 2561.8h12.8v12.8h-12.8zM3564.8 2561.8h37.9v12.8h-37.9zM3264.0 2574.3h12.8v12.8h-12.8zM3339.2 2574.3h12.8v12.8h-12.8zM3401.9 2574.3h12.8v12.8h-12.8zM3439.5 2574.3h12.8v12.8h-12.8zM3477.1 2574.3h25.4v12.8h-25.4zM3514.7 2574.3h12.8v12.8h-12.8zM3564.8 2574.3h12.8v12.8h-12.8zM3589.9 2574.3h37.9v12.8h-37.9zM3264.0 2586.8h12.8v12.8h-12.8zM3289.1 2586.8h37.9v12.8h-37.9zM3339.2 2586.8h12.8v12.8h-12.8zM3364.3 2586.8h12.8v12.8h-12.8zM3401.9 2586.8h12.8v12.8h-12.8zM3452.0 2586.8h37.9v12.8h-37.9zM3514.7 2586.8h63.0v12.8h-63.0zM3589.9 2586.8h37.9v12.8h-37.9zM3264.0 2599.4h12.8v12.8h-12.8zM3289.1 2599.4h37.9v12.8h-37.9zM3339.2 2599.4h12.8v12.8h-12.8zM3364.3 2599.4h37.9v12.8h-37.9zM3414.4 2599.4h50.4v12.8h-50.4zM3489.6 2599.4h37.9v12.8h-37.9zM3539.8 2599.4h25.4v12.8h-25.4zM3264.0 2611.9h12.8v12.8h-12.8zM3289.1 2611.9h37.9v12.8h-37.9zM3339.2 2611.9h12.8v12.8h-12.8zM3364.3 2611.9h12.8v12.8h-12.8zM3389.3 2611.9h12.8v12.8h-12.8zM3427.0 2611.9h88.0v12.8h-88.0zM3527.2 2611.9h37.9v12.8h-37.9zM3589.9 2611.9h25.4v12.8h-25.4zM3264.0 2624.4h12.8v12.8h-12.8zM3339.2 2624.4h12.8v12.8h-12.8zM3364.3 2624.4h37.9v12.8h-37.9zM3414.4 2624.4h25.4v12.8h-25.4zM3502.2 2624.4h25.4v12.8h-25.4zM3577.4 2624.4h25.4v12.8h-25.4zM3615.0 2624.4h12.8v12.8h-12.8zM3264.0 2637.0h88.0v12.8h-88.0zM3364.3 2637.0h25.4v12.8h-25.4zM3414.4 2637.0h12.8v12.8h-12.8zM3439.5 2637.0h25.4v12.8h-25.4zM3489.6 2637.0h63.0v12.8h-63.0zM3564.8 2637.0h37.9v12.8h-37.9z" fill="#000"/>
<g transform="translate(240 90) scale(0.22648)" fill="#851f70"><path d="M420 100H655V168H490V243H635V305H490V445H420Z"/><path d="M900 210V190Q900 130 835 130H797Q732 130 732 195V352Q732 417 797 417H835Q900 417 900 357V335" fill="none" stroke="#851f70" stroke-width="70"/><path d="M970 445L1075 100H1150L1255 445H1180L1161 377H1062L1043 445ZM1080 316H1143L1112 196Z" fill-rule="evenodd"/><path d="M1295 100H1490V165H1428V380H1490V445H1295V380H1358V165H1295Z"/></g>
<g transform="translate(240 90) scale(0.22648)"><path d="M708 620V842H358Z" fill="#fdc300" stroke="#00215e" stroke-width="4" stroke-linejoin="round"/><g fill="none" stroke="#00215e" stroke-width="38"><path d="M100 987H226V950Q226 914 190 914H134Q98 914 98 950V1020Q98 1056 134 1056H238"/><path d="M294 825V1075"/><path d="M516 914H412Q379 914 379 948Q379 985 412 985H474Q507 985 507 1020Q507 1056 474 1056H362"/><path d="M566 914H664Q698 914 698 950V1056H610Q575 1056 575 1020Q575 985 610 985H698M690 1056H726"/></g></g>
<rect x="449" y="300.6" width="88.4" height="58.9" fill="#0c4da0"/>
<g fill="#ffd617"><polygon points="493.20,307.10 493.94,309.38 496.34,309.38 494.40,310.79 495.14,313.07 493.20,311.66 491.26,313.07 492.00,310.79 490.06,309.38 492.46,309.38"/><polygon points="503.05,309.74 503.79,312.02 506.19,312.02 504.25,313.43 504.99,315.71 503.05,314.30 501.11,315.71 501.85,313.43 499.91,312.02 502.31,312.02"/><polygon points="510.26,316.95 511.00,319.23 513.40,319.23 511.46,320.64 512.20,322.92 510.26,321.51 508.32,322.92 509.06,320.64 507.12,319.23 509.52,319.23"/><polygon points="512.90,326.80 513.64,329.08 516.04,329.08 514.10,330.49 514.84,332.77 512.90,331.36 510.96,332.77 511.70,330.49 509.76,329.08 512.16,329.08"/><polygon points="510.26,336.65 511.00,338.93 513.40,338.93 511.46,340.34 512.20,342.62 510.26,341.21 508.32,342.62 509.06,340.34 507.12,338.93 509.52,338.93"/><polygon points="503.05,343.86 503.79,346.14 506.19,346.14 504.25,347.55 504.99,349.83 503.05,348.42 501.11,349.83 501.85,347.55 499.91,346.14 502.31,346.14"/><polygon points="493.20,346.50 493.94,348.78 496.34,348.78 494.40,350.19 495.14,352.47 493.20,351.06 491.26,352.47 492.00,350.19 490.06,348.78 492.46,348.78"/><polygon points="483.35,343.86 484.09,346.14 486.49,346.14 484.55,347.55 485.29,349.83 483.35,348.42 481.41,349.83 482.15,347.55 480.21,346.14 482.61,346.14"/><polygon points="476.14,336.65 476.88,338.93 479.28,338.93 477.34,340.34 478.08,342.62 476.14,341.21 474.20,342.62 474.94,340.34 473.00,338.93 475.40,338.93"/><polygon points="473.50,326.80 474.24,329.08 476.64,329.08 474.70,330.49 475.44,332.77 473.50,331.36 471.56,332.77 472.30,330.49 470.36,329.08 472.76,329.08"/><polygon points="476.14,316.95 476.88,319.23 479.28,319.23 477.34,320.64 478.08,322.92 476.14,321.51 474.20,322.92 474.94,320.64 473.00,319.23 475.40,319.23"/><polygon points="483.35,309.74 484.09,312.02 486.49,312.02 484.55,313.43 485.29,315.71 483.35,314.30 481.41,315.71 482.15,313.43 480.21,312.02 482.61,312.02"/></g>
<g transform="translate(3300 100) scale(0.14808)" fill="#231f20"><path d="M540 212C600 215 660 250 690 310C698 340 700 370 712 395C725 415 745 425 772 424C768 445 775 462 792 478C820 495 855 510 885 530C905 545 922 560 935 578C915 568 895 560 872 562C855 564 842 570 833 578C828 562 815 552 795 550C775 550 755 556 738 560C720 560 700 552 684 542C705 560 725 580 740 600C750 615 755 628 752 640C740 625 722 612 700 605C672 596 640 596 608 588C640 610 668 635 680 662C688 680 690 700 688 722C672 705 650 692 622 686C598 682 572 686 552 680C532 672 520 655 508 638C480 645 450 652 420 650C392 646 365 636 350 620C330 598 318 572 315 545C335 555 360 565 385 566C405 566 425 562 442 554C418 550 398 540 388 524C378 508 378 492 368 478C355 466 335 462 312 460C290 458 265 452 250 440C232 426 222 408 212 390C202 372 192 352 178 338C166 326 150 318 135 315C158 308 182 306 202 312C222 318 240 330 252 342C260 350 268 356 276 355C284 352 286 342 284 332C278 316 260 302 240 295C262 286 286 286 306 294C330 304 348 322 366 338C380 350 392 362 410 368C428 372 446 370 462 368C440 358 426 340 416 320C406 300 398 280 384 266C374 256 362 248 350 245C374 236 400 236 424 244C448 254 468 270 488 284C502 294 518 300 532 296C550 290 562 276 564 260C566 242 555 225 540 212Z"/><rect x="500" y="82" width="73" height="73"/><rect x="500" y="760" width="73" height="73"/><rect x="500" y="421" width="73" height="74" fill="#fff"/></g>
<g transform="translate(3130 260) scale(0.29616)"><clipPath id="shc"><path d="M55 75H227V190Q227 240 141 276Q55 240 55 190Z"/></clipPath><g clip-path="url(#shc)"><rect x="55" y="75" width="172" height="201" fill="#d8402c"/><rect x="120" y="75" width="42" height="201" fill="#fff"/><rect x="55" y="145" width="172" height="37" fill="#fff"/><g id="lion" fill="#f0c02c"><ellipse cx="2" cy="-2" rx="21" ry="8.5"/><circle cx="-19" cy="-9" r="8.5"/><rect x="-17" y="2" width="5" height="15"/><rect x="-7" y="2" width="5" height="15"/><rect x="8" y="2" width="5" height="15"/><rect x="17" y="2" width="5" height="15"/><path d="M22 -5q12 -10 2 -19" fill="none" stroke="#f0c02c" stroke-width="4"/></g><use href="#lion" x="88" y="112"/><use href="#lion" x="194" y="112"/><use href="#lion" transform="translate(92 216) scale(0.9)"/><use href="#lion" transform="translate(190 216) scale(0.9)"/><rect x="124" y="148" width="34" height="31" fill="#d8402c"/><rect x="131" y="155" width="20" height="14" fill="#f0c02c"/><g fill="#222"><circle cx="133" cy="92" r="3"/><circle cx="149" cy="92" r="3"/><circle cx="141" cy="112" r="3"/><circle cx="133" cy="130" r="3"/><circle cx="149" cy="130" r="3"/><circle cx="133" cy="198" r="3"/><circle cx="149" cy="198" r="3"/><circle cx="141" cy="218" r="3"/><circle cx="133" cy="238" r="3"/><circle cx="149" cy="238" r="3"/><circle cx="141" cy="256" r="3"/><circle cx="70" cy="163" r="3"/><circle cx="88" cy="163" r="3"/><circle cx="106" cy="163" r="3"/><circle cx="176" cy="163" r="3"/><circle cx="194" cy="163" r="3"/><circle cx="212" cy="163" r="3"/></g></g><path d="M55 75H227V190Q227 240 141 276Q55 240 55 190Z" fill="none" stroke="#333" stroke-width="3"/></g>
<rect x="3507" y="276.9" width="28.7" height="28.6" fill="#f25022"/><rect x="3538.7" y="276.9" width="28.7" height="28.6" fill="#7fba00"/><rect x="3507" y="308.9" width="28.7" height="28.7" fill="#00a4ef"/><rect x="3538.7" y="308.9" width="28.7" height="28.7" fill="#ffb900"/>
<g id="diamond" stroke="#000" fill="none"><path d="M443.7 599.5L618.7 759.6L443.7 921L270 759.6Z" stroke-width="1.4"/><path d="M443.7 632V734M443.7 786V891M290 760.8H395M491 760.6H590" stroke-width="1"/><g fill="#000" stroke="none"><path d="M443.7 626.5l-3.6 7.5h7.2zM443.7 739.5l-3.6-7.5h7.2zM443.7 780.3l-3.6 7.5h7.2zM443.7 896.8l-3.6-7.5h7.2z"/><path d="M283.8 760.8l7.5-3.6v7.2zM401 760.6l-7.5-3.6v7.2zM485.4 760.6l7.5-3.6v7.2zM595.6 760.6l-7.5-3.6v7.2z"/></g></g>
<path d="M313.0 1177.2H302.2A12.2 12.2 0 0 0 302.2 1201.8H313.0M290.0 1189.5H313.0" fill="none" stroke="#000" stroke-width="3.1"/>
<path d="M702.5 1177.2H691.8A12.2 12.2 0 0 0 691.8 1201.8H702.5M679.5 1189.5H702.5" fill="none" stroke="#000" stroke-width="3.1"/>
<path d="M194.2 1220.8V1235.1999999999998A29.3 3.2 0 0 0 252.79999999999998 1235.1999999999998V1220.8Z" fill="#c55a11"/><ellipse cx="223.5" cy="1220.8" rx="29.3" ry="3.2" fill="#d98c5a"/>
<path d="M194.2 1198.8V1212.8A29.3 3.2 0 0 0 252.79999999999998 1212.8V1198.8Z" fill="#ff0000"/><ellipse cx="223.5" cy="1198.8" rx="29.3" ry="3.2" fill="#ff5b5b"/>
<path d="M194.2 1176.6000000000001V1190.4A29.3 3.2 0 0 0 252.79999999999998 1190.4V1176.6000000000001Z" fill="#0e1a33"/><ellipse cx="223.5" cy="1176.6000000000001" rx="29.3" ry="3.2" fill="#5d6878"/>
<path d="M194.2 1154.6000000000001V1168.6000000000001A29.3 3.2 0 0 0 252.79999999999998 1168.6000000000001V1154.6000000000001Z" fill="#7030a0"/><ellipse cx="223.5" cy="1154.6000000000001" rx="29.3" ry="3.2" fill="#9a6cc0"/>
<path d="M582.6 1220.8V1235.1999999999998A29.3 3.2 0 0 0 641.2 1235.1999999999998V1220.8Z" fill="#c55a11"/><ellipse cx="611.9" cy="1220.8" rx="29.3" ry="3.2" fill="#d98c5a"/>
<path d="M582.6 1198.8V1212.8A29.3 3.2 0 0 0 641.2 1212.8V1198.8Z" fill="#ff0000"/><ellipse cx="611.9" cy="1198.8" rx="29.3" ry="3.2" fill="#ff5b5b"/>
<path d="M582.6 1176.6000000000001V1190.4A29.3 3.2 0 0 0 641.2 1190.4V1176.6000000000001Z" fill="#0e1a33"/><ellipse cx="611.9" cy="1176.6000000000001" rx="29.3" ry="3.2" fill="#5d6878"/>
<path d="M582.6 1154.6000000000001V1168.6000000000001A29.3 3.2 0 0 0 641.2 1168.6000000000001V1154.6000000000001Z" fill="#7030a0"/><ellipse cx="611.9" cy="1154.6000000000001" rx="29.3" ry="3.2" fill="#9a6cc0"/>
<path d="M576.6 1176L647.2 1191M576.6 1191L647.2 1176" stroke="#000" stroke-width="6.5"/>
<defs><filter id="fz" x="0" y="0" width="100%" height="100%"><feTurbulence type="fractalNoise" baseFrequency="0.16" numOctaves="2" seed="3" result="n"/><feColorMatrix in="n" type="matrix" values="0 0 0 0 0.95  0 0 0 0 0.97  0 0 0 0 1  1.5 0 0 0 -0.5"/><feComposite operator="in" in2="SourceGraphic"/></filter><linearGradient id="catb" x1="0" y1="0" x2="1" y2="0.3"><stop offset="0" stop-color="#efe6d8"/><stop offset="0.45" stop-color="#d9c6ad"/><stop offset="1" stop-color="#a88d73"/></linearGradient><radialGradient id="catr" cx="0.5" cy="0.5" r="0.5"><stop offset="0" stop-color="#5a4234" stop-opacity="0.9"/><stop offset="1" stop-color="#5a4234" stop-opacity="0"/></radialGradient><g id="cat"><path d="M300 352C360 350 430 340 500 345C560 360 640 430 700 500C740 550 770 600 775 640L765 690H480C400 680 300 640 240 590C205 540 195 470 200 420Z" fill="url(#catb)"/><ellipse cx="670" cy="545" rx="70" ry="60" fill="url(#catr)"/><path d="M380 530C400 540 410 560 400 590C380 630 350 670 330 692L262 702C245 695 245 680 262 668C285 650 310 650 320 640C340 600 360 560 380 530Z" fill="#2a1d18"/><path d="M468 685C480 660 520 645 560 650C620 660 690 665 740 650C760 640 770 620 772 610C785 640 785 670 765 697L480 700Z" fill="#17110e"/><path d="M152 203C150 240 155 280 165 312L216 290C200 255 180 225 152 203ZM326 208C300 230 282 260 270 290L318 312C326 280 330 240 326 208Z" fill="#2e211b"/><path d="M165 312C175 290 200 278 240 278C280 278 305 292 318 312C322 350 300 390 270 405C250 415 225 415 208 402C180 385 162 350 165 312Z" fill="#c9b49d"/><path d="M180 320C195 300 220 296 240 296C265 296 290 302 302 322C302 360 285 392 262 404C245 412 228 410 215 400C190 380 180 350 180 320Z" fill="#231814"/><circle cx="209" cy="331" r="9" fill="#4a8fd0"/><circle cx="271" cy="331" r="9" fill="#4a8fd0"/><circle cx="209" cy="331" r="3.5" fill="#111"/><circle cx="271" cy="331" r="3.5" fill="#111"/></g></defs>
<rect x="195.6" y="1550.9" width="331.1" height="98.19999999999982" fill="#d6e3f4"/><rect x="195.6" y="1550.9" width="331.1" height="98.19999999999982" fill="#fff" filter="url(#fz)"/>
<rect x="195.6" y="1550.9" width="331.1" height="98.19999999999982" fill="none" stroke="#000" stroke-width="1.5"/>
<path d="M526.7 1550.9L693.6 1570.5V1629.5L526.7 1649.1Z" fill="#00b050" stroke="#000" stroke-width="1.5" stroke-linejoin="round"/>
<path d="M147.5 1600.0H189M693.6 1600.0H720" stroke="#000" stroke-width="1" fill="none"/><path d="M195.6 1600.0l-8.6-4.3v8.6zM726.8 1600.0l-8.6-4.3v8.6z" fill="#000"/>
<use href="#cat" transform="translate(40 1539.6) scale(0.13067)"/>
<rect x="195.6" y="1715.1" width="331.1" height="97.80000000000018" fill="#d6e3f4"/><rect x="195.6" y="1715.1" width="331.1" height="97.80000000000018" fill="#fff" filter="url(#fz)"/>
<rect x="223.4" y="1715.1" width="8.1" height="97.80000000000018" fill="#00b050" stroke="#000" stroke-width="0.9"/>
<rect x="253.4" y="1715.1" width="8.1" height="97.80000000000018" fill="#00b050" stroke="#000" stroke-width="0.9"/>
<rect x="283.1" y="1715.1" width="8.1" height="97.80000000000018" fill="#00b050" stroke="#000" stroke-width="0.9"/>
<rect x="312.6" y="1715.1" width="8.1" height="97.80000000000018" fill="#00b050" stroke="#000" stroke-width="0.9"/>
<rect x="342.3" y="1715.1" width="8.1" height="97.80000000000018" fill="#00b050" stroke="#000" stroke-width="0.9"/>
<rect x="371.9" y="1715.1" width="8.1" height="97.80000000000018" fill="#00b050" stroke="#000" stroke-width="0.9"/>
<rect x="401.8" y="1715.1" width="8.1" height="97.80000000000018" fill="#00b050" stroke="#000" stroke-width="0.9"/>
<rect x="431.1" y="1715.1" width="8.1" height="97.80000000000018" fill="#00b050" stroke="#000" stroke-width="0.9"/>
<rect x="461.1" y="1715.1" width="8.1" height="97.80000000000018" fill="#00b050" stroke="#000" stroke-width="0.9"/>
<rect x="491.2" y="1715.1" width="8.1" height="97.80000000000018" fill="#00b050" stroke="#000" stroke-width="0.9"/>
<rect x="195.6" y="1715.1" width="331.1" height="97.80000000000018" fill="none" stroke="#000" stroke-width="1.5"/>
<path d="M526.7 1715.1L693.6 1734.7V1793.3L526.7 1812.9Z" fill="#00b050" stroke="#000" stroke-width="1.5" stroke-linejoin="round"/>
<path d="M147.5 1764.0H189M693.6 1764.0H720" stroke="#000" stroke-width="1" fill="none"/><path d="M195.6 1764.0l-8.6-4.3v8.6zM726.8 1764.0l-8.6-4.3v8.6z" fill="#000"/>
<use href="#cat" transform="translate(40 1703.6) scale(0.13067)"/>
<rect x="195.6" y="1868.0" width="331.1" height="97.90000000000009" fill="#00b050"/>
<rect x="195.6" y="1868.0" width="331.1" height="97.90000000000009" fill="none" stroke="#000" stroke-width="1.5"/>
<path d="M526.7 1868.0L693.6 1887.6V1946.3L526.7 1965.9Z" fill="#00b050" stroke="#000" stroke-width="1.5" stroke-linejoin="round"/>
<path d="M147.5 1917.0H189M693.6 1917.0H720" stroke="#000" stroke-width="1" fill="none"/><path d="M195.6 1917.0l-8.6-4.3v8.6zM726.8 1917.0l-8.6-4.3v8.6z" fill="#000"/>
<use href="#cat" transform="translate(40 1856.5) scale(0.13067)"/>
<rect x="821.9" y="1548.2" width="32.3" height="32.3" fill="#00b050" stroke="#000" stroke-width="1.5"/>
<rect x="821.9" y="1602.9" width="32.3" height="31.9" fill="#d6e3f4"/><rect x="821.9" y="1602.9" width="32.3" height="31.9" fill="#fff" filter="url(#fz)"/><rect x="821.9" y="1602.9" width="32.3" height="31.9" fill="none" stroke="#000" stroke-width="1.5"/>
</svg>
<div class="t" id="t0" style="left:1080.8px;top:94.3px;font-size:74px;font-weight:bold;transform:scaleX(0.9349)">On the Efficacy of Differentially Private Few-shot Image</div>
<div class="t" id="t1" style="left:1762.8px;top:165.7px;font-size:74px;font-weight:bold;transform:scaleX(0.9423)">Classification</div>
<div class="t" id="t2" style="left:1061.7px;top:246.2px;font-size:36.5px;font-weight:bold;transform:scaleX(0.9021)">Marlon Tobaben*<sup>1</sup>, Aliaksandra Shysheya*<sup>2</sup>, John Bronskill<sup>2</sup>, Andrew Paverd<sup>3</sup>, Shruti Tople<sup>3</sup>, Santiago Zanella-Beguelin<sup>3</sup>,</div>
<div class="t" id="t3" style="left:1728.2px;top:282.8px;font-size:36.5px;font-weight:bold;transform:scaleX(0.9121)">Richard E Turner<sup>2</sup>, Antti Honkela<sup>1</sup></div>
<div class="t" id="t4" style="left:1614.7px;top:322.7px;font-size:24px;transform:scaleX(1.0115)"><sup>1</sup>University of Helsinki, <sup>2</sup>University of Cambridge, <sup>3</sup>Microsoft Research</div>
<div class="t" id="t5" style="left:86.2px;top:446.4px;font-size:41px;font-weight:bold;color:#fff;transform:scaleX(0.9727)">Few-shot DP evaluation</div>
<div class="t" id="t6" style="left:86.2px;top:1430.6px;font-size:41px;font-weight:bold;color:#fff;transform:scaleX(0.9717)">Transfer learning with pretrained backbones</div>
<div class="t" id="t7" style="left:86.2px;top:2139.4px;font-size:41px;font-weight:bold;color:#fff;transform:scaleX(0.9630)">Data Distribution Overlap (DDO)</div>
<div class="t" id="t8" style="left:86.2px;top:2526.1px;font-size:41px;font-weight:bold;color:#fff;transform:scaleX(0.9925)">Membership inference attacks (MIAs)</div>
<div class="t" id="t9" style="left:1059.2px;top:446.4px;font-size:41px;font-weight:bold;color:#fff;transform:scaleX(0.9693)">Effect of Shots and Privacy for different data distribution overlap (DDO)</div>
<div class="t" id="t10" style="left:1059.2px;top:2563.9px;font-size:41px;font-weight:bold;color:#fff;transform:scaleX(0.9820)">References</div>
<div class="t" id="t11" style="left:3010.2px;top:446.4px;font-size:41px;font-weight:bold;color:#fff;transform:scaleX(0.9687)">How much more data for DP?</div>
<div class="t" id="t12" style="left:3010.2px;top:1217.7px;font-size:41px;font-weight:bold;color:#fff;transform:scaleX(0.9680)">LiRA attack [1] on few-shot models</div>
<div class="t" id="t13" style="left:3010.2px;top:2161.7px;font-size:41px;font-weight:bold;color:#fff">Link to arXiv:2302.01190</div>
<div class="t" id="t14" style="left:83.2px;top:1065.9px;font-size:41px;font-weight:bold;color:#fff;transform:scaleX(1.0093)"><span style="font-family:'Liberation Serif', serif;font-weight:normal;font-size:1.12em">(</span><span class="m">ϵ</span>, <span class="m">δ</span><span style="font-family:'Liberation Serif', serif;font-weight:normal;font-size:1.12em">)</span>-Differential Privacy (DP)</div>
<div class="t" id="t15" style="left:1058.2px;top:1812.8px;font-size:41px;font-weight:bold;color:#fff;transform:scaleX(0.9976)">VTAB-1k benchmark [2] (19 datasets with random <span style="font-weight:normal">|</span><i>D</i><span style="font-weight:normal">|</span> = 1000)</div>
<div class="t" id="t16" style="left:103.0px;top:1254.0px;font-size:37px;transform:scaleX(1.0387)"><span class="m">ϵ</span> ≥ 0 (lower means more private)</div>
<div class="t" id="t17" style="left:103.0px;top:1297.7px;font-size:37px;transform:scaleX(1.0311)"><span class="m">δ</span> <svg width="0.62em" height="0.6em" viewBox="0 0 62 60" style="vertical-align:-0.02em"><path d="M58 4H34C16 4 5 15 5 30s11 26 29 26h24M6 30h52" fill="none" stroke="#000" stroke-width="4.5"/></svg> [0, 1]; we train with <span class="m">δ</span> = 1/|<span class="m">D</span>|</div>
<div class="t" id="t18" style="left:103.0px;top:1341.3px;font-size:37px;transform:scaleX(0.9737)">We train with DP-SGD</div>
<div class="t" id="t19" style="left:103.0px;top:1997.5px;font-size:37px;transform:scaleX(1.0130)">ResNet-50 (23.5M parameters)</div>
<div class="t" id="t20" style="left:103.0px;top:2041.0px;font-size:37px;transform:scaleX(1.0156)">Vision Transformer ViT-B (85.8M parameters)</div>
<div class="t" id="t21" style="left:70.3px;top:2228.0px;font-size:37px;transform:scaleX(1.0231)">The overlap between the distributions of pretraining</div>
<div class="t" id="t22" style="left:70.3px;top:2267.4px;font-size:37px;transform:scaleX(1.0250)">and downstream dataset is a key determinant of the</div>
<div class="t" id="t23" style="left:70.3px;top:2306.9px;font-size:37px;transform:scaleX(1.0199)">ease and success of transfer learning:</div>
<div class="t" id="t24" style="left:103.0px;top:2384.1px;font-size:37px;transform:scaleX(0.9901)">High DDO: little adaptation required (CIFAR-10)</div>
<div class="t" id="t25" style="left:103.0px;top:2427.6px;font-size:37px;transform:scaleX(0.9981)">Low DDO: large adaptation required (SVHN)</div>
<div class="t" id="t26" style="left:103.0px;top:2616.9px;font-size:37px;transform:scaleX(0.9951)">We use the SOTA Likelihood Ratio Attack (LiRA) [1]</div>
<div class="t" id="t27" style="left:103.0px;top:2660.9px;font-size:37px;transform:scaleX(1.0237)">Black box access to the model (losses)</div>
<div class="t" id="t28" style="left:103.0px;top:2704.4px;font-size:37px;transform:scaleX(1.0367)">Access to images from train data distribution</div>
<div class="t" id="t29" style="left:103.0px;top:2747.9px;font-size:37px;transform:scaleX(1.0107)">Knowledge of training algorithm and hyperparameters</div>
<div class="t" id="t30" style="left:1076.3px;top:538.4px;font-size:37px;transform:scaleX(1.0187)">At low shot, accuracy degrades significantly with increasing privacy level</div>
<div class="t" id="t31" style="left:1076.3px;top:582.2px;font-size:37px;transform:scaleX(0.9982)">High DDO: 100 shots are required for high accuracy (90%)</div>
<div class="t" id="t32" style="left:1076.3px;top:625.9px;font-size:37px;transform:scaleX(1.0107)">Low DDO: More data is required to close gap to non-private performance</div>
<div class="t" id="t33" style="left:1076.3px;top:1174.9px;font-size:37px;transform:scaleX(1.0154)">FiLM is at least as good or better as All and Head</div>
<div class="t" id="t34" style="left:1076.3px;top:1218.7px;font-size:37px;transform:scaleX(1.0101)">Head falls short when DDO is low</div>
<div class="t" id="t35" style="left:1076.3px;top:1906.6px;font-size:37px;transform:scaleX(0.9931)">Non-private: All &gt; FiLM &gt; Head (Gray)</div>
<div class="t" id="t36" style="left:1076.3px;top:1950.2px;font-size:37px;transform:scaleX(1.0045)">Private FiLM &gt;= Head &gt; All (colored bars)</div>
<div class="t" id="t37" style="left:1076.3px;top:1993.8px;font-size:37px;transform:scaleX(1.0160)">Encourage DP researchers to test methods on more challenging datasets</div>
<div class="t" id="t38" style="left:3027.3px;top:528.0px;font-size:37px;transform:scaleX(1.0184)">32x data required at <span class="m">ϵ</span> = 1 to match non-private</div>
<div class="t" id="t39" style="left:3027.3px;top:567.6px;font-size:37px;transform:scaleX(1.0158)">accuracy when shots = 5</div>
<div class="t" id="t40" style="left:3027.3px;top:1307.9px;font-size:37px;transform:scaleX(1.0124)">Non-private models are extremely vulnerable to MIAs</div>
<div class="t" id="t41" style="left:3027.3px;top:1351.4px;font-size:37px;transform:scaleX(1.0317)">DP significantly mitigates the success of MIA</div>
<div class="t" id="t42" style="left:1116.5px;top:1124.5px;font-size:24px;transform:scaleX(1.0157)"><span style="color:#871a68">Figure 1:</span> Classification accuracy for VIT-B and the best performing configuration out of All, FiLM and Head is used for each combination of <span class="m">ϵ</span> and <i>S</i>, with <span class="m">δ</span> = 1/|<span class="m">D</span>|.</div>
<div class="t" id="t43" style="left:1300.5px;top:1709.0px;font-size:24px;transform:scaleX(1.0297)"><span style="color:#871a68">Figure 2:</span> Classification accuracy as a function of datasets and configurations. Backbone is VIT-B and <span class="m">ϵ</span> <svg width="0.62em" height="0.6em" viewBox="0 0 62 60" style="vertical-align:-0.02em"><path d="M58 4H34C16 4 5 15 5 30s11 26 29 26h24M6 30h52" fill="none" stroke="#000" stroke-width="4.5"/></svg> {2, ∞} with <span class="m">δ</span> = 1/|<span class="m">D</span>|.</div>
<div class="t" id="t44" style="left:1025.5px;top:2432.5px;font-size:24px;transform:scaleX(1.0118)"><span style="color:#871a68">Figure 3:</span> Average classification accuracy over all VTAB-1k datasets as a function of backbone, learnable parameters, and privacy level (<span class="m">ϵ</span>) at <span class="m">δ</span> = 10<sup>−3</sup>. Colored columns indicate</div>
<div class="t" id="t45" style="left:1025.5px;top:2462.1px;font-size:24px;transform:scaleX(1.0139)">results under DP, light gray indicates non-private accuracy for the corresponding configuration.</div>
<div class="t" id="t46" style="left:2976.1px;top:1084.0px;font-size:24px;transform:scaleX(1.0171)"><span style="color:#871a68">Figure 4:</span> Multiplier of shots required to reach same accuracy as non-private with <i>S</i> = 5</div>
<div class="t" id="t47" style="left:2976.1px;top:1113.9px;font-size:24px;transform:scaleX(1.0265)">for VIT-B with FiLM with <span class="m">δ</span> = 1/|<span class="m">D</span>|. The data is obtained using linear interpolation.</div>
<div class="t" id="t48" style="left:2976.1px;top:2031.9px;font-size:24px;transform:scaleX(0.9846)"><span style="color:#871a68">Figure 5:</span> ROC curves for LiRA [1] on CIFAR-100 with R-50 backbone for <i>S</i> = 50 where <span class="m">ϵ</span></div>
<div class="t" id="t49" style="left:2976.1px;top:2060.6px;font-size:24px;transform:scaleX(1.0038)">varies. TPR values in legend are measured at FPR=0.001. <span class="m">δ</span> = 1/50000.</div>
<div class="t" id="t50" style="left:1025.5px;top:2649.5px;font-size:27.5px;transform:scaleX(0.9402)">[1]</div>
<div class="t" id="t51" style="left:1083.8px;top:2649.5px;font-size:27.5px;transform:scaleX(1.0389)">Nicholas Carlini, Steve Chien, Milad Nasr, Shuang Song, Andreas Terzis, and Florian Tramèr. “Membership Inference Attacks From First Principles”.</div>
<div class="t" id="t52" style="left:1083.8px;top:2684.3px;font-size:27.5px;transform:scaleX(1.0026)">In: <i>43rd IEEE Symposium on Security and Privacy, SP 2022, San Francisco, CA, USA, May 22-26, 2022</i>. IEEE, 2022, pp. 1897–1914.</div>
<div class="t" id="t53" style="left:1025.5px;top:2725.1px;font-size:27.5px;transform:scaleX(1.0056)">[2]</div>
<div class="t" id="t54" style="left:1083.8px;top:2725.1px;font-size:27.5px;transform:scaleX(1.0460)">Xiaohua Zhai et al. “The Visual Task Adaptation Benchmark”. In: <i>CoRR</i> abs/1910.04867 (2019).</div>
<div class="t" id="t55" style="left:591.5px;top:111.9px;font-size:16.8px;font-weight:bold;color:#851f70;transform:scaleX(0.9582)">Finnish</div>
<div class="t" id="t56" style="left:591.5px;top:133.4px;font-size:16.8px;font-weight:bold;color:#851f70;transform:scaleX(0.9612)">Center for</div>
<div class="t" id="t57" style="left:591.5px;top:155.0px;font-size:16.8px;font-weight:bold;color:#851f70;transform:scaleX(0.9795)">Artificial</div>
<div class="t" id="t58" style="left:591.5px;top:176.5px;font-size:16.8px;font-weight:bold;color:#851f70;transform:scaleX(0.9876)">Intelligence</div>
<div class="t" id="t59" style="left:257.5px;top:339.7px;font-size:13.6px;color:#00215e;transform:scaleX(1.1479)">European Lighthouse</div>
<div class="t" id="t60" style="left:257.5px;top:352.6px;font-size:13.6px;color:#00215e;transform:scaleX(1.0905)">on Secure and Safe AI</div>
<div class="t" id="t61" style="left:549.2px;top:305.7px;font-size:20px;font-weight:bold;color:#1a4f9f;transform:scaleX(1.0236)">Funded by</div>
<div class="t" id="t62" style="left:549.2px;top:330.1px;font-size:20px;font-weight:bold;color:#1a4f9f;transform:scaleX(1.0189)">the European Union</div>
<div class="t" id="t63" style="left:3445.3px;top:160.1px;font-size:15.6px;font-weight:bold;color:#231f20;transform:scaleX(0.8811)">UNIVERSITY OF HELSINKI</div>
<div class="t" id="t64" style="left:3209.8px;top:279.0px;font-size:27.2px;font-family:'Liberation Serif', serif;transform:scaleX(1.1108)"><span style="-webkit-text-stroke:0.5px #000">UNIVERSITY OF</span></div>
<div class="t" id="t65" style="left:3209.6px;top:309.6px;font-size:33.6px;font-family:'Liberation Serif', serif;transform:scaleX(1.1234)"><span style="-webkit-text-stroke:0.6px #000">CAMBRIDGE</span></div>
<div class="t" id="t66" style="left:3581.5px;top:281.7px;font-size:50.5px;color:#737373;transform:scaleX(1.0034)"><span style="-webkit-text-stroke:1.1px #737373">Microsoft</span></div>
<div class="t" id="t67" style="left:273.4px;top:538.3px;font-size:23.6px;transform:scaleX(1.0523)">Data distribution overlap (DDO)</div>
<div class="t" id="t68" style="left:195.9px;top:571.0px;font-size:23.6px;transform:scaleX(1.0647)">[between pretraining and finetuning datasets]</div>
<div class="t" id="t69" style="left:164.0px;top:753.5px;font-size:23.6px;transform:scaleX(1.0129)">Privacy</div>
<div class="t" id="t70" style="left:411.4px;top:749.5px;font-size:23.6px;transform:scaleX(1.0640)">Utility</div>
<div class="t" id="t71" style="left:699.6px;top:718.1px;font-size:23.6px;transform:scaleX(1.0790)">Number of</div>
<div class="t" id="t72" style="left:643.5px;top:750.0px;font-size:23.6px;transform:scaleX(1.0497)">learnable parameters</div>
<div class="t" id="t73" style="left:673.7px;top:781.9px;font-size:23.6px;transform:scaleX(1.0566)">(Head/FiLM/All)</div>
<div class="t" id="t74" style="left:278.6px;top:937.6px;font-size:23.6px;transform:scaleX(1.0273)">Number of examples per class</div>
<div class="t" id="t75" style="left:405.8px;top:970.0px;font-size:23.6px;transform:scaleX(1.0589)">(shots)</div>
<div class="t" id="t76" style="left:73.5px;top:1165.1px;font-size:45px;font-family:'Liberation Serif', serif"><span style="-webkit-text-stroke:0.45px #000">Pr[</span></div>
<div class="t" id="t77" style="left:128.5px;top:1165.1px;font-size:45px;font-style:italic;font-family:'Liberation Serif', serif"><span style="-webkit-text-stroke:0.45px #000">M</span></div>
<div class="t" id="t78" style="left:174.0px;top:1165.1px;font-size:45px;font-family:'Liberation Serif', serif"><span style="-webkit-text-stroke:0.45px #000">(</span></div>
<div class="t" id="t79" style="left:258.5px;top:1165.1px;font-size:45px;font-family:'Liberation Serif', serif"><span style="-webkit-text-stroke:0.45px #000">)</span></div>
<div class="t" id="t80" style="left:325.5px;top:1165.1px;font-size:45px;font-style:italic;font-family:'Liberation Serif', serif"><span style="-webkit-text-stroke:0.45px #000">S</span></div>
<div class="t" id="t81" style="left:349.2px;top:1165.1px;font-size:45px;font-family:'Liberation Serif', serif"><span style="-webkit-text-stroke:0.45px #000">]</span></div>
<div class="t" id="t82" style="left:375.5px;top:1165.1px;font-size:45px;font-family:'Liberation Serif', serif"><span style="-webkit-text-stroke:0.45px #000">≤</span></div>
<div class="t" id="t83" style="left:415.5px;top:1165.1px;font-size:45px;font-style:italic;font-family:'Liberation Serif', serif"><span style="-webkit-text-stroke:0.45px #000">e</span></div>
<div class="t" id="t84" style="left:435.0px;top:1160.6px;font-size:31px;font-style:italic;font-family:'Liberation Serif', serif"><span style="-webkit-text-stroke:0.45px #000">ϵ</span></div>
<div class="t" id="t85" style="left:463.0px;top:1165.1px;font-size:45px;font-family:'Liberation Serif', serif"><span style="-webkit-text-stroke:0.45px #000">Pr[</span></div>
<div class="t" id="t86" style="left:518.5px;top:1165.1px;font-size:45px;font-style:italic;font-family:'Liberation Serif', serif"><span style="-webkit-text-stroke:0.45px #000">M</span></div>
<div class="t" id="t87" style="left:555.5px;top:1165.1px;font-size:45px;font-family:'Liberation Serif', serif"><span style="-webkit-text-stroke:0.45px #000">(</span></div>
<div class="t" id="t88" style="left:648.0px;top:1165.1px;font-size:45px;font-family:'Liberation Serif', serif"><span style="-webkit-text-stroke:0.45px #000">)</span></div>
<div class="t" id="t89" style="left:714.8px;top:1165.1px;font-size:45px;font-style:italic;font-family:'Liberation Serif', serif"><span style="-webkit-text-stroke:0.45px #000">S</span></div>
<div class="t" id="t90" style="left:738.5px;top:1165.1px;font-size:45px;font-family:'Liberation Serif', serif"><span style="-webkit-text-stroke:0.45px #000">]</span></div>
<div class="t" id="t91" style="left:766.5px;top:1165.1px;font-size:45px;font-family:'Liberation Serif', serif"><span style="-webkit-text-stroke:0.45px #000">+</span></div>
<div class="t" id="t92" style="left:801.0px;top:1165.1px;font-size:45px;font-style:italic;font-family:'Liberation Serif', serif"><span style="-webkit-text-stroke:0.45px #000">δ</span></div>
<div class="t" id="t93" style="left:739.3px;top:1588.2px;font-size:24.2px;transform:scaleX(1.0104)">Logits</div>
<div class="t" id="t94" style="left:739.3px;top:1752.2px;font-size:24.2px;transform:scaleX(1.0104)">Logits</div>
<div class="t" id="t95" style="left:739.3px;top:1905.1px;font-size:24.2px;transform:scaleX(1.0104)">Logits</div>
<div class="t" id="t96" style="left:338.7px;top:1518.8px;font-size:24.2px;transform:scaleX(1.0102)">Head</div>
<div class="t" id="t97" style="left:195.5px;top:1670.5px;font-size:24.2px;transform:scaleX(1.0269)">FiLM Adaptors (number of parameters &lt; 1% of All)</div>
<div class="t" id="t98" style="left:344.6px;top:1832.0px;font-size:24.2px;transform:scaleX(1.1312)">All</div>
<div class="t" id="t99" style="left:880.6px;top:1551.6px;font-size:24.2px;transform:scaleX(1.0263)">Learnable</div>
<div class="t" id="t100" style="left:880.6px;top:1600.5px;font-size:24.2px;transform:scaleX(0.9673)">Frozen</div>
</body></html>
